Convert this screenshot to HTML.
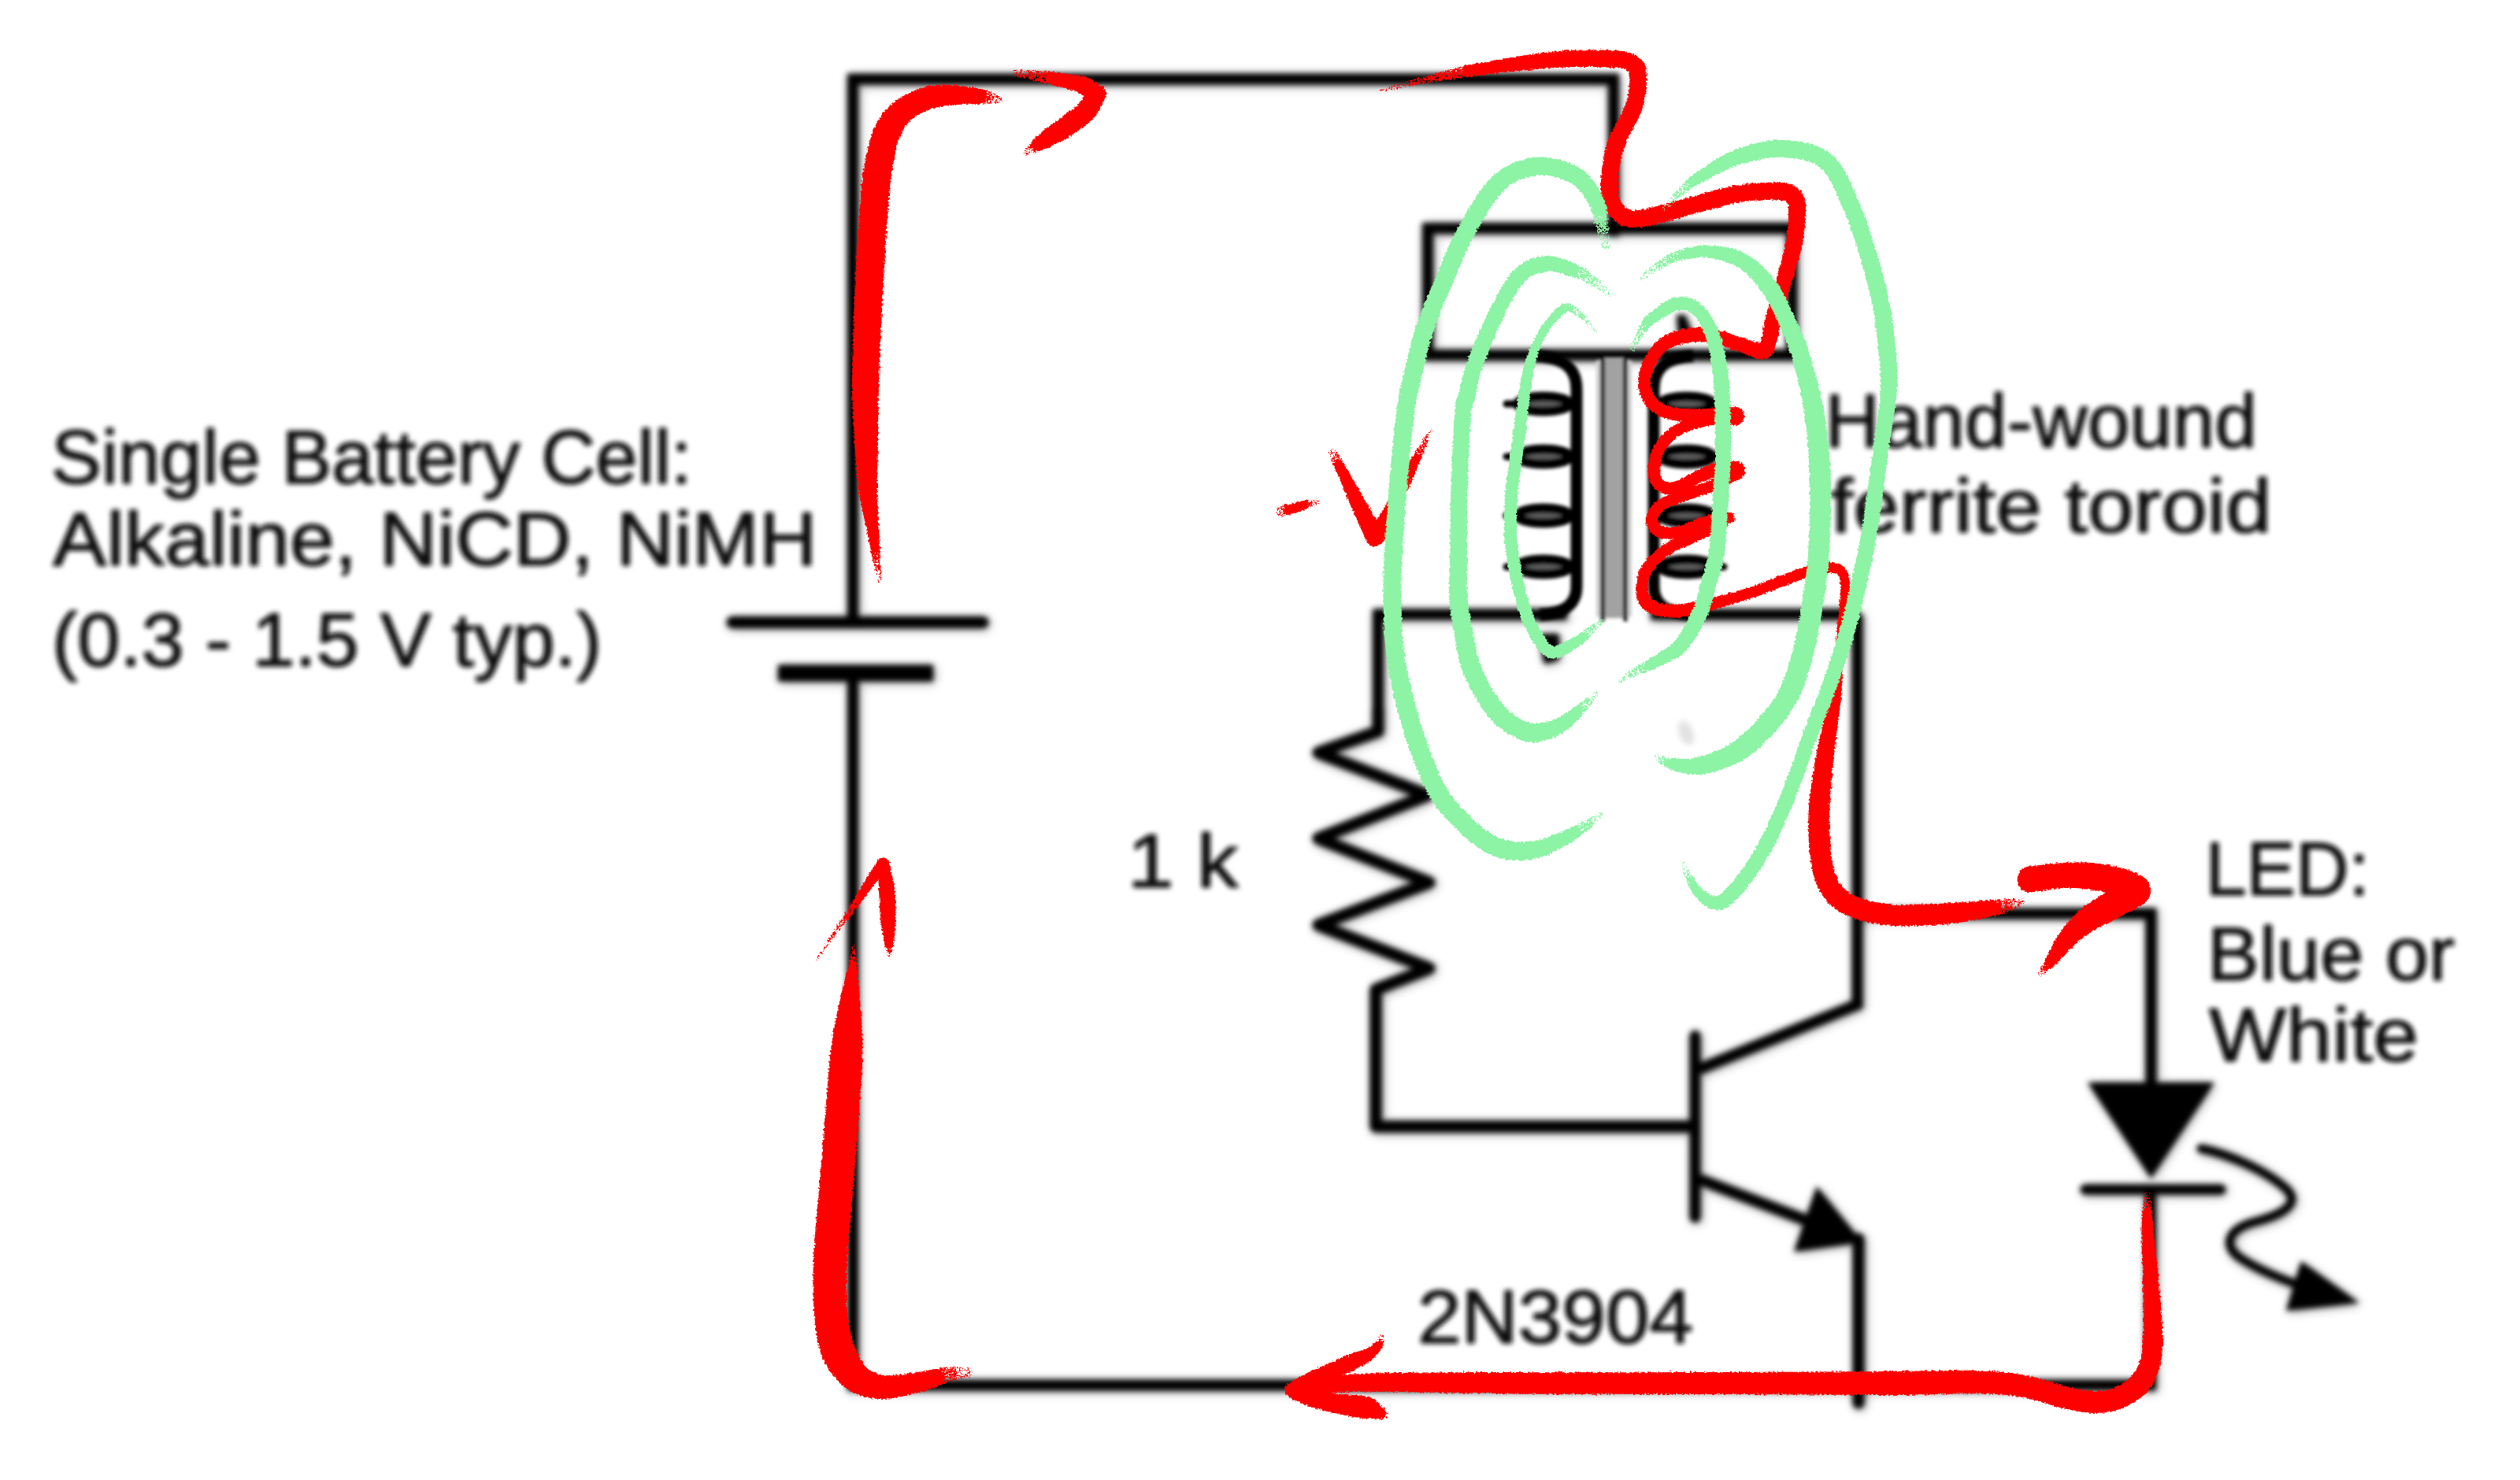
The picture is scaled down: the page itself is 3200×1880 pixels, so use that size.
<!DOCTYPE html>
<html><head><meta charset="utf-8"><title>Joule thief</title>
<style>
html,body{margin:0;padding:0;background:#fff;}
body{width:3200px;height:1880px;overflow:hidden;}
svg{display:block;}
text{font-family:"Liberation Sans",sans-serif;fill:#0c0c0c;stroke:#0c0c0c;stroke-width:1.6px;stroke-linejoin:round;}
</style></head><body>
<svg width="3200" height="1880" viewBox="0 0 3200 1880">
<defs>
<filter id="soft" x="0" y="0" width="3200" height="1880" filterUnits="userSpaceOnUse"><feGaussianBlur stdDeviation="3.6"/></filter>
<filter id="soft2" x="0" y="0" width="3200" height="1880" filterUnits="userSpaceOnUse"><feGaussianBlur stdDeviation="2.2"/></filter>
<filter id="halo" x="0" y="0" width="3200" height="1880" filterUnits="userSpaceOnUse"><feGaussianBlur stdDeviation="7"/></filter>
<filter id="softt" x="0" y="0" width="3200" height="1880" filterUnits="userSpaceOnUse"><feGaussianBlur stdDeviation="3.1"/></filter>
<filter id="rough" x="0" y="0" width="3200" height="1880" filterUnits="userSpaceOnUse" color-interpolation-filters="sRGB">
<feTurbulence type="fractalNoise" baseFrequency="0.35" numOctaves="2" seed="3" result="n"/>
<feDisplacementMap in="SourceGraphic" in2="n" scale="5" xChannelSelector="R" yChannelSelector="G"/>
</filter>
<filter id="sp1" x="0" y="0" width="3200" height="1880" filterUnits="userSpaceOnUse" color-interpolation-filters="sRGB">
<feTurbulence type="fractalNoise" baseFrequency="0.45" numOctaves="2" seed="5" result="n"/>
<feColorMatrix in="n" type="matrix" values="0 0 0 0 0  0 0 0 0 0  0 0 0 0 0  14 0 0 0 -5.04" result="m"/>
<feComposite in="SourceGraphic" in2="m" operator="in"/></filter>
<filter id="sp2" x="0" y="0" width="3200" height="1880" filterUnits="userSpaceOnUse" color-interpolation-filters="sRGB">
<feTurbulence type="fractalNoise" baseFrequency="0.45" numOctaves="2" seed="6" result="n"/>
<feColorMatrix in="n" type="matrix" values="0 0 0 0 0  0 0 0 0 0  0 0 0 0 0  14 0 0 0 -6.02" result="m"/>
<feComposite in="SourceGraphic" in2="m" operator="in"/></filter>
<filter id="sp3" x="0" y="0" width="3200" height="1880" filterUnits="userSpaceOnUse" color-interpolation-filters="sRGB">
<feTurbulence type="fractalNoise" baseFrequency="0.45" numOctaves="2" seed="7" result="n"/>
<feColorMatrix in="n" type="matrix" values="0 0 0 0 0  0 0 0 0 0  0 0 0 0 0  14 0 0 0 -7.14" result="m"/>
<feComposite in="SourceGraphic" in2="m" operator="in"/></filter>
</defs>
<rect width="3200" height="1880" fill="#fff"/>
<g filter="url(#halo)" opacity="0.4" transform="translate(2,2)"><use href="#ckt"/></g>
<g filter="url(#soft)"><g id="ckt" stroke="#000" fill="#000">
<polyline points="1083,786 1083,100.5 2049,100.5 2049,300" stroke-width="14" fill="none" stroke-linejoin="miter"/>
<line x1="930" y1="790.5" x2="1248" y2="790.5" stroke-width="15" stroke-linecap="round"/>
<line x1="988" y1="855" x2="1185" y2="855" stroke-width="21" stroke-linecap="butt"/>
<polyline points="1083,856 1083,1759.5 2731,1759.5 2731,1512" stroke-width="14" fill="none" stroke-linejoin="miter"/>
<rect x="1813" y="290" width="462.5" height="161" fill="none" stroke-width="14"/>
<polyline points="1750,928 1750,780.5 1990,780.5" stroke-width="14" fill="none" stroke-linejoin="miter"/>
<polyline points="2096,780.5 2359,780.5" stroke-width="14" fill="none" stroke-linejoin="miter"/>
<polyline points="1750,900 1750,929 1674,956 1813,1010 1674,1065 1815,1121 1674,1175 1815,1230 1747,1257 1747,1431 2152,1431" stroke-width="15" fill="none" stroke-linejoin="round"/>
<line x1="2152.5" y1="1316" x2="2152.5" y2="1546" stroke-width="14" stroke-linecap="round"/>
<polyline points="2158,1358 2358.5,1276 2358.5,780.5" stroke-width="14" fill="none" stroke-linejoin="miter"/>
<line x1="2158" y1="1498" x2="2335" y2="1566" stroke-width="14" stroke-linecap="butt"/>
<polygon points="2365,1578 2307,1507 2278,1590" stroke="none"/>
<line x1="2360" y1="1574" x2="2360" y2="1782" stroke-width="15" stroke-linecap="round"/>
<polyline points="2358.5,1160.5 2731.5,1160.5 2731.5,1380" stroke-width="14" fill="none" stroke-linejoin="miter"/>
<polygon points="2651,1375 2812,1375 2731.5,1497" stroke="none"/>
<line x1="2648" y1="1511" x2="2820" y2="1511" stroke-width="13" stroke-linecap="round"/>
<path d="M2795,1459 C2830,1466 2880,1488 2905,1512 C2925,1535 2880,1548 2860,1553 C2825,1564 2825,1585 2845,1598 C2870,1615 2905,1628 2935,1638" fill="none" stroke-width="11" stroke-linecap="round"/>
<polygon points="2996,1655 2922,1602 2903,1665" stroke="none"/>
<path d="M1958,808 L1977,808 L1977,836 L1963,840 Z" stroke-width="6" stroke-linejoin="round"/>
<path d="M2129,400 L2140,400 L2149,424 L2131,424 Z" stroke="none"/>
</g></g>
<g filter="url(#soft2)" stroke="#000" fill="#000"><rect x="2027" y="458" width="45" height="326" fill="#d0d0d0" stroke="none"/>
<rect x="2036" y="454" width="27" height="331" fill="#a2a2a2" stroke="none"/>
<line x1="2035" y1="453" x2="2035" y2="789" stroke-width="5.5"/>
<line x1="2064" y1="453" x2="2064" y2="789" stroke-width="5.5"/>
<path d="M1950,452 C1990,455 2002,470 2002,495 L2002,745 C2002,765 1990,779 1955,781" fill="none" stroke-width="15"/>
<ellipse cx="1960" cy="513" rx="33" ry="9.5" fill="#5c5c5c" stroke-width="12"/>
<line x1="1924" y1="513" x2="1913" y2="513" stroke-width="9" stroke-linecap="round"/>
<ellipse cx="1960" cy="580" rx="33" ry="9.5" fill="#5c5c5c" stroke-width="12"/>
<line x1="1924" y1="580" x2="1913" y2="580" stroke-width="9" stroke-linecap="round"/>
<ellipse cx="1960" cy="655" rx="33" ry="9.5" fill="#5c5c5c" stroke-width="12"/>
<line x1="1924" y1="655" x2="1913" y2="655" stroke-width="9" stroke-linecap="round"/>
<ellipse cx="1960" cy="720" rx="33" ry="9.5" fill="#5c5c5c" stroke-width="12"/>
<line x1="1924" y1="720" x2="1913" y2="720" stroke-width="9" stroke-linecap="round"/>
<path d="M2150,452 C2112,455 2100,470 2100,495 L2100,745 C2100,765 2112,779 2150,781" fill="none" stroke-width="15"/>
<ellipse cx="2142" cy="513" rx="33" ry="9.5" fill="#5c5c5c" stroke-width="12"/>
<line x1="2178" y1="513" x2="2189" y2="513" stroke-width="9" stroke-linecap="round"/>
<ellipse cx="2142" cy="580" rx="33" ry="9.5" fill="#5c5c5c" stroke-width="12"/>
<line x1="2178" y1="580" x2="2189" y2="580" stroke-width="9" stroke-linecap="round"/>
<ellipse cx="2142" cy="655" rx="33" ry="9.5" fill="#5c5c5c" stroke-width="12"/>
<line x1="2178" y1="655" x2="2189" y2="655" stroke-width="9" stroke-linecap="round"/>
<ellipse cx="2142" cy="720" rx="33" ry="9.5" fill="#5c5c5c" stroke-width="12"/>
<line x1="2178" y1="720" x2="2189" y2="720" stroke-width="9" stroke-linecap="round"/></g>
<g filter="url(#soft)"><ellipse cx="2141" cy="931" rx="9" ry="16" fill="#e2e2e2" transform="rotate(-20 2141 931)"/></g>
<g id="texts" filter="url(#softt)">
<text id="t0" x="64.9" y="613.5" font-size="96" textLength="813.8" lengthAdjust="spacingAndGlyphs">Single Battery Cell:</text>
<text id="t1" x="67.0" y="718" font-size="96" textLength="970.6" lengthAdjust="spacingAndGlyphs">Alkaline, NiCD, NiMH</text>
<text id="t2" x="65.9" y="846" font-size="96" textLength="698.2" lengthAdjust="spacingAndGlyphs">(0.3 - 1.5 V typ.)</text>
<text id="t3" x="2317.3" y="568" font-size="96" textLength="548.8" lengthAdjust="spacingAndGlyphs">Hand-wound</text>
<text id="t4" x="2324.0" y="676" font-size="96" textLength="560.6" lengthAdjust="spacingAndGlyphs">ferrite toroid</text>
<text id="t5" x="2800.4" y="1136.5" font-size="96" textLength="208.3" lengthAdjust="spacingAndGlyphs">LED:</text>
<text id="t6" x="2802.8" y="1244.5" font-size="96" textLength="314.3" lengthAdjust="spacingAndGlyphs">Blue or</text>
<text id="t7" x="2805.0" y="1348" font-size="96" textLength="266.1" lengthAdjust="spacingAndGlyphs">White</text>
<text id="t8" x="1799.9" y="1706.4" font-size="96" textLength="350.2" lengthAdjust="spacingAndGlyphs">2N3904</text>
<text id="t9" x="1431.7" y="1127" font-size="96" textLength="141.0" lengthAdjust="spacingAndGlyphs">1 k</text>
</g>
<g fill="#fe0000" filter="url(#rough)">
<path d="M1244.4,112.7 L1240.6,112.0 L1236.5,111.4 L1232.0,110.7 L1227.1,109.9 L1221.7,109.2 L1216.2,108.6 L1210.5,108.1 L1204.7,107.7 L1198.9,107.6 L1193.2,107.7 L1187.7,108.2 L1182.4,109.0 L1177.4,110.0 L1172.4,111.2 L1167.5,112.7 L1162.8,114.4 L1158.1,116.2 L1153.6,118.2 L1149.2,120.5 L1145.0,122.8 L1141.0,125.4 L1137.2,128.0 L1133.6,130.9 L1130.2,133.9 L1127.0,137.0 L1124.0,140.4 L1121.1,144.0 L1118.5,147.7 L1116.0,151.6 L1113.7,155.7 L1111.5,160.1 L1109.3,164.9 L1107.4,170.0 L1105.7,175.3 L1104.1,180.6 L1102.7,186.0 L1101.4,191.3 L1100.3,196.7 L1099.2,201.9 L1098.2,207.0 L1097.3,211.9 L1096.4,216.6 L1095.7,221.1 L1095.1,225.3 L1094.6,229.5 L1094.1,233.8 L1093.8,238.2 L1093.4,243.0 L1093.0,248.2 L1092.6,254.0 L1092.1,260.6 L1091.5,268.1 L1090.9,276.1 L1090.3,284.7 L1089.6,293.8 L1089.0,303.3 L1088.3,313.3 L1087.7,323.6 L1087.1,334.2 L1086.5,345.0 L1086.0,356.1 L1085.5,367.8 L1085.0,380.3 L1084.5,393.6 L1083.9,407.2 L1083.5,421.0 L1083.0,434.7 L1082.6,448.0 L1082.3,460.8 L1082.1,472.8 L1082.0,483.7 L1082.0,493.6 L1082.1,502.7 L1082.3,511.2 L1082.6,519.1 L1082.9,526.5 L1083.3,533.6 L1083.7,540.4 L1084.2,547.1 L1084.6,553.7 L1085.0,560.3 L1085.4,567.0 L1085.8,573.5 L1086.2,579.8 L1086.6,586.0 L1087.1,592.0 L1087.6,597.9 L1088.1,603.8 L1088.7,609.5 L1089.3,615.2 L1090.0,620.9 L1090.9,626.5 L1091.8,632.0 L1092.8,637.3 L1093.8,642.5 L1094.9,647.6 L1096.0,652.5 L1097.1,657.3 L1098.1,662.0 L1099.1,666.5 L1100.1,671.0 L1100.9,675.4 L1101.8,679.7 L1102.6,684.0 L1103.5,688.1 L1104.3,692.2 L1105.1,696.1 L1105.8,698.4 L1107.4,700.2 L1109.5,701.2 L1111.9,701.4 L1114.1,700.7 L1115.9,699.1 L1117.0,697.0 L1117.2,694.6 L1117.0,690.6 L1116.8,686.5 L1116.6,682.3 L1116.4,677.9 L1116.1,673.5 L1115.9,669.0 L1115.7,664.4 L1115.5,659.6 L1115.2,654.8 L1115.0,649.9 L1114.7,644.9 L1114.5,639.9 L1114.3,634.8 L1114.1,629.6 L1114.0,624.4 L1114.0,619.1 L1114.0,613.7 L1114.0,608.3 L1114.1,602.7 L1114.2,597.0 L1114.3,591.2 L1114.5,585.3 L1114.6,579.2 L1114.7,572.9 L1114.9,566.4 L1115.0,559.7 L1115.1,552.9 L1115.1,546.2 L1115.1,539.5 L1115.2,532.8 L1115.2,525.8 L1115.2,518.6 L1115.3,510.9 L1115.5,502.7 L1115.7,493.9 L1116.0,484.3 L1116.4,473.7 L1116.9,461.9 L1117.4,449.3 L1118.0,436.0 L1118.7,422.4 L1119.3,408.7 L1120.0,395.2 L1120.7,382.0 L1121.4,369.5 L1122.0,357.9 L1122.6,346.9 L1123.2,336.2 L1123.8,325.7 L1124.4,315.5 L1125.0,305.7 L1125.6,296.2 L1126.2,287.2 L1126.8,278.7 L1127.4,270.8 L1127.9,263.4 L1128.5,256.7 L1128.9,250.9 L1129.3,245.8 L1129.7,241.4 L1130.1,237.3 L1130.5,233.6 L1130.9,230.0 L1131.4,226.3 L1132.0,222.5 L1132.7,218.1 L1133.5,213.3 L1134.3,208.4 L1135.2,203.5 L1136.1,198.6 L1137.0,193.8 L1138.0,189.2 L1139.1,184.8 L1140.2,180.8 L1141.3,177.2 L1142.5,173.9 L1143.9,170.8 L1145.2,167.9 L1146.6,165.3 L1148.1,162.8 L1149.5,160.6 L1151.1,158.5 L1152.8,156.4 L1154.6,154.5 L1156.7,152.5 L1159.0,150.6 L1161.5,148.8 L1164.3,147.0 L1167.3,145.2 L1170.5,143.6 L1173.9,142.0 L1177.4,140.6 L1181.0,139.2 L1184.8,137.9 L1188.6,136.8 L1192.3,135.8 L1196.2,135.0 L1200.6,134.2 L1205.3,133.7 L1210.4,133.2 L1215.6,132.9 L1220.7,132.7 L1225.8,132.5 L1230.7,132.3 L1235.3,132.2 L1239.4,132.0 L1243.0,131.8 L1246.7,131.3 L1250.0,129.5 L1252.3,126.5 L1253.2,122.9 L1252.8,119.2 L1250.9,116.0 L1248.0,113.7Z M1230.0,122.0 a10.0,10.0 0 1,0 20.0,0 a10.0,10.0 0 1,0 -20.0,0Z M1176.0,122.0 a14.0,14.0 0 1,0 28.0,0 a14.0,14.0 0 1,0 -28.0,0Z M1134.5,138.0 a15.5,15.5 0 1,0 31.0,0 a15.5,15.5 0 1,0 -31.0,0Z M1110.0,167.0 a17.0,17.0 0 1,0 34.0,0 a17.0,17.0 0 1,0 -34.0,0Z M1097.0,215.0 a18.0,18.0 0 1,0 36.0,0 a18.0,18.0 0 1,0 -36.0,0Z M1092.0,262.0 a18.0,18.0 0 1,0 36.0,0 a18.0,18.0 0 1,0 -36.0,0Z M1086.0,357.0 a18.0,18.0 0 1,0 36.0,0 a18.0,18.0 0 1,0 -36.0,0Z M1082.0,484.0 a17.0,17.0 0 1,0 34.0,0 a17.0,17.0 0 1,0 -34.0,0Z M1085.0,560.0 a15.0,15.0 0 1,0 30.0,0 a15.0,15.0 0 1,0 -30.0,0Z M1090.0,620.0 a12.0,12.0 0 1,0 24.0,0 a12.0,12.0 0 1,0 -24.0,0Z M1100.0,670.0 a8.0,8.0 0 1,0 16.0,0 a8.0,8.0 0 1,0 -16.0,0Z"/>
<path d="M1333.4,107.3 L1336.2,108.0 L1339.1,108.7 L1341.8,109.4 L1344.6,110.1 L1347.3,110.8 L1350.1,111.6 L1352.9,112.3 L1355.6,113.0 L1358.2,113.7 L1360.8,114.4 L1363.2,115.1 L1365.4,115.8 L1367.4,116.6 L1369.2,117.4 L1370.7,118.1 L1372.0,118.9 L1373.3,119.9 L1374.8,121.1 L1376.3,122.3 L1377.8,123.7 L1379.2,125.1 L1380.6,126.4 L1381.9,127.7 L1383.3,129.0 L1384.4,129.9 L1388.8,132.1 L1393.7,132.4 L1398.3,130.8 L1401.9,127.6 L1404.1,123.2 L1404.4,118.3 L1402.8,113.7 L1399.6,110.1 L1398.8,109.6 L1397.7,108.8 L1396.3,107.8 L1394.5,106.5 L1392.5,105.0 L1390.2,103.5 L1387.8,102.0 L1385.1,100.5 L1382.3,99.1 L1379.3,97.9 L1376.3,96.9 L1373.4,96.2 L1370.5,95.6 L1367.6,95.1 L1364.7,94.7 L1361.9,94.4 L1359.0,94.1 L1356.2,93.8 L1353.5,93.5 L1350.7,93.2 L1347.9,92.8 L1345.0,92.5 L1342.1,92.1 L1339.1,91.8 L1336.1,91.5 L1333.0,91.5 L1330.1,92.8 L1328.0,95.1 L1326.8,98.0 L1326.9,101.1 L1328.2,104.0 L1330.5,106.2Z M1340.0,102.0 a9.0,9.0 0 1,0 18.0,0 a9.0,9.0 0 1,0 -18.0,0Z M1364.0,108.0 a11.0,11.0 0 1,0 22.0,0 a11.0,11.0 0 1,0 -22.0,0Z M1379.5,120.0 a12.5,12.5 0 1,0 25.0,0 a12.5,12.5 0 1,0 -25.0,0Z"/>
<path d="M1381.1,114.0 L1380.2,115.4 L1379.3,117.1 L1378.4,119.0 L1377.4,120.8 L1376.3,122.8 L1375.2,124.7 L1374.0,126.6 L1372.8,128.3 L1371.6,129.9 L1370.4,131.2 L1368.9,132.7 L1367.1,134.3 L1365.0,136.1 L1362.7,137.9 L1360.3,139.8 L1357.7,141.7 L1355.1,143.7 L1352.5,145.6 L1349.9,147.5 L1347.5,149.4 L1345.1,151.2 L1342.8,152.9 L1340.4,154.7 L1338.0,156.4 L1335.5,158.2 L1333.1,159.9 L1330.7,161.6 L1328.4,163.4 L1326.2,165.1 L1324.1,166.7 L1322.2,168.3 L1320.4,169.9 L1318.7,171.5 L1317.1,173.0 L1315.6,174.5 L1314.1,175.9 L1311.7,178.3 L1310.4,181.4 L1310.3,184.8 L1311.6,187.9 L1313.9,190.3 L1317.0,191.7 L1320.4,191.7 L1323.5,190.5 L1325.4,189.8 L1327.4,189.0 L1329.4,188.2 L1331.5,187.3 L1333.7,186.3 L1335.9,185.3 L1338.2,184.2 L1340.6,183.0 L1343.1,181.8 L1345.7,180.4 L1348.5,179.0 L1351.3,177.4 L1354.1,175.8 L1356.9,174.2 L1359.8,172.4 L1362.5,170.6 L1365.2,168.8 L1367.9,166.9 L1370.7,164.9 L1373.5,162.8 L1376.3,160.7 L1379.2,158.4 L1381.9,156.1 L1384.6,153.8 L1387.1,151.3 L1389.6,148.8 L1391.9,146.0 L1394.0,143.1 L1395.9,140.2 L1397.4,137.4 L1398.8,134.7 L1400.0,132.3 L1401.0,130.1 L1401.8,128.3 L1402.4,127.0 L1402.9,126.0 L1404.4,121.4 L1404.0,116.5 L1401.8,112.2 L1398.0,109.1 L1393.4,107.6 L1388.5,108.0 L1384.2,110.2Z M1379.5,120.0 a12.5,12.5 0 1,0 25.0,0 a12.5,12.5 0 1,0 -25.0,0Z M1367.0,140.0 a13.0,13.0 0 1,0 26.0,0 a13.0,13.0 0 1,0 -26.0,0Z M1342.0,160.0 a13.0,13.0 0 1,0 26.0,0 a13.0,13.0 0 1,0 -26.0,0Z M1319.0,176.0 a11.0,11.0 0 1,0 22.0,0 a11.0,11.0 0 1,0 -22.0,0Z"/>
<path d="M1864.9,97.3 L1870.2,96.6 L1876.0,95.9 L1882.0,95.2 L1888.4,94.5 L1894.9,93.7 L1901.5,93.0 L1908.1,92.3 L1914.7,91.6 L1921.1,90.9 L1927.6,90.3 L1934.1,89.6 L1940.7,89.0 L1947.3,88.3 L1954.0,87.7 L1960.6,87.1 L1967.2,86.6 L1973.8,86.2 L1980.2,85.8 L1986.6,85.5 L1993.0,85.3 L1999.7,85.1 L2006.5,85.1 L2013.4,85.1 L2020.1,85.1 L2026.7,85.2 L2032.9,85.3 L2038.7,85.5 L2043.9,85.7 L2048.4,86.0 L2052.2,86.2 L2055.4,86.5 L2057.9,86.8 L2060.0,87.1 L2061.5,87.4 L2062.6,87.7 L2063.5,88.0 L2064.3,88.3 L2065.2,88.7 L2066.3,89.4 L2067.5,90.1 L2068.3,90.7 L2068.7,91.0 L2068.7,91.0 L2068.5,90.8 L2068.5,90.6 L2068.5,90.8 L2068.7,91.4 L2068.9,92.7 L2069.0,94.6 L2069.1,97.2 L2069.1,100.2 L2069.0,103.6 L2068.8,107.3 L2068.5,111.3 L2068.0,115.3 L2067.4,119.5 L2066.6,123.6 L2065.6,127.7 L2064.5,131.6 L2063.2,135.4 L2061.4,139.5 L2059.2,143.9 L2056.7,148.5 L2054.1,153.3 L2051.3,158.3 L2048.6,163.4 L2046.0,168.7 L2043.6,174.1 L2041.6,179.5 L2040.0,184.8 L2038.6,190.0 L2037.3,195.3 L2036.3,200.6 L2035.4,205.8 L2034.6,210.9 L2034.0,215.8 L2033.6,220.6 L2033.2,225.2 L2033.0,229.6 L2032.9,233.7 L2032.9,237.8 L2033.0,241.8 L2033.3,245.7 L2033.7,249.5 L2034.4,253.2 L2035.2,256.9 L2036.3,260.5 L2037.7,264.0 L2039.4,267.3 L2041.3,270.4 L2043.4,273.4 L2045.7,276.1 L2048.3,278.7 L2051.2,281.1 L2054.4,283.3 L2057.7,285.2 L2061.4,286.8 L2065.2,288.0 L2069.3,288.9 L2073.8,289.3 L2078.3,289.3 L2082.8,288.9 L2087.3,288.2 L2091.8,287.4 L2096.2,286.5 L2100.6,285.5 L2104.7,284.5 L2108.7,283.6 L2112.4,282.7 L2116.1,281.9 L2119.7,281.0 L2123.0,280.0 L2126.2,279.1 L2129.3,278.1 L2132.5,277.1 L2135.8,276.1 L2139.4,275.0 L2143.4,273.9 L2147.9,272.6 L2153.1,271.2 L2159.0,269.6 L2165.2,267.8 L2171.7,266.0 L2178.4,264.2 L2185.1,262.4 L2191.7,260.7 L2198.1,259.2 L2204.2,257.9 L2209.8,256.8 L2215.2,256.0 L2220.7,255.3 L2226.2,254.8 L2231.6,254.4 L2236.8,254.0 L2241.8,253.9 L2246.5,253.8 L2250.9,253.8 L2254.9,253.8 L2258.4,254.0 L2261.2,254.2 L2263.5,254.5 L2265.2,254.8 L2266.5,255.1 L2267.3,255.4 L2267.8,255.6 L2268.2,255.9 L2268.6,256.2 L2269.2,256.7 L2269.8,257.4 L2270.2,257.9 L2270.4,258.1 L2270.4,258.2 L2270.5,258.4 L2270.6,258.9 L2270.7,259.8 L2270.8,261.2 L2270.9,263.0 L2271.0,265.3 L2271.0,268.0 L2271.0,271.0 L2270.9,274.3 L2270.8,278.0 L2270.6,282.0 L2270.3,286.2 L2270.0,290.5 L2269.5,294.9 L2269.0,299.3 L2268.4,303.7 L2267.7,308.0 L2266.9,312.3 L2265.9,316.8 L2264.8,321.4 L2263.5,326.1 L2262.2,330.9 L2260.9,335.7 L2259.5,340.6 L2258.1,345.5 L2256.7,350.5 L2255.4,355.3 L2254.1,360.1 L2252.7,365.0 L2251.3,369.9 L2249.9,374.9 L2248.5,379.8 L2247.2,384.6 L2245.8,389.4 L2244.6,394.0 L2243.4,398.4 L2242.3,402.6 L2241.3,406.7 L2240.4,410.7 L2239.7,414.5 L2239.0,418.1 L2238.4,421.5 L2237.8,424.7 L2237.2,427.5 L2236.7,430.0 L2236.1,432.0 L2235.5,433.8 L2234.9,435.7 L2234.3,437.4 L2233.9,438.6 L2233.7,439.0 L2234.0,438.5 L2234.9,437.4 L2236.4,436.4 L2237.5,436.0 L2237.7,435.9 L2237.3,436.0 L2236.4,436.0 L2234.8,435.8 L2232.7,435.3 L2230.1,434.6 L2227.2,433.7 L2224.0,432.7 L2220.8,431.6 L2217.4,430.5 L2214.0,429.4 L2210.8,428.4 L2207.8,427.5 L2204.7,426.5 L2201.6,425.4 L2198.3,424.2 L2195.0,423.1 L2191.7,421.9 L2188.2,420.8 L2184.7,419.8 L2181.2,418.9 L2177.6,418.1 L2174.2,417.6 L2170.9,417.1 L2167.6,416.7 L2164.3,416.4 L2160.9,416.2 L2157.5,416.1 L2154.1,416.1 L2150.6,416.3 L2147.1,416.6 L2143.6,417.1 L2140.2,417.7 L2136.6,418.5 L2133.0,419.3 L2129.3,420.4 L2125.6,421.5 L2121.9,422.8 L2118.3,424.3 L2114.7,426.0 L2111.3,427.9 L2108.1,430.1 L2105.1,432.4 L2102.3,435.0 L2099.7,437.8 L2097.4,440.7 L2095.2,443.6 L2093.2,446.6 L2091.4,449.7 L2089.7,452.7 L2088.2,455.7 L2086.8,458.6 L2085.4,461.6 L2084.2,464.7 L2083.1,467.9 L2082.2,471.1 L2081.3,474.4 L2080.7,477.7 L2080.2,481.0 L2079.9,484.3 L2079.9,487.5 L2080.0,490.8 L2080.5,494.1 L2081.3,497.3 L2082.3,500.4 L2083.5,503.3 L2084.8,506.2 L2086.3,508.9 L2087.9,511.5 L2089.5,513.9 L2091.2,516.2 L2093.0,518.3 L2094.9,520.3 L2096.8,522.1 L2098.9,523.8 L2101.0,525.3 L2103.3,526.6 L2105.6,527.8 L2108.0,528.9 L2110.5,529.9 L2113.1,530.8 L2115.8,531.7 L2118.8,532.5 L2122.0,533.2 L2125.4,533.9 L2128.8,534.4 L2132.3,534.9 L2135.8,535.3 L2139.3,535.7 L2142.8,536.0 L2146.3,536.3 L2149.7,536.5 L2153.1,536.6 L2156.7,536.7 L2160.2,536.6 L2163.7,536.5 L2167.1,536.3 L2170.4,536.2 L2173.6,536.0 L2176.6,535.9 L2179.4,535.9 L2182.0,536.0 L2184.6,536.2 L2187.1,536.4 L2189.6,536.7 L2192.1,537.1 L2194.4,537.5 L2196.6,537.8 L2198.6,538.2 L2200.5,538.5 L2202.1,538.8 L2203.4,539.0 L2207.7,538.4 L2211.3,536.2 L2213.9,532.8 L2215.0,528.6 L2214.4,524.3 L2212.2,520.7 L2208.8,518.1 L2204.6,517.0 L2203.4,517.1 L2201.9,517.2 L2200.0,517.2 L2197.9,517.3 L2195.6,517.4 L2193.1,517.5 L2190.4,517.6 L2187.7,517.8 L2184.9,517.9 L2182.0,518.0 L2179.0,518.2 L2175.9,518.4 L2172.7,518.6 L2169.4,518.8 L2166.1,519.0 L2162.9,519.2 L2159.6,519.4 L2156.4,519.5 L2153.4,519.6 L2150.3,519.5 L2147.2,519.4 L2143.9,519.3 L2140.6,519.1 L2137.3,518.9 L2134.1,518.6 L2130.9,518.3 L2127.9,517.9 L2125.1,517.4 L2122.5,516.9 L2120.2,516.3 L2118.0,515.7 L2116.0,515.0 L2114.2,514.3 L2112.6,513.5 L2111.1,512.8 L2109.8,511.9 L2108.5,511.0 L2107.3,510.1 L2106.2,509.0 L2105.0,507.7 L2103.8,506.2 L2102.5,504.6 L2101.3,502.8 L2100.1,500.9 L2099.1,498.9 L2098.1,496.9 L2097.3,494.9 L2096.7,493.0 L2096.2,491.0 L2096.0,489.2 L2095.8,487.2 L2095.9,485.1 L2096.1,482.8 L2096.4,480.4 L2096.9,477.9 L2097.5,475.3 L2098.3,472.8 L2099.2,470.3 L2100.2,467.8 L2101.2,465.4 L2102.5,463.0 L2103.8,460.5 L2105.3,458.0 L2106.9,455.6 L2108.5,453.2 L2110.3,451.0 L2112.1,449.0 L2114.0,447.1 L2115.9,445.4 L2117.9,443.9 L2120.0,442.6 L2122.4,441.4 L2125.1,440.3 L2127.9,439.2 L2130.9,438.2 L2134.0,437.4 L2137.2,436.6 L2140.3,435.9 L2143.4,435.4 L2146.4,434.9 L2149.2,434.5 L2151.9,434.3 L2154.6,434.2 L2157.3,434.1 L2160.1,434.2 L2162.9,434.4 L2165.7,434.6 L2168.6,435.0 L2171.5,435.4 L2174.4,435.9 L2177.2,436.4 L2180.1,437.1 L2183.0,438.0 L2186.1,438.9 L2189.2,439.9 L2192.4,441.1 L2195.6,442.2 L2198.8,443.4 L2202.1,444.5 L2205.2,445.6 L2208.2,446.6 L2211.2,447.8 L2214.4,449.0 L2217.6,450.3 L2220.8,451.6 L2224.0,452.9 L2227.2,454.0 L2230.3,455.0 L2233.6,455.7 L2236.7,456.0 L2239.6,455.9 L2242.4,455.5 L2245.6,454.3 L2248.6,452.2 L2250.7,449.6 L2252.0,447.3 L2252.8,445.4 L2253.3,443.7 L2253.8,442.1 L2254.5,440.2 L2255.3,437.6 L2256.1,434.7 L2256.8,431.6 L2257.4,428.5 L2258.0,425.2 L2258.6,421.8 L2259.3,418.3 L2260.0,414.8 L2260.8,411.1 L2261.7,407.4 L2262.7,403.5 L2263.9,399.2 L2265.1,394.7 L2266.4,390.0 L2267.7,385.2 L2269.1,380.3 L2270.5,375.4 L2271.9,370.4 L2273.3,365.5 L2274.6,360.7 L2276.0,356.0 L2277.4,351.2 L2278.9,346.3 L2280.4,341.4 L2281.9,336.5 L2283.3,331.6 L2284.8,326.6 L2286.1,321.7 L2287.3,316.8 L2288.3,312.0 L2289.2,307.2 L2290.0,302.3 L2290.7,297.5 L2291.3,292.7 L2291.8,288.1 L2292.2,283.6 L2292.5,279.3 L2292.8,275.2 L2292.9,271.4 L2293.0,268.0 L2293.0,265.1 L2293.0,262.4 L2292.9,259.8 L2292.7,257.3 L2292.3,254.7 L2291.6,252.1 L2290.7,249.5 L2289.4,247.0 L2287.8,244.6 L2286.2,242.6 L2284.5,240.9 L2282.7,239.3 L2280.6,237.7 L2278.2,236.2 L2275.6,235.0 L2272.8,234.0 L2269.8,233.3 L2266.7,232.7 L2263.3,232.3 L2259.6,232.0 L2255.6,231.8 L2251.1,231.8 L2246.3,231.8 L2241.1,231.9 L2235.7,232.1 L2230.0,232.4 L2224.2,232.9 L2218.2,233.5 L2212.2,234.2 L2206.2,235.2 L2199.9,236.3 L2193.3,237.7 L2186.5,239.4 L2179.6,241.1 L2172.6,242.9 L2165.8,244.8 L2159.3,246.6 L2153.0,248.4 L2147.3,250.0 L2142.1,251.4 L2137.4,252.7 L2133.2,253.9 L2129.3,255.1 L2125.9,256.1 L2122.7,257.1 L2119.7,258.1 L2116.9,258.9 L2114.0,259.7 L2110.9,260.5 L2107.6,261.3 L2103.7,262.1 L2099.6,263.1 L2095.6,264.1 L2091.5,265.0 L2087.6,265.8 L2083.8,266.5 L2080.3,267.0 L2077.2,267.3 L2074.7,267.3 L2072.7,267.1 L2070.9,266.7 L2069.1,266.2 L2067.5,265.5 L2066.0,264.6 L2064.5,263.6 L2063.2,262.5 L2061.9,261.2 L2060.7,259.8 L2059.6,258.3 L2058.6,256.7 L2057.8,255.0 L2057.1,253.2 L2056.5,251.2 L2055.9,248.9 L2055.5,246.4 L2055.2,243.6 L2055.0,240.7 L2054.9,237.4 L2054.9,234.0 L2055.0,230.4 L2055.2,226.6 L2055.5,222.5 L2055.9,218.2 L2056.4,213.8 L2057.1,209.2 L2057.9,204.6 L2058.8,200.0 L2059.9,195.4 L2061.1,190.8 L2062.4,186.5 L2064.0,182.4 L2065.9,178.0 L2068.1,173.5 L2070.7,168.8 L2073.3,163.9 L2076.0,159.0 L2078.7,154.0 L2081.3,148.8 L2083.6,143.6 L2085.5,138.4 L2086.9,133.3 L2088.1,128.2 L2089.1,123.2 L2089.8,118.3 L2090.4,113.5 L2090.8,108.9 L2091.0,104.5 L2091.1,100.5 L2091.1,96.8 L2091.0,93.4 L2090.7,90.2 L2090.3,87.2 L2089.5,84.3 L2088.5,81.4 L2087.0,78.7 L2085.1,76.3 L2083.1,74.4 L2081.2,72.9 L2079.4,71.7 L2077.7,70.6 L2075.8,69.5 L2073.7,68.4 L2071.4,67.4 L2069.0,66.6 L2066.4,65.9 L2063.6,65.3 L2060.7,64.9 L2057.4,64.6 L2053.8,64.3 L2049.6,64.0 L2044.8,63.8 L2039.4,63.6 L2033.4,63.5 L2027.0,63.4 L2020.2,63.4 L2013.3,63.5 L2006.2,63.6 L1999.1,63.8 L1992.2,64.1 L1985.4,64.5 L1978.8,65.0 L1972.0,65.7 L1965.3,66.4 L1958.5,67.3 L1951.8,68.2 L1945.0,69.1 L1938.4,70.1 L1931.8,71.1 L1925.3,72.1 L1918.9,73.1 L1912.4,74.1 L1905.8,75.2 L1899.1,76.3 L1892.5,77.5 L1886.0,78.7 L1879.7,79.8 L1873.6,81.0 L1867.9,82.1 L1862.6,83.1 L1860.0,84.1 L1858.0,86.0 L1856.8,88.6 L1856.7,91.4 L1857.7,94.0 L1859.6,96.0 L1862.1,97.2Z M1911.0,82.0 a9.0,9.0 0 1,0 18.0,0 a9.0,9.0 0 1,0 -18.0,0Z M1975.5,75.0 a10.5,10.5 0 1,0 21.0,0 a10.5,10.5 0 1,0 -21.0,0Z M2038.0,75.0 a11.0,11.0 0 1,0 22.0,0 a11.0,11.0 0 1,0 -22.0,0Z M2061.0,80.0 a11.0,11.0 0 1,0 22.0,0 a11.0,11.0 0 1,0 -22.0,0Z M2069.0,94.0 a11.0,11.0 0 1,0 22.0,0 a11.0,11.0 0 1,0 -22.0,0Z M2064.0,135.0 a11.0,11.0 0 1,0 22.0,0 a11.0,11.0 0 1,0 -22.0,0Z M2041.0,183.0 a11.0,11.0 0 1,0 22.0,0 a11.0,11.0 0 1,0 -22.0,0Z M2033.0,230.0 a11.0,11.0 0 1,0 22.0,0 a11.0,11.0 0 1,0 -22.0,0Z M2038.0,262.0 a11.0,11.0 0 1,0 22.0,0 a11.0,11.0 0 1,0 -22.0,0Z M2060.0,278.0 a11.0,11.0 0 1,0 22.0,0 a11.0,11.0 0 1,0 -22.0,0Z M2099.0,272.0 a11.0,11.0 0 1,0 22.0,0 a11.0,11.0 0 1,0 -22.0,0Z M2134.0,262.0 a11.0,11.0 0 1,0 22.0,0 a11.0,11.0 0 1,0 -22.0,0Z M2197.0,246.0 a11.0,11.0 0 1,0 22.0,0 a11.0,11.0 0 1,0 -22.0,0Z M2248.0,243.0 a11.0,11.0 0 1,0 22.0,0 a11.0,11.0 0 1,0 -22.0,0Z M2267.0,250.0 a11.0,11.0 0 1,0 22.0,0 a11.0,11.0 0 1,0 -22.0,0Z M2271.0,268.0 a11.0,11.0 0 1,0 22.0,0 a11.0,11.0 0 1,0 -22.0,0Z M2267.5,310.0 a10.5,10.5 0 1,0 21.0,0 a10.5,10.5 0 1,0 -21.0,0Z M2255.0,358.0 a10.0,10.0 0 1,0 20.0,0 a10.0,10.0 0 1,0 -20.0,0Z M2242.0,405.0 a10.0,10.0 0 1,0 20.0,0 a10.0,10.0 0 1,0 -20.0,0Z M2235.0,437.0 a10.0,10.0 0 1,0 20.0,0 a10.0,10.0 0 1,0 -20.0,0Z M2227.0,446.0 a10.0,10.0 0 1,0 20.0,0 a10.0,10.0 0 1,0 -20.0,0Z M2199.0,437.0 a9.0,9.0 0 1,0 18.0,0 a9.0,9.0 0 1,0 -18.0,0Z M2167.0,427.0 a9.0,9.0 0 1,0 18.0,0 a9.0,9.0 0 1,0 -18.0,0Z M2136.0,426.0 a9.0,9.0 0 1,0 18.0,0 a9.0,9.0 0 1,0 -18.0,0Z M2104.5,437.0 a8.5,8.5 0 1,0 17.0,0 a8.5,8.5 0 1,0 -17.0,0Z M2086.0,462.0 a8.0,8.0 0 1,0 16.0,0 a8.0,8.0 0 1,0 -16.0,0Z M2080.0,490.0 a8.0,8.0 0 1,0 16.0,0 a8.0,8.0 0 1,0 -16.0,0Z M2091.0,513.0 a8.0,8.0 0 1,0 16.0,0 a8.0,8.0 0 1,0 -16.0,0Z M2110.0,524.0 a8.0,8.0 0 1,0 16.0,0 a8.0,8.0 0 1,0 -16.0,0Z M2141.5,528.0 a8.5,8.5 0 1,0 17.0,0 a8.5,8.5 0 1,0 -17.0,0Z M2173.0,527.0 a9.0,9.0 0 1,0 18.0,0 a9.0,9.0 0 1,0 -18.0,0Z M2193.0,528.0 a11.0,11.0 0 1,0 22.0,0 a11.0,11.0 0 1,0 -22.0,0Z"/>
<path d="M2203.6,520.0 L2202.0,520.2 L2199.9,520.4 L2197.4,520.6 L2194.5,520.9 L2191.2,521.2 L2187.7,521.6 L2184.0,522.1 L2180.2,522.6 L2176.3,523.3 L2172.5,524.1 L2168.7,525.0 L2164.7,526.0 L2160.4,527.1 L2156.0,528.2 L2151.6,529.5 L2147.1,530.8 L2142.7,532.3 L2138.4,533.8 L2134.4,535.5 L2130.6,537.3 L2127.1,539.3 L2123.8,541.4 L2120.7,543.6 L2117.8,545.9 L2115.0,548.2 L2112.5,550.7 L2110.1,553.1 L2107.9,555.6 L2105.8,558.1 L2103.9,560.6 L2102.1,563.3 L2100.5,566.1 L2099.1,569.0 L2097.9,571.8 L2096.8,574.7 L2096.0,577.4 L2095.2,580.1 L2094.6,582.8 L2094.1,585.3 L2093.6,587.7 L2093.2,590.1 L2092.9,592.6 L2092.7,595.1 L2092.6,597.6 L2092.6,600.1 L2092.8,602.6 L2093.1,605.0 L2093.6,607.4 L2094.3,609.8 L2095.2,612.1 L2096.3,614.3 L2097.6,616.3 L2099.1,618.3 L2100.8,620.0 L2102.5,621.7 L2104.4,623.1 L2106.5,624.5 L2108.6,625.6 L2110.8,626.6 L2113.2,627.3 L2115.7,627.7 L2118.1,627.9 L2120.5,627.9 L2122.9,627.7 L2125.2,627.3 L2127.5,626.8 L2129.7,626.2 L2132.0,625.5 L2134.2,624.8 L2136.6,624.0 L2139.1,623.1 L2141.7,622.0 L2144.3,620.7 L2146.8,619.4 L2149.4,618.1 L2151.9,616.8 L2154.3,615.5 L2156.7,614.3 L2159.0,613.3 L2161.3,612.3 L2163.7,611.3 L2166.2,610.2 L2168.6,609.2 L2171.0,608.2 L2173.3,607.3 L2175.5,606.5 L2177.7,605.9 L2179.7,605.4 L2181.6,605.0 L2183.3,604.9 L2184.9,605.0 L2186.7,605.2 L2188.7,605.7 L2190.8,606.2 L2193.0,606.9 L2195.1,607.6 L2197.1,608.3 L2199.1,608.9 L2200.9,609.5 L2202.5,609.9 L2207.1,609.6 L2211.3,607.5 L2214.4,604.0 L2215.9,599.5 L2215.6,594.9 L2213.5,590.7 L2210.0,587.6 L2205.5,586.1 L2204.5,586.2 L2203.0,586.2 L2201.0,586.1 L2198.7,586.0 L2196.0,586.0 L2193.2,586.0 L2190.2,586.0 L2187.1,586.2 L2183.9,586.5 L2180.7,587.1 L2177.8,587.8 L2174.9,588.7 L2172.2,589.7 L2169.6,590.8 L2167.0,591.9 L2164.4,593.1 L2161.9,594.2 L2159.5,595.4 L2157.1,596.6 L2154.7,597.7 L2152.1,599.0 L2149.5,600.4 L2147.0,601.8 L2144.4,603.2 L2142.0,604.6 L2139.6,606.0 L2137.4,607.2 L2135.3,608.3 L2133.3,609.2 L2131.4,610.0 L2129.5,610.6 L2127.6,611.3 L2125.7,611.8 L2124.0,612.3 L2122.4,612.6 L2121.0,612.8 L2119.7,612.9 L2118.6,613.0 L2117.6,612.9 L2116.8,612.7 L2116.0,612.5 L2115.1,612.1 L2114.1,611.6 L2113.2,610.9 L2112.2,610.2 L2111.3,609.4 L2110.5,608.5 L2109.9,607.7 L2109.3,606.8 L2108.8,605.9 L2108.5,605.0 L2108.2,603.9 L2107.9,602.6 L2107.7,601.1 L2107.6,599.5 L2107.6,597.8 L2107.7,596.0 L2107.8,594.2 L2108.1,592.3 L2108.4,590.3 L2108.8,588.2 L2109.2,586.0 L2109.8,583.9 L2110.4,581.7 L2111.0,579.5 L2111.8,577.3 L2112.7,575.2 L2113.7,573.2 L2114.8,571.3 L2116.1,569.4 L2117.6,567.4 L2119.3,565.3 L2121.1,563.3 L2123.0,561.3 L2125.1,559.3 L2127.3,557.4 L2129.6,555.5 L2132.1,553.8 L2134.7,552.2 L2137.4,550.7 L2140.4,549.3 L2143.8,547.9 L2147.6,546.6 L2151.6,545.3 L2155.7,544.2 L2159.9,543.1 L2164.0,542.1 L2168.1,541.2 L2172.0,540.5 L2175.5,539.9 L2178.8,539.4 L2182.0,539.2 L2185.3,539.1 L2188.6,539.2 L2191.8,539.3 L2194.8,539.4 L2197.6,539.6 L2200.2,539.8 L2202.5,539.9 L2204.4,540.0 L2208.2,539.1 L2211.4,536.8 L2213.4,533.4 L2214.0,529.6 L2213.1,525.8 L2210.8,522.6 L2207.4,520.6Z M2194.0,530.0 a10.0,10.0 0 1,0 20.0,0 a10.0,10.0 0 1,0 -20.0,0Z M2166.0,532.0 a8.0,8.0 0 1,0 16.0,0 a8.0,8.0 0 1,0 -16.0,0Z M2126.5,544.0 a7.5,7.5 0 1,0 15.0,0 a7.5,7.5 0 1,0 -15.0,0Z M2102.5,565.0 a7.5,7.5 0 1,0 15.0,0 a7.5,7.5 0 1,0 -15.0,0Z M2093.5,589.0 a7.5,7.5 0 1,0 15.0,0 a7.5,7.5 0 1,0 -15.0,0Z M2094.5,609.0 a7.5,7.5 0 1,0 15.0,0 a7.5,7.5 0 1,0 -15.0,0Z M2107.5,620.0 a7.5,7.5 0 1,0 15.0,0 a7.5,7.5 0 1,0 -15.0,0Z M2126.5,617.0 a7.5,7.5 0 1,0 15.0,0 a7.5,7.5 0 1,0 -15.0,0Z M2150.0,605.0 a8.0,8.0 0 1,0 16.0,0 a8.0,8.0 0 1,0 -16.0,0Z M2173.0,596.0 a9.0,9.0 0 1,0 18.0,0 a9.0,9.0 0 1,0 -18.0,0Z M2192.0,598.0 a12.0,12.0 0 1,0 24.0,0 a12.0,12.0 0 1,0 -24.0,0Z"/>
<path d="M2199.0,591.4 L2197.2,592.6 L2195.0,594.2 L2192.4,596.0 L2189.6,598.1 L2186.5,600.3 L2183.4,602.5 L2180.1,604.7 L2176.9,606.8 L2173.8,608.6 L2170.9,610.2 L2168.1,611.5 L2165.2,612.7 L2162.2,613.8 L2159.1,614.8 L2155.9,615.7 L2152.7,616.7 L2149.4,617.7 L2146.1,618.7 L2142.8,619.8 L2139.4,621.0 L2136.2,622.2 L2132.8,623.4 L2129.3,624.6 L2125.7,625.9 L2122.1,627.2 L2118.6,628.5 L2115.2,629.9 L2111.9,631.4 L2108.8,633.0 L2105.9,634.7 L2103.3,636.6 L2101.0,638.6 L2098.9,640.7 L2097.1,642.8 L2095.6,645.0 L2094.3,647.1 L2093.2,649.1 L2092.3,651.0 L2091.6,652.8 L2090.9,654.5 L2090.3,656.5 L2089.9,658.7 L2089.8,660.9 L2090.0,662.9 L2090.4,664.8 L2090.9,666.6 L2091.5,668.2 L2092.2,669.6 L2093.0,670.9 L2093.6,672.0 L2094.4,673.1 L2095.2,674.3 L2096.1,675.5 L2097.2,676.8 L2098.5,678.2 L2100.1,679.5 L2101.8,680.7 L2103.8,681.7 L2106.0,682.6 L2108.2,683.3 L2110.6,683.8 L2113.0,684.2 L2115.6,684.5 L2118.3,684.7 L2121.1,684.8 L2123.9,684.8 L2126.8,684.7 L2129.8,684.6 L2132.6,684.3 L2135.5,683.9 L2138.4,683.3 L2141.3,682.5 L2144.0,681.6 L2146.7,680.7 L2149.3,679.7 L2151.7,678.6 L2154.1,677.6 L2156.5,676.7 L2158.7,675.8 L2160.9,675.0 L2163.3,674.1 L2165.8,673.2 L2168.4,672.3 L2170.9,671.3 L2173.4,670.4 L2175.8,669.5 L2178.0,668.7 L2180.2,667.9 L2182.1,667.3 L2183.8,666.8 L2185.3,666.4 L2186.7,666.1 L2188.0,665.8 L2189.4,665.6 L2190.6,665.5 L2191.9,665.3 L2193.0,665.2 L2194.2,665.2 L2195.3,665.1 L2196.2,665.0 L2198.9,664.4 L2201.1,662.8 L2202.6,660.4 L2203.0,657.8 L2202.4,655.1 L2200.8,652.9 L2198.4,651.4 L2195.8,651.0 L2195.1,651.0 L2194.3,650.9 L2193.2,650.8 L2191.9,650.6 L2190.4,650.5 L2188.6,650.5 L2186.7,650.5 L2184.7,650.6 L2182.5,650.8 L2180.2,651.2 L2177.9,651.7 L2175.5,652.3 L2173.0,653.0 L2170.5,653.8 L2167.9,654.6 L2165.3,655.5 L2162.7,656.4 L2160.1,657.3 L2157.6,658.1 L2155.1,659.0 L2152.5,660.0 L2149.9,661.1 L2147.5,662.2 L2145.1,663.3 L2142.7,664.3 L2140.5,665.3 L2138.4,666.2 L2136.3,667.0 L2134.4,667.7 L2132.5,668.1 L2130.4,668.5 L2128.2,668.9 L2125.9,669.1 L2123.5,669.3 L2121.2,669.3 L2118.9,669.3 L2116.7,669.3 L2114.8,669.1 L2113.1,668.9 L2111.8,668.7 L2110.8,668.5 L2110.1,668.2 L2109.6,667.9 L2109.1,667.6 L2108.7,667.2 L2108.3,666.8 L2107.8,666.2 L2107.4,665.6 L2106.9,664.8 L2106.4,664.0 L2105.9,663.2 L2105.5,662.6 L2105.2,662.0 L2105.0,661.5 L2104.9,661.2 L2104.8,660.9 L2104.8,660.7 L2104.8,660.4 L2104.9,660.1 L2105.1,659.5 L2105.5,658.4 L2106.0,657.1 L2106.6,655.9 L2107.3,654.6 L2108.1,653.3 L2109.0,652.0 L2110.1,650.8 L2111.2,649.5 L2112.6,648.4 L2114.1,647.3 L2116.0,646.1 L2118.4,644.9 L2121.1,643.7 L2124.1,642.5 L2127.4,641.2 L2130.8,640.0 L2134.3,638.7 L2137.8,637.5 L2141.3,636.3 L2144.6,635.0 L2147.7,633.9 L2150.7,632.9 L2153.9,631.8 L2157.1,630.8 L2160.3,629.8 L2163.6,628.7 L2166.9,627.6 L2170.3,626.4 L2173.7,625.2 L2177.1,623.8 L2180.6,622.3 L2184.3,620.7 L2188.1,618.9 L2191.8,617.1 L2195.5,615.3 L2198.9,613.6 L2202.1,612.0 L2204.9,610.6 L2207.3,609.5 L2209.0,608.6 L2212.0,606.0 L2213.7,602.5 L2213.9,598.6 L2212.6,595.0 L2210.0,592.0 L2206.5,590.3 L2202.6,590.1Z M2194.0,600.0 a10.0,10.0 0 1,0 20.0,0 a10.0,10.0 0 1,0 -20.0,0Z M2166.5,617.0 a7.5,7.5 0 1,0 15.0,0 a7.5,7.5 0 1,0 -15.0,0Z M2134.5,628.0 a7.5,7.5 0 1,0 15.0,0 a7.5,7.5 0 1,0 -15.0,0Z M2102.5,641.0 a7.5,7.5 0 1,0 15.0,0 a7.5,7.5 0 1,0 -15.0,0Z M2090.5,657.0 a7.5,7.5 0 1,0 15.0,0 a7.5,7.5 0 1,0 -15.0,0Z M2092.5,668.0 a7.5,7.5 0 1,0 15.0,0 a7.5,7.5 0 1,0 -15.0,0Z M2102.5,676.0 a7.5,7.5 0 1,0 15.0,0 a7.5,7.5 0 1,0 -15.0,0Z M2126.0,676.0 a8.0,8.0 0 1,0 16.0,0 a8.0,8.0 0 1,0 -16.0,0Z M2149.5,667.0 a8.5,8.5 0 1,0 17.0,0 a8.5,8.5 0 1,0 -17.0,0Z M2174.0,659.0 a8.0,8.0 0 1,0 16.0,0 a8.0,8.0 0 1,0 -16.0,0Z M2189.0,658.0 a7.0,7.0 0 1,0 14.0,0 a7.0,7.0 0 1,0 -14.0,0Z"/>
<path d="M2187.5,658.5 L2185.1,659.5 L2181.9,660.8 L2178.1,662.3 L2173.8,664.1 L2169.2,665.9 L2164.5,667.8 L2159.8,669.8 L2155.1,671.7 L2150.8,673.5 L2146.9,675.2 L2143.4,676.7 L2140.0,678.1 L2136.6,679.5 L2133.3,680.9 L2130.0,682.3 L2126.7,683.7 L2123.5,685.3 L2120.2,687.0 L2117.0,688.8 L2113.9,690.7 L2110.9,692.8 L2107.9,695.0 L2105.0,697.3 L2102.2,699.6 L2099.5,702.0 L2096.9,704.5 L2094.4,707.0 L2092.1,709.5 L2090.0,712.0 L2088.0,714.5 L2086.2,717.0 L2084.6,719.6 L2083.2,722.2 L2081.9,724.8 L2080.9,727.3 L2079.9,729.9 L2079.2,732.5 L2078.5,735.0 L2078.0,737.5 L2077.6,740.0 L2077.3,742.6 L2077.1,745.3 L2077.1,747.9 L2077.2,750.6 L2077.4,753.3 L2077.8,755.9 L2078.3,758.5 L2079.0,761.0 L2079.9,763.4 L2080.9,765.7 L2082.2,767.9 L2083.6,770.0 L2085.1,771.9 L2086.8,773.6 L2088.7,775.2 L2090.6,776.6 L2092.6,777.9 L2094.7,779.1 L2096.8,780.1 L2099.1,781.0 L2101.6,781.8 L2104.2,782.5 L2106.9,783.1 L2109.7,783.5 L2112.4,783.9 L2115.2,784.1 L2118.0,784.3 L2120.7,784.4 L2123.4,784.5 L2126.0,784.5 L2128.6,784.4 L2131.2,784.3 L2133.7,784.1 L2136.1,783.8 L2138.6,783.4 L2141.1,783.0 L2143.6,782.5 L2146.1,782.0 L2148.8,781.4 L2151.6,780.8 L2154.4,780.2 L2157.4,779.5 L2160.3,778.8 L2163.4,778.0 L2166.5,777.2 L2169.7,776.3 L2173.0,775.4 L2176.5,774.4 L2180.2,773.3 L2184.0,772.2 L2188.0,771.1 L2192.2,769.8 L2196.6,768.6 L2201.2,767.2 L2205.9,765.8 L2210.7,764.3 L2215.7,762.8 L2220.8,761.1 L2226.0,759.4 L2231.3,757.6 L2236.9,755.6 L2242.7,753.4 L2248.8,751.0 L2255.1,748.6 L2261.3,746.1 L2267.5,743.7 L2273.5,741.3 L2279.1,739.2 L2284.4,737.3 L2289.2,735.7 L2293.6,734.3 L2297.7,733.0 L2301.6,731.9 L2305.3,731.0 L2308.7,730.2 L2311.9,729.5 L2314.8,728.9 L2317.5,728.5 L2320.1,728.2 L2322.4,728.0 L2324.4,727.9 L2326.1,727.9 L2327.5,728.0 L2328.7,728.2 L2329.6,728.4 L2330.4,728.7 L2331.2,729.0 L2331.9,729.4 L2332.6,729.9 L2333.4,730.5 L2334.0,731.1 L2334.4,731.7 L2334.8,732.4 L2335.2,733.1 L2335.6,734.1 L2336.0,735.3 L2336.3,736.7 L2336.6,738.4 L2336.8,740.3 L2337.0,742.3 L2337.1,744.6 L2337.2,747.1 L2337.1,749.9 L2337.0,752.9 L2336.8,756.0 L2336.6,759.3 L2336.3,762.6 L2336.1,765.9 L2335.8,769.2 L2335.5,772.4 L2335.3,775.5 L2335.0,778.4 L2334.7,781.3 L2334.3,784.2 L2334.0,787.2 L2333.6,790.3 L2333.2,793.5 L2332.8,797.0 L2332.4,800.6 L2332.0,804.6 L2331.6,808.8 L2331.3,813.4 L2330.9,818.3 L2330.5,823.3 L2330.1,828.4 L2329.7,833.5 L2329.3,838.6 L2328.9,843.5 L2328.5,848.2 L2328.0,852.5 L2327.6,856.5 L2327.2,860.2 L2326.8,863.7 L2326.4,866.9 L2325.9,870.1 L2325.5,873.3 L2324.9,876.7 L2324.3,880.4 L2323.5,884.4 L2322.6,888.8 L2321.5,893.7 L2320.2,899.0 L2318.8,904.6 L2317.3,910.5 L2315.7,916.5 L2314.1,922.8 L2312.5,929.1 L2310.9,935.5 L2309.5,942.0 L2308.1,948.3 L2306.9,954.7 L2305.7,961.2 L2304.5,967.8 L2303.4,974.5 L2302.3,981.2 L2301.3,987.9 L2300.3,994.4 L2299.5,1000.8 L2298.7,1007.0 L2298.0,1012.9 L2297.5,1018.5 L2297.1,1023.8 L2296.7,1029.0 L2296.4,1033.9 L2296.3,1038.8 L2296.2,1043.6 L2296.1,1048.3 L2296.2,1053.0 L2296.3,1057.8 L2296.5,1062.7 L2296.8,1067.6 L2297.1,1072.7 L2297.5,1077.9 L2297.9,1083.0 L2298.5,1088.2 L2299.1,1093.4 L2299.9,1098.4 L2300.8,1103.4 L2301.8,1108.1 L2303.0,1112.7 L2304.3,1116.9 L2305.7,1120.9 L2307.3,1124.8 L2309.0,1128.5 L2310.8,1132.0 L2312.8,1135.4 L2315.0,1138.6 L2317.3,1141.7 L2319.7,1144.6 L2322.4,1147.5 L2325.3,1150.2 L2328.3,1152.8 L2331.5,1155.1 L2334.8,1157.2 L2338.1,1159.2 L2341.5,1160.9 L2344.9,1162.5 L2348.4,1164.0 L2351.9,1165.4 L2355.5,1166.7 L2359.3,1168.0 L2363.3,1169.2 L2367.4,1170.3 L2371.6,1171.3 L2375.8,1172.2 L2380.1,1173.1 L2384.5,1173.8 L2388.9,1174.4 L2393.3,1175.0 L2397.7,1175.4 L2402.3,1175.8 L2406.9,1176.1 L2411.5,1176.2 L2416.1,1176.3 L2420.7,1176.2 L2425.3,1176.2 L2429.8,1176.0 L2434.4,1175.9 L2438.9,1175.7 L2443.5,1175.5 L2448.1,1175.3 L2452.8,1175.0 L2457.5,1174.8 L2462.3,1174.5 L2467.1,1174.1 L2471.9,1173.7 L2476.7,1173.2 L2481.6,1172.7 L2486.4,1172.1 L2491.3,1171.4 L2496.3,1170.7 L2501.4,1169.8 L2506.6,1168.8 L2511.7,1167.8 L2516.9,1166.8 L2521.9,1165.7 L2526.7,1164.6 L2531.3,1163.5 L2535.0,1162.1 L2538.0,1159.4 L2539.6,1155.7 L2539.8,1151.8 L2538.4,1148.0 L2535.6,1145.1 L2532.0,1143.4 L2528.0,1143.3 L2523.4,1143.7 L2518.5,1144.1 L2513.5,1144.6 L2508.4,1145.0 L2503.4,1145.5 L2498.3,1145.9 L2493.4,1146.3 L2488.7,1146.6 L2484.0,1146.8 L2479.4,1147.1 L2474.7,1147.3 L2470.1,1147.6 L2465.4,1147.8 L2460.8,1148.0 L2456.2,1148.1 L2451.6,1148.3 L2447.1,1148.4 L2442.5,1148.5 L2438.0,1148.6 L2433.5,1148.8 L2429.0,1148.9 L2424.6,1149.0 L2420.3,1149.1 L2416.1,1149.2 L2412.0,1149.2 L2408.0,1149.1 L2404.1,1148.9 L2400.3,1148.6 L2396.4,1148.1 L2392.5,1147.7 L2388.7,1147.1 L2384.9,1146.5 L2381.2,1145.8 L2377.6,1145.0 L2374.1,1144.2 L2370.7,1143.3 L2367.5,1142.3 L2364.5,1141.3 L2361.5,1140.2 L2358.6,1139.0 L2355.9,1137.9 L2353.4,1136.7 L2351.0,1135.5 L2348.9,1134.2 L2346.8,1132.9 L2345.0,1131.5 L2343.3,1130.1 L2341.6,1128.5 L2340.0,1126.8 L2338.5,1124.9 L2337.0,1123.0 L2335.7,1121.0 L2334.4,1118.9 L2333.2,1116.6 L2332.1,1114.1 L2331.0,1111.4 L2330.0,1108.4 L2329.0,1105.3 L2328.1,1101.9 L2327.3,1098.2 L2326.6,1094.1 L2325.9,1089.7 L2325.4,1085.1 L2324.9,1080.4 L2324.5,1075.6 L2324.1,1070.8 L2323.8,1066.0 L2323.5,1061.3 L2323.3,1056.8 L2323.1,1052.4 L2323.0,1048.1 L2323.0,1043.7 L2323.0,1039.4 L2323.1,1034.9 L2323.2,1030.3 L2323.4,1025.4 L2323.7,1020.4 L2324.0,1015.1 L2324.3,1009.4 L2324.8,1003.5 L2325.3,997.3 L2325.8,990.8 L2326.5,984.3 L2327.1,977.7 L2327.8,971.0 L2328.5,964.4 L2329.2,958.0 L2329.9,951.7 L2330.6,945.5 L2331.3,939.2 L2332.1,932.8 L2333.0,926.4 L2333.8,920.1 L2334.6,913.8 L2335.4,907.8 L2336.2,901.9 L2336.8,896.4 L2337.4,891.2 L2337.9,886.5 L2338.3,882.2 L2338.6,878.4 L2338.8,874.8 L2339.1,871.4 L2339.2,868.1 L2339.4,864.7 L2339.6,861.2 L2339.8,857.5 L2340.0,853.5 L2340.2,849.0 L2340.4,844.2 L2340.5,839.2 L2340.7,834.1 L2340.9,829.0 L2341.0,823.9 L2341.2,818.9 L2341.4,814.1 L2341.7,809.6 L2342.0,805.4 L2342.3,801.7 L2342.7,798.1 L2343.2,794.8 L2343.7,791.7 L2344.2,788.7 L2344.7,785.7 L2345.2,782.8 L2345.6,779.8 L2346.1,776.7 L2346.5,773.6 L2346.8,770.3 L2347.2,767.0 L2347.6,763.7 L2348.0,760.3 L2348.3,757.0 L2348.6,753.7 L2348.8,750.4 L2349.0,747.3 L2349.0,744.4 L2349.0,741.7 L2348.9,739.2 L2348.7,736.9 L2348.4,734.8 L2348.1,732.7 L2347.6,730.6 L2347.0,728.6 L2346.2,726.7 L2345.2,724.8 L2344.0,723.0 L2342.6,721.5 L2341.2,720.1 L2339.7,718.8 L2338.0,717.6 L2336.2,716.5 L2334.1,715.6 L2331.9,714.9 L2329.5,714.4 L2327.1,714.1 L2324.4,714.0 L2321.6,714.0 L2318.7,714.2 L2315.6,714.6 L2312.4,715.1 L2309.1,715.7 L2305.6,716.5 L2301.9,717.4 L2297.9,718.4 L2293.8,719.6 L2289.5,720.9 L2284.8,722.3 L2279.8,724.1 L2274.3,726.1 L2268.4,728.3 L2262.4,730.7 L2256.2,733.1 L2249.9,735.6 L2243.8,738.1 L2237.8,740.4 L2232.1,742.5 L2226.7,744.4 L2221.6,746.1 L2216.5,747.7 L2211.5,749.2 L2206.6,750.6 L2201.9,751.9 L2197.2,753.2 L2192.7,754.4 L2188.3,755.6 L2184.1,756.7 L2180.0,757.8 L2176.2,758.8 L2172.5,759.7 L2169.1,760.6 L2165.8,761.4 L2162.7,762.2 L2159.7,762.9 L2156.8,763.5 L2153.9,764.1 L2151.2,764.6 L2148.4,765.2 L2145.8,765.6 L2143.2,766.0 L2140.8,766.4 L2138.6,766.7 L2136.4,767.0 L2134.3,767.2 L2132.2,767.3 L2130.2,767.4 L2128.1,767.5 L2126.0,767.5 L2123.7,767.5 L2121.4,767.4 L2119.0,767.3 L2116.6,767.1 L2114.3,766.9 L2112.1,766.6 L2110.0,766.3 L2108.1,765.9 L2106.4,765.5 L2104.9,765.0 L2103.4,764.5 L2102.1,763.9 L2100.8,763.3 L2099.7,762.7 L2098.7,762.0 L2097.8,761.4 L2097.0,760.7 L2096.3,759.9 L2095.7,759.1 L2095.1,758.3 L2094.5,757.2 L2094.0,755.9 L2093.5,754.5 L2093.1,752.9 L2092.7,751.1 L2092.4,749.3 L2092.3,747.4 L2092.2,745.6 L2092.3,743.8 L2092.4,742.0 L2092.7,740.2 L2093.1,738.3 L2093.5,736.5 L2094.1,734.6 L2094.8,732.8 L2095.6,730.9 L2096.5,729.1 L2097.5,727.2 L2098.7,725.4 L2100.0,723.5 L2101.5,721.5 L2103.3,719.5 L2105.3,717.4 L2107.4,715.2 L2109.6,713.1 L2112.0,711.0 L2114.5,708.9 L2117.0,706.9 L2119.6,705.0 L2122.1,703.3 L2124.7,701.7 L2127.3,700.2 L2130.1,698.9 L2133.0,697.5 L2136.0,696.2 L2139.2,694.9 L2142.5,693.5 L2145.9,692.1 L2149.5,690.5 L2153.1,688.8 L2156.9,687.0 L2161.1,684.9 L2165.6,682.7 L2170.2,680.5 L2174.8,678.2 L2179.2,676.0 L2183.3,674.0 L2187.0,672.2 L2190.1,670.6 L2192.5,669.5 L2194.4,668.1 L2195.6,666.1 L2196.0,663.8 L2195.5,661.5 L2194.1,659.6 L2192.1,658.4 L2189.8,658.0Z M2184.0,664.0 a6.0,6.0 0 1,0 12.0,0 a6.0,6.0 0 1,0 -12.0,0Z M2142.5,682.0 a7.5,7.5 0 1,0 15.0,0 a7.5,7.5 0 1,0 -15.0,0Z M2110.5,697.0 a7.5,7.5 0 1,0 15.0,0 a7.5,7.5 0 1,0 -15.0,0Z M2086.5,719.0 a7.5,7.5 0 1,0 15.0,0 a7.5,7.5 0 1,0 -15.0,0Z M2077.5,741.0 a7.5,7.5 0 1,0 15.0,0 a7.5,7.5 0 1,0 -15.0,0Z M2080.0,762.0 a8.0,8.0 0 1,0 16.0,0 a8.0,8.0 0 1,0 -16.0,0Z M2093.5,773.0 a8.5,8.5 0 1,0 17.0,0 a8.5,8.5 0 1,0 -17.0,0Z M2117.5,776.0 a8.5,8.5 0 1,0 17.0,0 a8.5,8.5 0 1,0 -17.0,0Z M2142.0,773.0 a8.0,8.0 0 1,0 16.0,0 a8.0,8.0 0 1,0 -16.0,0Z M2174.5,765.0 a7.5,7.5 0 1,0 15.0,0 a7.5,7.5 0 1,0 -15.0,0Z M2222.0,751.0 a7.0,7.0 0 1,0 14.0,0 a7.0,7.0 0 1,0 -14.0,0Z M2280.0,729.0 a7.0,7.0 0 1,0 14.0,0 a7.0,7.0 0 1,0 -14.0,0Z M2315.0,721.0 a7.0,7.0 0 1,0 14.0,0 a7.0,7.0 0 1,0 -14.0,0Z M2331.5,726.0 a6.5,6.5 0 1,0 13.0,0 a6.5,6.5 0 1,0 -13.0,0Z M2337.0,742.0 a6.0,6.0 0 1,0 12.0,0 a6.0,6.0 0 1,0 -12.0,0Z M2335.5,773.0 a5.5,5.5 0 1,0 11.0,0 a5.5,5.5 0 1,0 -11.0,0Z M2332.0,805.0 a5.0,5.0 0 1,0 10.0,0 a5.0,5.0 0 1,0 -10.0,0Z M2328.0,853.0 a6.0,6.0 0 1,0 12.0,0 a6.0,6.0 0 1,0 -12.0,0Z M2322.5,890.0 a7.5,7.5 0 1,0 15.0,0 a7.5,7.5 0 1,0 -15.0,0Z M2308.0,950.0 a11.0,11.0 0 1,0 22.0,0 a11.0,11.0 0 1,0 -22.0,0Z M2298.0,1014.0 a13.0,13.0 0 1,0 26.0,0 a13.0,13.0 0 1,0 -26.0,0Z M2296.5,1062.0 a13.5,13.5 0 1,0 27.0,0 a13.5,13.5 0 1,0 -27.0,0Z M2302.5,1109.0 a13.5,13.5 0 1,0 27.0,0 a13.5,13.5 0 1,0 -27.0,0Z M2318.5,1138.0 a13.5,13.5 0 1,0 27.0,0 a13.5,13.5 0 1,0 -27.0,0Z M2346.5,1154.0 a13.5,13.5 0 1,0 27.0,0 a13.5,13.5 0 1,0 -27.0,0Z M2385.5,1162.0 a13.5,13.5 0 1,0 27.0,0 a13.5,13.5 0 1,0 -27.0,0Z M2429.5,1162.0 a13.5,13.5 0 1,0 27.0,0 a13.5,13.5 0 1,0 -27.0,0Z M2477.5,1159.0 a12.5,12.5 0 1,0 25.0,0 a12.5,12.5 0 1,0 -25.0,0Z"/>
<path d="M2580.1,1133.4 L2582.7,1133.0 L2586.1,1132.5 L2590.0,1131.9 L2594.3,1131.2 L2598.9,1130.5 L2603.7,1129.8 L2608.4,1129.2 L2613.0,1128.6 L2617.2,1128.2 L2620.9,1128.0 L2624.4,1127.9 L2627.8,1127.8 L2631.1,1127.9 L2634.3,1128.0 L2637.5,1128.1 L2640.6,1128.4 L2643.6,1128.7 L2646.7,1129.0 L2649.9,1129.4 L2653.1,1129.9 L2656.3,1130.4 L2659.7,1131.0 L2663.1,1131.6 L2666.6,1132.3 L2670.0,1133.0 L2673.3,1133.8 L2676.5,1134.6 L2679.4,1135.4 L2682.1,1136.3 L2684.4,1137.1 L2686.2,1137.9 L2687.9,1138.9 L2689.6,1139.9 L2691.3,1141.1 L2693.0,1142.4 L2694.7,1143.7 L2696.3,1144.9 L2698.0,1146.2 L2699.7,1147.4 L2701.1,1148.4 L2708.5,1150.8 L2716.3,1150.3 L2723.3,1146.8 L2728.4,1140.9 L2730.8,1133.5 L2730.3,1125.7 L2726.8,1118.7 L2720.9,1113.6 L2719.9,1113.2 L2718.8,1112.7 L2717.0,1111.8 L2714.9,1110.7 L2712.3,1109.5 L2709.5,1108.1 L2706.4,1106.8 L2703.0,1105.4 L2699.4,1104.1 L2695.6,1102.9 L2692.0,1101.9 L2688.3,1101.1 L2684.6,1100.3 L2680.7,1099.5 L2676.8,1098.8 L2672.8,1098.1 L2668.7,1097.5 L2664.7,1097.0 L2660.8,1096.5 L2656.9,1096.1 L2653.2,1095.8 L2649.5,1095.6 L2645.8,1095.5 L2642.1,1095.4 L2638.4,1095.4 L2634.7,1095.4 L2630.9,1095.5 L2627.1,1095.6 L2623.2,1095.8 L2619.1,1096.0 L2614.6,1096.3 L2609.8,1096.8 L2604.8,1097.3 L2599.7,1097.8 L2594.7,1098.4 L2589.9,1099.0 L2585.5,1099.5 L2581.6,1100.0 L2578.4,1100.4 L2575.9,1100.6 L2569.8,1102.7 L2564.9,1106.9 L2562.1,1112.7 L2561.6,1119.1 L2563.7,1125.2 L2567.9,1130.1 L2573.7,1132.9Z M2561.5,1117.0 a16.5,16.5 0 1,0 33.0,0 a16.5,16.5 0 1,0 -33.0,0Z M2604.0,1112.0 a16.0,16.0 0 1,0 32.0,0 a16.0,16.0 0 1,0 -32.0,0Z M2638.0,1113.0 a17.0,17.0 0 1,0 34.0,0 a17.0,17.0 0 1,0 -34.0,0Z M2672.0,1120.0 a18.0,18.0 0 1,0 36.0,0 a18.0,18.0 0 1,0 -36.0,0Z M2691.0,1131.0 a20.0,20.0 0 1,0 40.0,0 a20.0,20.0 0 1,0 -40.0,0Z"/>
<path d="M2701.5,1116.5 L2700.0,1117.5 L2698.1,1118.6 L2695.9,1120.0 L2693.4,1121.6 L2690.6,1123.2 L2687.8,1125.0 L2684.8,1126.9 L2681.8,1128.7 L2678.8,1130.6 L2676.0,1132.4 L2673.3,1134.2 L2670.3,1136.0 L2667.2,1137.9 L2664.0,1139.9 L2660.8,1142.0 L2657.5,1144.1 L2654.2,1146.2 L2651.0,1148.4 L2647.9,1150.6 L2645.0,1152.8 L2642.3,1154.9 L2639.9,1157.1 L2637.6,1159.1 L2635.4,1161.2 L2633.4,1163.3 L2631.5,1165.3 L2629.6,1167.3 L2627.9,1169.4 L2626.2,1171.4 L2624.5,1173.4 L2622.7,1175.6 L2621.0,1177.7 L2619.3,1179.9 L2617.7,1182.0 L2616.2,1184.2 L2614.7,1186.4 L2613.2,1188.6 L2611.8,1190.8 L2610.4,1193.1 L2609.0,1195.4 L2607.6,1197.9 L2606.1,1200.5 L2604.8,1203.2 L2603.5,1205.9 L2602.2,1208.5 L2601.0,1211.1 L2599.9,1213.6 L2598.8,1215.9 L2597.7,1218.2 L2596.6,1220.6 L2596.6,1223.3 L2597.5,1225.8 L2599.4,1227.8 L2601.8,1228.9 L2604.5,1229.0 L2607.0,1228.0 L2609.0,1226.1 L2610.8,1224.3 L2612.7,1222.4 L2614.6,1220.3 L2616.6,1218.2 L2618.5,1216.2 L2620.5,1214.1 L2622.4,1212.2 L2624.2,1210.3 L2626.0,1208.6 L2627.8,1206.8 L2629.6,1205.1 L2631.3,1203.4 L2633.0,1201.8 L2634.8,1200.2 L2636.5,1198.6 L2638.2,1197.0 L2639.9,1195.5 L2641.7,1194.1 L2643.5,1192.6 L2645.4,1191.1 L2647.3,1189.6 L2649.2,1188.2 L2651.0,1186.9 L2652.8,1185.6 L2654.7,1184.3 L2656.6,1183.1 L2658.6,1181.8 L2660.8,1180.5 L2663.0,1179.2 L2665.4,1177.9 L2668.2,1176.5 L2671.1,1174.9 L2674.2,1173.4 L2677.5,1171.8 L2680.8,1170.2 L2684.2,1168.5 L2687.5,1166.9 L2690.8,1165.2 L2694.0,1163.6 L2697.0,1162.0 L2700.1,1160.4 L2703.2,1158.7 L2706.3,1157.1 L2709.2,1155.5 L2712.1,1154.0 L2714.7,1152.6 L2717.0,1151.4 L2718.9,1150.3 L2720.5,1149.5 L2726.1,1144.6 L2729.3,1137.9 L2729.8,1130.5 L2727.5,1123.5 L2722.6,1117.9 L2715.9,1114.7 L2708.5,1114.2Z M2692.0,1133.0 a19.0,19.0 0 1,0 38.0,0 a19.0,19.0 0 1,0 -38.0,0Z M2667.0,1148.0 a18.0,18.0 0 1,0 36.0,0 a18.0,18.0 0 1,0 -36.0,0Z M2638.0,1166.0 a16.0,16.0 0 1,0 32.0,0 a16.0,16.0 0 1,0 -32.0,0Z M2620.5,1183.0 a13.5,13.5 0 1,0 27.0,0 a13.5,13.5 0 1,0 -27.0,0Z M2606.8,1202.0 a10.8,10.8 0 1,0 21.5,0 a10.8,10.8 0 1,0 -21.5,0Z"/>
<path d="M2720.5,1541.2 L2720.2,1546.2 L2719.9,1551.5 L2719.6,1556.8 L2719.5,1562.3 L2719.5,1567.9 L2719.5,1573.9 L2719.7,1580.2 L2719.8,1586.7 L2720.0,1593.4 L2720.2,1600.1 L2720.5,1606.8 L2720.7,1613.6 L2720.9,1620.1 L2721.0,1626.6 L2721.2,1633.0 L2721.3,1639.7 L2721.5,1646.4 L2721.7,1653.1 L2721.9,1659.7 L2722.0,1666.2 L2722.1,1672.5 L2722.1,1678.4 L2722.1,1683.9 L2722.0,1689.0 L2721.8,1693.8 L2721.7,1698.2 L2721.5,1702.2 L2721.3,1705.8 L2721.0,1709.2 L2720.6,1712.4 L2720.2,1715.4 L2719.7,1718.3 L2719.1,1721.1 L2718.3,1724.0 L2717.5,1726.9 L2716.6,1729.7 L2715.6,1732.4 L2714.6,1734.9 L2713.5,1737.3 L2712.3,1739.5 L2711.1,1741.6 L2709.9,1743.6 L2708.5,1745.4 L2707.1,1747.2 L2705.6,1748.9 L2703.9,1750.6 L2702.1,1752.3 L2700.1,1753.9 L2698.0,1755.5 L2695.7,1757.1 L2693.5,1758.5 L2691.1,1759.9 L2688.8,1761.1 L2686.5,1762.1 L2684.1,1763.1 L2681.8,1763.9 L2679.3,1764.6 L2676.8,1765.3 L2674.2,1765.8 L2671.5,1766.2 L2668.8,1766.6 L2665.9,1766.8 L2663.0,1767.0 L2660.1,1767.0 L2657.1,1766.9 L2654.1,1766.7 L2651.0,1766.4 L2647.8,1766.0 L2644.4,1765.4 L2640.8,1764.7 L2637.1,1764.0 L2633.3,1763.2 L2629.2,1762.3 L2625.2,1761.4 L2621.2,1760.4 L2617.0,1759.3 L2612.6,1758.0 L2608.0,1756.6 L2603.2,1755.1 L2598.3,1753.7 L2593.3,1752.2 L2588.2,1750.8 L2583.0,1749.4 L2577.8,1748.3 L2572.9,1747.3 L2568.1,1746.4 L2563.4,1745.6 L2558.7,1744.8 L2553.9,1744.1 L2549.0,1743.4 L2544.0,1742.9 L2538.8,1742.4 L2533.4,1741.9 L2527.7,1741.5 L2521.7,1741.2 L2515.5,1741.0 L2509.0,1740.9 L2502.5,1740.8 L2495.8,1740.8 L2489.1,1740.8 L2482.4,1740.9 L2475.8,1740.9 L2469.2,1741.0 L2462.8,1741.0 L2457.1,1741.0 L2452.2,1741.1 L2447.9,1741.2 L2443.9,1741.3 L2439.6,1741.4 L2434.7,1741.5 L2428.7,1741.7 L2421.2,1741.8 L2411.7,1741.9 L2399.9,1742.0 L2385.6,1742.1 L2369.1,1742.2 L2350.7,1742.3 L2330.8,1742.4 L2309.8,1742.5 L2288.0,1742.7 L2265.8,1742.8 L2243.5,1742.8 L2221.4,1742.9 L2200.0,1743.0 L2178.2,1743.1 L2155.2,1743.1 L2131.3,1743.1 L2107.1,1743.2 L2083.0,1743.2 L2059.5,1743.2 L2036.9,1743.2 L2015.9,1743.2 L1996.8,1743.2 L1980.0,1743.3 L1966.0,1743.2 L1954.6,1743.2 L1945.0,1743.2 L1937.0,1743.1 L1930.0,1743.1 L1923.4,1743.0 L1916.9,1743.0 L1909.8,1743.0 L1901.7,1743.0 L1892.1,1743.0 L1881.0,1743.0 L1868.8,1743.1 L1856.0,1743.2 L1842.7,1743.3 L1829.3,1743.4 L1816.0,1743.5 L1803.1,1743.6 L1790.9,1743.7 L1779.8,1743.9 L1770.0,1744.0 L1761.4,1744.1 L1753.9,1744.3 L1747.2,1744.4 L1741.1,1744.6 L1735.6,1744.8 L1730.4,1744.9 L1725.4,1745.2 L1720.6,1745.4 L1715.6,1745.7 L1710.4,1746.0 L1705.0,1746.4 L1699.4,1746.9 L1693.9,1747.5 L1688.5,1748.1 L1683.3,1748.7 L1678.4,1749.3 L1674.0,1749.8 L1670.0,1750.3 L1666.7,1750.7 L1664.1,1751.0 L1660.3,1752.2 L1657.3,1754.6 L1655.4,1758.1 L1655.0,1761.9 L1656.2,1765.7 L1658.6,1768.7 L1662.1,1770.6 L1665.9,1771.0 L1668.7,1770.8 L1672.1,1770.5 L1676.1,1770.2 L1680.5,1769.8 L1685.3,1769.5 L1690.4,1769.1 L1695.7,1768.7 L1701.0,1768.4 L1706.3,1768.2 L1711.6,1768.0 L1716.6,1767.9 L1721.4,1767.8 L1726.1,1767.7 L1730.9,1767.7 L1735.9,1767.7 L1741.4,1767.7 L1747.3,1767.8 L1754.0,1767.8 L1761.5,1767.9 L1770.0,1768.0 L1779.8,1768.1 L1790.9,1768.3 L1803.0,1768.5 L1815.8,1768.7 L1829.1,1769.0 L1842.6,1769.2 L1855.8,1769.4 L1868.7,1769.6 L1880.8,1769.8 L1891.9,1770.0 L1901.5,1770.1 L1909.6,1770.2 L1916.6,1770.3 L1923.2,1770.4 L1929.8,1770.5 L1936.8,1770.5 L1944.9,1770.6 L1954.4,1770.7 L1966.0,1770.7 L1980.0,1770.7 L1996.7,1770.8 L2015.9,1770.8 L2036.9,1770.8 L2059.5,1770.8 L2083.0,1770.9 L2107.1,1770.9 L2131.3,1770.9 L2155.2,1770.9 L2178.2,1770.9 L2200.0,1771.0 L2221.4,1771.1 L2243.5,1771.2 L2265.8,1771.3 L2288.0,1771.4 L2309.8,1771.6 L2330.8,1771.7 L2350.7,1771.8 L2369.1,1771.9 L2385.7,1772.0 L2400.1,1772.0 L2412.0,1772.0 L2421.5,1771.9 L2429.2,1771.8 L2435.3,1771.7 L2440.4,1771.6 L2444.7,1771.5 L2448.8,1771.3 L2452.9,1771.2 L2457.5,1771.1 L2463.2,1771.0 L2469.6,1770.9 L2476.2,1770.8 L2482.9,1770.6 L2489.5,1770.5 L2496.1,1770.3 L2502.5,1770.2 L2508.9,1770.2 L2514.9,1770.2 L2520.8,1770.3 L2526.3,1770.5 L2531.5,1770.7 L2536.5,1771.1 L2541.3,1771.4 L2545.8,1771.8 L2550.3,1772.3 L2554.6,1772.8 L2559.0,1773.4 L2563.3,1774.1 L2567.7,1774.9 L2572.2,1775.7 L2576.6,1776.7 L2581.0,1777.8 L2585.6,1779.0 L2590.3,1780.4 L2595.0,1781.9 L2599.8,1783.3 L2604.6,1784.8 L2609.4,1786.2 L2614.2,1787.5 L2618.8,1788.6 L2623.2,1789.6 L2627.3,1790.5 L2631.4,1791.4 L2635.5,1792.2 L2639.5,1793.0 L2643.6,1793.6 L2647.6,1794.2 L2651.7,1794.6 L2655.9,1794.9 L2659.9,1795.0 L2663.9,1794.9 L2667.8,1794.7 L2671.7,1794.4 L2675.5,1793.9 L2679.3,1793.3 L2683.0,1792.6 L2686.7,1791.6 L2690.4,1790.5 L2694.0,1789.3 L2697.5,1787.9 L2701.0,1786.3 L2704.4,1784.5 L2707.8,1782.6 L2711.2,1780.6 L2714.4,1778.3 L2717.6,1776.0 L2720.6,1773.4 L2723.5,1770.7 L2726.3,1767.9 L2728.9,1764.8 L2731.2,1761.7 L2733.3,1758.4 L2735.2,1755.0 L2736.9,1751.6 L2738.4,1748.1 L2739.7,1744.5 L2740.9,1741.0 L2741.9,1737.3 L2742.8,1733.7 L2743.7,1730.0 L2744.4,1726.2 L2745.0,1722.5 L2745.4,1718.7 L2745.8,1714.9 L2746.0,1711.0 L2746.2,1707.0 L2746.2,1702.9 L2746.2,1698.5 L2746.1,1693.9 L2746.0,1689.0 L2745.8,1683.5 L2745.5,1677.6 L2745.1,1671.5 L2744.6,1665.1 L2744.0,1658.5 L2743.4,1651.8 L2742.8,1645.1 L2742.2,1638.4 L2741.6,1631.9 L2741.0,1625.4 L2740.4,1618.9 L2739.7,1612.3 L2739.0,1605.6 L2738.3,1598.8 L2737.6,1592.1 L2736.9,1585.6 L2736.2,1579.2 L2735.6,1573.0 L2735.0,1567.2 L2734.5,1561.7 L2734.0,1556.5 L2733.6,1551.3 L2733.2,1546.2 L2732.9,1541.2 L2732.4,1538.9 L2731.1,1536.9 L2729.1,1535.5 L2726.7,1535.0 L2724.3,1535.5 L2722.3,1536.8 L2721.0,1538.8Z M2719.5,1562.0 a7.5,7.5 0 1,0 15.0,0 a7.5,7.5 0 1,0 -15.0,0Z M2721.0,1626.0 a10.0,10.0 0 1,0 20.0,0 a10.0,10.0 0 1,0 -20.0,0Z M2722.0,1689.0 a12.0,12.0 0 1,0 24.0,0 a12.0,12.0 0 1,0 -24.0,0Z M2718.0,1727.0 a13.0,13.0 0 1,0 26.0,0 a13.0,13.0 0 1,0 -26.0,0Z M2704.0,1756.0 a14.0,14.0 0 1,0 28.0,0 a14.0,14.0 0 1,0 -28.0,0Z M2678.0,1775.0 a14.0,14.0 0 1,0 28.0,0 a14.0,14.0 0 1,0 -28.0,0Z M2646.0,1781.0 a14.0,14.0 0 1,0 28.0,0 a14.0,14.0 0 1,0 -28.0,0Z M2608.0,1775.0 a14.0,14.0 0 1,0 28.0,0 a14.0,14.0 0 1,0 -28.0,0Z M2561.0,1762.0 a14.0,14.0 0 1,0 28.0,0 a14.0,14.0 0 1,0 -28.0,0Z M2512.5,1756.0 a14.5,14.5 0 1,0 29.0,0 a14.5,14.5 0 1,0 -29.0,0Z M2448.0,1756.0 a15.0,15.0 0 1,0 30.0,0 a15.0,15.0 0 1,0 -30.0,0Z M2385.0,1757.0 a15.0,15.0 0 1,0 30.0,0 a15.0,15.0 0 1,0 -30.0,0Z M2186.0,1757.0 a14.0,14.0 0 1,0 28.0,0 a14.0,14.0 0 1,0 -28.0,0Z M1966.2,1757.0 a13.8,13.8 0 1,0 27.5,0 a13.8,13.8 0 1,0 -27.5,0Z M1878.5,1756.5 a13.5,13.5 0 1,0 27.0,0 a13.5,13.5 0 1,0 -27.0,0Z M1758.0,1756.0 a12.0,12.0 0 1,0 24.0,0 a12.0,12.0 0 1,0 -24.0,0Z M1700.0,1757.0 a11.0,11.0 0 1,0 22.0,0 a11.0,11.0 0 1,0 -22.0,0Z M1655.0,1761.0 a10.0,10.0 0 1,0 20.0,0 a10.0,10.0 0 1,0 -20.0,0Z"/>
<path d="M1645.4,1772.9 L1646.8,1772.1 L1648.6,1771.1 L1650.7,1770.0 L1653.0,1768.7 L1655.5,1767.4 L1658.1,1766.0 L1660.9,1764.6 L1663.6,1763.2 L1666.4,1761.8 L1669.1,1760.6 L1671.8,1759.4 L1674.8,1758.1 L1678.0,1756.8 L1681.3,1755.5 L1684.7,1754.1 L1688.0,1752.8 L1691.4,1751.5 L1694.7,1750.2 L1697.9,1748.9 L1700.9,1747.7 L1703.7,1746.6 L1706.4,1745.5 L1709.1,1744.4 L1711.7,1743.4 L1714.3,1742.4 L1716.8,1741.4 L1719.2,1740.3 L1721.6,1739.3 L1723.9,1738.2 L1726.1,1737.1 L1728.1,1736.0 L1730.1,1735.0 L1732.0,1733.9 L1733.9,1732.7 L1735.7,1731.6 L1737.5,1730.4 L1739.2,1729.2 L1741.0,1727.9 L1742.6,1726.6 L1744.3,1725.2 L1745.8,1723.8 L1747.2,1722.3 L1748.5,1720.8 L1749.7,1719.4 L1750.8,1717.9 L1751.9,1716.4 L1752.8,1715.0 L1753.6,1713.6 L1754.4,1712.2 L1755.0,1711.0 L1755.9,1709.2 L1755.9,1707.2 L1755.3,1705.4 L1754.0,1704.0 L1752.2,1703.1 L1750.2,1703.1 L1748.4,1703.7 L1747.0,1705.0 L1746.0,1705.9 L1745.1,1706.7 L1744.1,1707.6 L1743.0,1708.4 L1741.9,1709.2 L1740.7,1710.0 L1739.5,1710.8 L1738.3,1711.5 L1737.0,1712.2 L1735.7,1712.8 L1734.4,1713.4 L1733.0,1713.9 L1731.4,1714.4 L1729.8,1715.0 L1728.0,1715.5 L1726.2,1716.0 L1724.3,1716.7 L1722.2,1717.3 L1720.1,1718.1 L1717.9,1718.9 L1715.7,1719.7 L1713.5,1720.6 L1711.3,1721.5 L1708.9,1722.5 L1706.5,1723.6 L1704.0,1724.6 L1701.4,1725.7 L1698.7,1726.9 L1696.0,1728.1 L1693.1,1729.3 L1690.2,1730.5 L1687.2,1731.8 L1683.9,1733.2 L1680.6,1734.6 L1677.2,1736.0 L1673.8,1737.5 L1670.4,1739.0 L1667.2,1740.5 L1664.0,1742.0 L1660.9,1743.4 L1658.0,1744.9 L1655.0,1746.5 L1652.0,1748.1 L1649.2,1749.7 L1646.5,1751.3 L1644.0,1752.8 L1641.7,1754.2 L1639.7,1755.4 L1638.0,1756.4 L1636.6,1757.1 L1634.0,1759.4 L1632.3,1762.5 L1632.1,1766.0 L1633.1,1769.4 L1635.4,1772.0 L1638.5,1773.7 L1642.0,1773.9Z M1632.0,1765.0 a9.0,9.0 0 1,0 18.0,0 a9.0,9.0 0 1,0 -18.0,0Z M1655.5,1752.0 a9.5,9.5 0 1,0 19.0,0 a9.5,9.5 0 1,0 -19.0,0Z M1687.0,1738.5 a10.0,10.0 0 1,0 20.0,0 a10.0,10.0 0 1,0 -20.0,0Z M1712.0,1728.0 a10.0,10.0 0 1,0 20.0,0 a10.0,10.0 0 1,0 -20.0,0Z M1732.5,1719.0 a7.5,7.5 0 1,0 15.0,0 a7.5,7.5 0 1,0 -15.0,0Z M1746.0,1708.0 a5.0,5.0 0 1,0 10.0,0 a5.0,5.0 0 1,0 -10.0,0Z"/>
<path d="M1637.9,1775.5 L1638.9,1776.0 L1640.1,1776.6 L1641.6,1777.4 L1643.4,1778.2 L1645.3,1779.2 L1647.5,1780.3 L1649.8,1781.3 L1652.4,1782.4 L1655.1,1783.5 L1657.9,1784.6 L1660.9,1785.6 L1664.1,1786.7 L1667.6,1787.8 L1671.2,1788.9 L1675.0,1790.0 L1678.9,1791.2 L1682.8,1792.3 L1686.8,1793.3 L1690.8,1794.3 L1694.7,1795.3 L1698.7,1796.2 L1702.9,1797.0 L1707.0,1797.8 L1711.1,1798.6 L1715.1,1799.3 L1719.0,1799.9 L1722.6,1800.5 L1725.8,1801.0 L1728.7,1801.4 L1731.0,1801.7 L1733.1,1801.9 L1735.0,1802.0 L1736.8,1802.0 L1738.5,1802.0 L1740.2,1802.0 L1741.9,1802.0 L1743.6,1802.0 L1745.4,1802.1 L1747.2,1802.2 L1748.8,1802.3 L1751.9,1803.0 L1755.0,1802.4 L1757.6,1800.7 L1759.3,1798.2 L1760.0,1795.1 L1759.4,1792.0 L1757.7,1789.4 L1755.2,1787.7 L1754.3,1786.7 L1753.4,1785.6 L1752.4,1784.3 L1751.1,1782.8 L1749.6,1781.3 L1747.7,1779.7 L1745.5,1778.2 L1743.0,1776.7 L1740.2,1775.4 L1737.0,1774.3 L1733.5,1773.5 L1729.8,1772.9 L1726.0,1772.5 L1722.1,1772.2 L1718.1,1772.0 L1714.1,1771.8 L1710.2,1771.6 L1706.4,1771.4 L1702.8,1771.1 L1699.3,1770.7 L1695.8,1770.2 L1692.2,1769.5 L1688.4,1768.8 L1684.6,1768.0 L1680.9,1767.2 L1677.2,1766.4 L1673.6,1765.6 L1670.2,1764.8 L1667.0,1764.1 L1664.1,1763.4 L1661.4,1762.9 L1658.9,1762.3 L1656.6,1761.7 L1654.3,1761.2 L1652.2,1760.7 L1650.2,1760.2 L1648.4,1759.7 L1646.8,1759.3 L1645.3,1758.9 L1644.1,1758.5 L1640.6,1758.0 L1637.2,1758.8 L1634.4,1760.9 L1632.5,1763.9 L1632.0,1767.4 L1632.8,1770.8 L1634.9,1773.6Z M1632.0,1767.0 a9.0,9.0 0 1,0 18.0,0 a9.0,9.0 0 1,0 -18.0,0Z M1650.0,1774.0 a11.0,11.0 0 1,0 22.0,0 a11.0,11.0 0 1,0 -22.0,0Z M1684.5,1783.0 a12.5,12.5 0 1,0 25.0,0 a12.5,12.5 0 1,0 -25.0,0Z M1720.0,1788.0 a14.0,14.0 0 1,0 28.0,0 a14.0,14.0 0 1,0 -28.0,0Z M1744.0,1795.0 a8.0,8.0 0 1,0 16.0,0 a8.0,8.0 0 1,0 -16.0,0Z"/>
<path d="M1184.0,1739.7 L1180.9,1740.4 L1177.7,1741.1 L1174.4,1741.7 L1171.1,1742.3 L1167.4,1742.8 L1163.2,1743.3 L1158.6,1744.0 L1153.7,1744.8 L1148.7,1745.5 L1143.7,1746.1 L1138.8,1746.7 L1134.0,1747.1 L1129.6,1747.3 L1125.8,1747.3 L1122.5,1747.0 L1119.5,1746.5 L1116.6,1745.9 L1114.0,1745.2 L1111.6,1744.3 L1109.4,1743.3 L1107.3,1742.2 L1105.3,1741.0 L1103.5,1739.8 L1101.6,1738.4 L1100.0,1737.0 L1098.8,1735.8 L1097.7,1734.4 L1096.5,1732.8 L1095.3,1731.0 L1094.1,1728.9 L1092.9,1726.8 L1091.7,1724.5 L1090.5,1722.1 L1089.3,1719.6 L1088.0,1717.2 L1086.9,1715.1 L1086.0,1713.2 L1085.3,1711.6 L1084.7,1710.1 L1084.1,1708.6 L1083.5,1707.1 L1083.0,1705.2 L1082.4,1703.1 L1081.7,1700.5 L1081.0,1697.5 L1080.3,1694.0 L1079.5,1690.3 L1078.8,1686.3 L1078.1,1682.1 L1077.4,1677.6 L1076.7,1673.0 L1076.2,1668.2 L1075.7,1663.3 L1075.3,1658.2 L1075.0,1653.0 L1074.8,1647.7 L1074.7,1642.3 L1074.7,1636.8 L1074.7,1631.1 L1074.8,1625.3 L1075.0,1619.2 L1075.3,1612.7 L1075.6,1606.0 L1076.0,1598.8 L1076.5,1591.3 L1077.0,1583.1 L1077.7,1574.3 L1078.4,1564.9 L1079.2,1555.1 L1080.1,1545.1 L1081.0,1535.0 L1082.0,1525.0 L1082.8,1515.1 L1083.7,1505.7 L1084.4,1496.8 L1085.1,1488.5 L1085.8,1480.7 L1086.4,1473.2 L1087.0,1466.0 L1087.6,1458.9 L1088.2,1451.8 L1088.8,1444.6 L1089.3,1437.3 L1089.9,1429.6 L1090.4,1421.6 L1091.0,1413.2 L1091.6,1404.3 L1092.3,1395.1 L1092.9,1385.7 L1093.5,1376.3 L1094.1,1366.9 L1094.6,1357.7 L1095.0,1348.8 L1095.3,1340.3 L1095.5,1332.4 L1095.5,1324.8 L1095.3,1317.6 L1095.1,1310.7 L1094.7,1304.0 L1094.3,1297.6 L1093.8,1291.5 L1093.3,1285.5 L1092.8,1279.8 L1092.4,1274.3 L1092.0,1268.9 L1091.6,1263.7 L1091.2,1258.7 L1090.8,1253.9 L1090.3,1249.2 L1089.9,1244.8 L1089.5,1240.5 L1089.1,1236.5 L1088.7,1232.6 L1088.3,1228.9 L1088.0,1225.4 L1087.7,1223.4 L1086.8,1221.7 L1085.2,1220.5 L1083.4,1220.0 L1081.4,1220.3 L1079.7,1221.2 L1078.5,1222.8 L1078.0,1224.6 L1077.2,1228.0 L1076.2,1231.6 L1075.2,1235.3 L1074.1,1239.2 L1073.0,1243.3 L1071.8,1247.6 L1070.6,1252.2 L1069.4,1256.9 L1068.2,1261.9 L1067.0,1267.1 L1065.9,1272.5 L1064.7,1278.0 L1063.5,1283.7 L1062.3,1289.6 L1061.1,1295.6 L1059.9,1301.9 L1058.7,1308.4 L1057.6,1315.2 L1056.6,1322.3 L1055.5,1329.6 L1054.6,1337.5 L1053.7,1345.9 L1052.8,1354.7 L1052.0,1363.9 L1051.2,1373.2 L1050.4,1382.6 L1049.7,1391.9 L1049.0,1401.1 L1048.3,1409.9 L1047.6,1418.4 L1046.9,1426.3 L1046.3,1433.9 L1045.7,1441.2 L1045.1,1448.3 L1044.6,1455.4 L1044.0,1462.5 L1043.5,1469.7 L1042.9,1477.2 L1042.2,1485.0 L1041.6,1493.2 L1040.8,1502.0 L1040.0,1511.3 L1039.1,1521.1 L1038.2,1531.1 L1037.2,1541.3 L1036.3,1551.4 L1035.5,1561.4 L1034.7,1571.0 L1034.1,1580.2 L1033.5,1588.7 L1033.1,1596.6 L1032.8,1604.1 L1032.6,1611.2 L1032.5,1618.0 L1032.4,1624.6 L1032.4,1630.9 L1032.5,1637.1 L1032.6,1643.1 L1032.8,1649.1 L1033.0,1655.0 L1033.3,1660.9 L1033.7,1666.7 L1034.2,1672.3 L1034.7,1677.8 L1035.2,1683.1 L1035.9,1688.3 L1036.6,1693.2 L1037.3,1697.9 L1038.1,1702.3 L1039.0,1706.5 L1039.9,1710.5 L1040.8,1714.2 L1041.8,1717.7 L1042.9,1721.1 L1044.1,1724.4 L1045.5,1727.5 L1047.0,1730.5 L1048.6,1733.3 L1050.2,1736.1 L1052.0,1738.8 L1053.8,1741.4 L1055.8,1744.2 L1058.0,1747.1 L1060.5,1750.1 L1063.1,1753.1 L1066.0,1756.1 L1069.1,1759.0 L1072.5,1761.9 L1076.2,1764.6 L1080.0,1767.0 L1083.7,1768.9 L1087.3,1770.6 L1091.1,1772.1 L1095.0,1773.4 L1099.1,1774.6 L1103.3,1775.5 L1107.7,1776.2 L1112.1,1776.7 L1116.7,1777.0 L1121.5,1777.0 L1126.7,1776.7 L1132.0,1776.1 L1137.4,1775.3 L1142.9,1774.4 L1148.3,1773.2 L1153.6,1772.0 L1158.8,1770.8 L1163.8,1769.6 L1168.3,1768.4 L1172.6,1767.2 L1176.7,1766.0 L1180.6,1764.8 L1184.2,1763.4 L1187.6,1762.1 L1190.7,1760.8 L1194.5,1758.7 L1197.2,1755.3 L1198.4,1751.2 L1197.9,1746.9 L1195.8,1743.1 L1192.4,1740.4 L1188.3,1739.3Z M1157.5,1755.0 a12.5,12.5 0 1,0 25.0,0 a12.5,12.5 0 1,0 -25.0,0Z M1107.0,1762.0 a15.0,15.0 0 1,0 30.0,0 a15.0,15.0 0 1,0 -30.0,0Z M1072.0,1752.0 a18.0,18.0 0 1,0 36.0,0 a18.0,18.0 0 1,0 -36.0,0Z M1049.0,1728.0 a21.0,21.0 0 1,0 42.0,0 a21.0,21.0 0 1,0 -42.0,0Z M1038.5,1702.0 a21.5,21.5 0 1,0 43.0,0 a21.5,21.5 0 1,0 -43.0,0Z M1033.0,1654.0 a21.0,21.0 0 1,0 42.0,0 a21.0,21.0 0 1,0 -42.0,0Z M1033.5,1590.0 a21.5,21.5 0 1,0 43.0,0 a21.5,21.5 0 1,0 -43.0,0Z M1041.5,1495.0 a21.5,21.5 0 1,0 43.0,0 a21.5,21.5 0 1,0 -43.0,0Z M1047.5,1420.0 a21.5,21.5 0 1,0 43.0,0 a21.5,21.5 0 1,0 -43.0,0Z M1055.5,1331.0 a20.0,20.0 0 1,0 40.0,0 a20.0,20.0 0 1,0 -40.0,0Z M1067.0,1268.0 a12.5,12.5 0 1,0 25.0,0 a12.5,12.5 0 1,0 -25.0,0Z M1078.0,1225.0 a5.0,5.0 0 1,0 10.0,0 a5.0,5.0 0 1,0 -10.0,0Z"/>
<path d="M1093.5,1146.3 L1095.8,1143.2 L1098.0,1140.2 L1100.2,1137.3 L1102.3,1134.4 L1104.4,1131.6 L1106.4,1128.9 L1108.4,1126.2 L1110.4,1123.6 L1112.3,1121.1 L1114.4,1118.5 L1116.4,1115.9 L1118.4,1113.3 L1120.3,1110.9 L1122.1,1108.5 L1123.8,1106.4 L1125.3,1104.5 L1126.5,1102.9 L1127.6,1101.6 L1128.8,1098.7 L1128.9,1095.6 L1127.7,1092.7 L1125.6,1090.4 L1122.7,1089.2 L1119.6,1089.1 L1116.7,1090.3 L1114.4,1092.4 L1113.6,1093.8 L1112.5,1095.5 L1111.2,1097.6 L1109.8,1099.9 L1108.2,1102.4 L1106.5,1105.1 L1104.8,1107.8 L1103.1,1110.7 L1101.3,1113.5 L1099.6,1116.4 L1097.9,1119.2 L1096.2,1122.1 L1094.5,1125.1 L1092.7,1128.1 L1090.9,1131.2 L1089.1,1134.4 L1087.2,1137.6 L1085.3,1140.8 L1084.6,1142.6 L1084.6,1144.5 L1085.3,1146.3 L1086.7,1147.6 L1088.4,1148.4 L1090.3,1148.4 L1092.1,1147.6Z M1098.5,1120.0 a6.5,6.5 0 1,0 13.0,0 a6.5,6.5 0 1,0 -13.0,0Z M1113.0,1097.0 a8.0,8.0 0 1,0 16.0,0 a8.0,8.0 0 1,0 -16.0,0Z"/>
<path d="M1115.1,1096.9 L1115.1,1098.9 L1115.2,1101.5 L1115.2,1104.5 L1115.3,1107.9 L1115.4,1111.6 L1115.5,1115.4 L1115.6,1119.3 L1115.7,1123.3 L1115.9,1127.1 L1116.0,1130.8 L1116.2,1134.5 L1116.4,1138.4 L1116.6,1142.4 L1116.8,1146.5 L1117.0,1150.7 L1117.3,1154.9 L1117.5,1159.0 L1117.8,1162.9 L1118.2,1166.8 L1118.5,1170.4 L1118.9,1173.9 L1119.4,1177.2 L1119.9,1180.5 L1120.4,1183.8 L1120.9,1186.9 L1121.5,1189.9 L1122.0,1192.7 L1122.6,1195.4 L1123.1,1197.8 L1123.5,1200.1 L1124.0,1202.2 L1125.2,1204.0 L1127.0,1205.1 L1129.1,1205.5 L1131.2,1205.0 L1133.0,1203.8 L1134.1,1202.0 L1134.5,1199.9 L1134.8,1197.5 L1135.2,1195.0 L1135.6,1192.3 L1135.9,1189.4 L1136.3,1186.4 L1136.6,1183.2 L1136.9,1179.9 L1137.2,1176.6 L1137.4,1173.1 L1137.5,1169.6 L1137.5,1166.0 L1137.6,1162.1 L1137.5,1158.1 L1137.5,1154.0 L1137.4,1149.8 L1137.2,1145.5 L1137.0,1141.3 L1136.7,1137.2 L1136.4,1133.1 L1136.0,1129.2 L1135.4,1125.3 L1134.8,1121.3 L1134.0,1117.2 L1133.2,1113.3 L1132.3,1109.4 L1131.5,1105.8 L1130.7,1102.5 L1130.0,1099.6 L1129.4,1097.1 L1128.9,1095.1 L1128.1,1092.5 L1126.3,1090.5 L1123.9,1089.3 L1121.1,1089.1 L1118.5,1089.9 L1116.5,1091.7 L1115.3,1094.1Z M1115.0,1096.0 a7.0,7.0 0 1,0 14.0,0 a7.0,7.0 0 1,0 -14.0,0Z M1116.0,1130.0 a10.0,10.0 0 1,0 20.0,0 a10.0,10.0 0 1,0 -20.0,0Z M1118.5,1170.0 a9.5,9.5 0 1,0 19.0,0 a9.5,9.5 0 1,0 -19.0,0Z M1123.5,1200.0 a5.5,5.5 0 1,0 11.0,0 a5.5,5.5 0 1,0 -11.0,0Z"/>
<path d="M1637.8,653.6 L1640.1,652.9 L1642.6,652.1 L1645.0,651.4 L1647.4,650.6 L1649.7,649.8 L1652.0,648.9 L1654.6,647.9 L1657.2,646.9 L1659.1,645.9 L1660.4,644.3 L1661.0,642.3 L1660.8,640.3 L1659.9,638.4 L1658.3,637.1 L1656.3,636.5 L1654.2,636.6 L1651.4,637.2 L1648.8,637.7 L1646.3,638.2 L1644.0,638.8 L1641.6,639.4 L1639.1,640.0 L1636.6,640.6 L1634.2,641.3 L1632.0,642.4 L1630.4,644.3 L1629.6,646.7 L1629.8,649.2 L1631.0,651.4 L1632.9,653.0 L1635.3,653.8Z M1642.0,644.0 a6.0,6.0 0 1,0 12.0,0 a6.0,6.0 0 1,0 -12.0,0Z"/>
<path d="M1694.2,592.8 L1696.4,598.0 L1698.7,603.4 L1701.0,608.8 L1703.3,614.1 L1705.4,619.2 L1707.4,623.8 L1709.3,628.2 L1711.2,632.7 L1713.1,637.1 L1715.0,641.5 L1716.9,645.9 L1718.7,650.1 L1720.5,654.1 L1722.1,658.0 L1723.7,661.6 L1725.2,664.9 L1726.5,668.0 L1727.8,671.0 L1729.1,673.7 L1730.2,676.3 L1731.3,678.7 L1732.3,680.9 L1733.2,682.9 L1734.0,684.6 L1734.7,686.1 L1735.3,687.4 L1738.1,691.1 L1742.2,693.4 L1746.9,694.0 L1751.4,692.7 L1755.1,689.9 L1757.4,685.8 L1758.0,681.1 L1756.7,676.6 L1756.1,675.4 L1755.3,674.0 L1754.4,672.3 L1753.3,670.4 L1752.2,668.3 L1750.9,666.0 L1749.5,663.5 L1748.1,660.8 L1746.5,658.0 L1744.8,655.1 L1743.1,651.9 L1741.1,648.5 L1739.1,644.8 L1736.9,641.0 L1734.6,637.0 L1732.3,632.9 L1729.9,628.7 L1727.5,624.5 L1725.0,620.3 L1722.6,616.2 L1720.0,611.8 L1717.2,607.1 L1714.2,602.1 L1711.1,597.0 L1708.1,592.0 L1705.2,587.2 L1703.7,585.3 L1701.6,584.1 L1699.2,583.8 L1696.9,584.5 L1695.0,586.0 L1693.8,588.1 L1693.5,590.5Z M1706.5,620.0 a8.5,8.5 0 1,0 17.0,0 a8.5,8.5 0 1,0 -17.0,0Z M1724.0,660.0 a11.0,11.0 0 1,0 22.0,0 a11.0,11.0 0 1,0 -22.0,0Z M1734.0,682.0 a12.0,12.0 0 1,0 24.0,0 a12.0,12.0 0 1,0 -24.0,0Z"/>
<path d="M1756.6,687.4 L1757.5,685.6 L1758.6,683.3 L1760.0,680.6 L1761.5,677.5 L1763.2,674.2 L1765.0,670.5 L1767.0,666.6 L1768.9,662.6 L1770.9,658.4 L1773.0,654.2 L1775.1,649.7 L1777.3,644.9 L1779.7,639.8 L1782.1,634.5 L1784.6,629.1 L1787.1,623.6 L1789.6,618.2 L1791.9,613.0 L1794.2,607.9 L1796.3,603.1 L1798.3,598.5 L1800.2,593.8 L1802.1,589.2 L1804.0,584.6 L1804.6,582.5 L1804.3,580.3 L1803.2,578.4 L1801.4,577.0 L1799.3,576.5 L1797.1,576.7 L1795.2,577.8 L1793.9,579.6 L1791.4,583.8 L1788.8,588.1 L1786.3,592.5 L1783.7,596.9 L1781.2,601.4 L1778.5,606.3 L1775.7,611.4 L1772.9,616.6 L1770.1,621.9 L1767.3,627.1 L1764.6,632.2 L1761.9,637.1 L1759.4,641.7 L1757.0,645.8 L1754.7,649.7 L1752.4,653.5 L1750.1,657.2 L1747.8,660.7 L1745.7,664.1 L1743.6,667.2 L1741.7,670.0 L1740.1,672.6 L1738.6,674.8 L1737.4,676.6 L1736.1,680.6 L1736.4,684.9 L1738.3,688.7 L1741.6,691.6 L1745.6,692.9 L1749.9,692.6 L1753.7,690.7Z M1736.0,682.0 a11.0,11.0 0 1,0 22.0,0 a11.0,11.0 0 1,0 -22.0,0Z M1756.0,650.0 a9.0,9.0 0 1,0 18.0,0 a9.0,9.0 0 1,0 -18.0,0Z M1783.0,600.0 a7.0,7.0 0 1,0 14.0,0 a7.0,7.0 0 1,0 -14.0,0Z"/>
<g filter="url(#sp1)"><path d="M1251.5,114.4 L1248.2,113.5 L1244.5,112.7 L1240.7,112.0 L1239.3,132.0 L1242.9,131.8 L1246.1,131.7 L1249.3,131.6Z M1104.3,692.2 L1105.1,696.1 L1105.8,699.9 L1106.6,703.6 L1107.3,707.2 L1108.0,710.7 L1118.0,709.3 L1117.8,705.9 L1117.6,702.2 L1117.4,698.5 L1117.2,694.6 L1117.0,690.6Z "/><path d="M1318.9,103.9 L1321.8,104.6 L1324.7,105.3 L1327.6,105.9 L1330.5,106.6 L1333.4,107.3 L1336.3,108.0 L1339.1,91.8 L1336.1,91.5 L1333.1,91.2 L1330.1,90.9 L1327.1,90.6 L1324.1,90.3 L1321.1,90.1Z "/><path d="M1315.6,174.5 L1314.1,175.9 L1312.8,177.3 L1311.5,178.7 L1310.3,179.9 L1309.2,181.1 L1316.8,192.9 L1318.4,192.3 L1320.0,191.7 L1321.7,191.1 L1323.6,190.5 L1325.4,189.8Z "/><path d="M1827.6,103.0 L1831.2,102.4 L1834.4,101.8 L1837.3,101.3 L1839.8,100.9 L1842.2,100.5 L1844.5,100.1 L1846.9,99.7 L1849.6,99.3 L1852.5,98.9 L1856.0,98.4 L1860.2,97.9 L1864.9,97.3 L1870.2,96.6 L1867.9,82.1 L1862.6,83.1 L1857.8,84.1 L1853.7,85.0 L1850.1,85.8 L1847.0,86.5 L1844.3,87.2 L1841.8,87.9 L1839.5,88.6 L1837.2,89.3 L1834.7,90.0 L1832.0,90.8 L1828.8,91.6 L1825.3,92.6Z "/><path d="M2526.7,1164.6 L2531.3,1163.5 L2535.6,1162.4 L2539.6,1161.4 L2543.3,1160.3 L2540.1,1142.4 L2536.4,1142.6 L2532.4,1142.9 L2528.0,1143.3 L2523.3,1143.7Z "/><path d="M2598.8,1215.9 L2597.8,1218.1 L2596.8,1220.1 L2595.9,1221.9 L2594.9,1223.8 L2603.8,1230.9 L2605.5,1229.5 L2607.2,1227.9 L2609.0,1226.2 L2610.8,1224.4Z "/><path d="M2720.9,1536.5 L2720.5,1541.2 L2720.2,1546.2 L2733.2,1546.2 L2732.9,1541.3 L2732.6,1536.5Z "/><path d="M1754.4,1712.2 L1755.1,1710.8 L1755.8,1709.3 L1756.4,1707.8 L1756.8,1706.4 L1748.9,1702.8 L1748.2,1703.8 L1747.6,1704.5 L1746.9,1705.2 L1746.0,1706.0Z "/><path d="M1747.3,1802.3 L1748.9,1802.4 L1750.3,1802.4 L1751.5,1802.4 L1756.9,1789.4 L1756.0,1788.5 L1755.1,1787.6 L1754.1,1786.6Z "/><path d="M1196.5,1737.2 L1193.5,1737.7 L1190.3,1738.4 L1187.1,1739.1 L1184.0,1739.8 L1180.8,1740.5 L1187.7,1762.0 L1190.8,1760.7 L1193.7,1759.5 L1196.4,1758.3 L1199.0,1757.2 L1201.7,1756.1Z M1088.3,1228.8 L1088.0,1225.3 L1087.7,1222.0 L1087.4,1218.8 L1087.1,1215.8 L1080.0,1215.5 L1079.4,1218.4 L1078.7,1221.5 L1078.0,1224.7 L1077.2,1228.0Z "/><path d="M1075.5,1169.2 L1078.3,1165.8 L1081.0,1162.4 L1083.6,1159.0 L1086.2,1155.8 L1088.7,1152.6 L1091.1,1149.4 L1093.5,1146.3 L1095.7,1143.3 L1087.2,1137.6 L1085.3,1140.8 L1083.3,1144.1 L1081.3,1147.4 L1079.2,1150.8 L1077.0,1154.3 L1074.7,1157.9 L1072.3,1161.5 L1070.0,1165.2Z "/><path d="M1123.1,1197.8 L1123.5,1200.1 L1123.9,1202.2 L1124.4,1204.1 L1133.8,1204.0 L1134.2,1202.0 L1134.5,1199.9 L1134.8,1197.6Z "/><path d="M1635.5,654.3 L1637.8,653.6 L1640.1,652.9 L1636.6,640.6 L1634.2,641.3 L1632.0,641.9Z M1654.6,647.9 L1657.2,646.9 L1659.9,645.8 L1662.6,644.7 L1660.0,635.6 L1657.1,636.1 L1654.2,636.6 L1651.4,637.2Z "/><path d="M1692.1,588.0 L1694.2,592.8 L1696.4,598.0 L1708.1,592.0 L1705.2,587.2 L1702.5,582.7Z "/><path d="M1802.1,589.2 L1804.0,584.6 L1805.8,580.2 L1807.5,575.9 L1809.1,571.9 L1801.0,567.8 L1798.8,571.5 L1796.4,575.5 L1793.9,579.6 L1791.4,583.8Z "/></g>
<g filter="url(#sp2)"><path d="M1260.0,117.3 L1257.6,116.4 L1254.7,115.4 L1251.6,114.4 L1248.3,113.5 L1246.0,131.7 L1249.1,131.6 L1252.0,131.6 L1254.7,131.6 L1257.2,131.7Z M1107.3,707.2 L1108.0,710.7 L1108.8,714.0 L1109.5,717.4 L1110.3,720.7 L1111.1,724.0 L1118.7,722.9 L1118.5,719.6 L1118.3,716.2 L1118.1,712.8 L1118.0,709.3 L1117.8,705.8Z "/><path d="M1305.9,101.0 L1309.3,101.8 L1312.7,102.5 L1315.9,103.2 L1319.0,103.9 L1321.9,104.6 L1324.1,90.3 L1321.0,90.1 L1317.9,89.9 L1314.5,89.6 L1311.0,89.4 L1307.4,89.3Z "/><path d="M1310.3,179.9 L1309.2,181.1 L1308.1,182.3 L1307.1,183.4 L1306.2,184.5 L1305.4,185.6 L1311.4,194.5 L1312.6,194.2 L1314.0,193.8 L1315.4,193.4 L1316.8,192.9 L1318.4,192.3Z "/><path d="M1790.8,109.4 L1794.8,108.6 L1798.9,107.9 L1803.1,107.1 L1807.3,106.4 L1811.5,105.7 L1815.7,105.0 L1819.8,104.3 L1823.8,103.6 L1827.6,103.0 L1831.2,102.4 L1828.8,91.6 L1825.3,92.6 L1821.6,93.6 L1817.7,94.6 L1813.7,95.7 L1809.6,96.8 L1805.4,98.0 L1801.3,99.1 L1797.2,100.3 L1793.1,101.4 L1789.2,102.6Z "/><path d="M2539.7,1161.4 L2543.4,1160.3 L2547.0,1159.1 L2550.4,1157.9 L2553.6,1156.7 L2556.5,1155.5 L2553.5,1141.7 L2550.4,1141.8 L2547.1,1142.0 L2543.6,1142.2 L2540.1,1142.4 L2536.3,1142.6Z "/><path d="M2595.9,1221.9 L2594.9,1223.8 L2594.0,1225.6 L2593.0,1227.3 L2592.2,1228.9 L2591.3,1230.4 L2597.5,1235.9 L2598.9,1234.8 L2600.5,1233.6 L2602.1,1232.4 L2603.8,1231.0 L2605.4,1229.5Z "/><path d="M2721.7,1528.0 L2721.3,1532.0 L2720.9,1536.4 L2720.5,1541.2 L2732.9,1541.3 L2732.6,1536.6 L2732.3,1532.2 L2732.1,1528.2Z "/><path d="M1756.4,1707.7 L1756.8,1706.3 L1757.1,1704.9 L1757.3,1703.5 L1757.5,1702.3 L1750.6,1700.2 L1750.0,1701.1 L1749.5,1702.0 L1748.9,1702.9 L1748.2,1703.9Z "/><path d="M1750.3,1802.4 L1751.5,1802.4 L1752.6,1802.3 L1753.5,1802.2 L1754.4,1802.1 L1758.9,1791.8 L1758.3,1791.1 L1757.7,1790.3 L1756.9,1789.4 L1756.0,1788.5Z "/><path d="M1213.2,1736.1 L1210.0,1736.1 L1206.7,1736.2 L1203.4,1736.4 L1200.1,1736.7 L1196.7,1737.2 L1193.6,1737.7 L1198.9,1757.2 L1201.5,1756.2 L1203.9,1755.3 L1206.5,1754.5 L1209.3,1753.7 L1212.1,1753.0 L1215.0,1752.3Z M1087.4,1218.8 L1087.1,1215.8 L1086.8,1213.0 L1086.5,1210.4 L1086.2,1208.0 L1081.3,1207.9 L1080.9,1210.2 L1080.5,1212.8 L1080.0,1215.5 L1079.4,1218.4Z "/><path d="M1056.6,1193.8 L1059.4,1190.0 L1062.0,1186.4 L1064.7,1183.0 L1067.3,1179.6 L1070.0,1176.1 L1072.8,1172.6 L1075.5,1169.2 L1078.3,1165.8 L1072.4,1161.5 L1070.0,1165.2 L1067.6,1168.9 L1065.1,1172.6 L1062.7,1176.3 L1060.3,1179.9 L1058.0,1183.6 L1055.5,1187.3 L1052.9,1191.3Z "/><path d="M1123.9,1202.2 L1124.4,1204.1 L1124.8,1205.8 L1125.2,1207.4 L1125.6,1208.8 L1125.9,1210.1 L1132.2,1210.2 L1132.6,1208.9 L1133.0,1207.4 L1133.4,1205.8 L1133.8,1204.0 L1134.2,1202.0Z "/><path d="M1631.6,655.4 L1633.4,654.9 L1635.5,654.3 L1637.8,653.6 L1634.2,641.3 L1632.0,641.9 L1629.9,642.5 L1628.0,643.0Z M1659.9,645.8 L1662.6,644.7 L1665.2,643.6 L1667.6,642.6 L1665.3,634.7 L1662.7,635.1 L1660.0,635.6 L1657.1,636.1Z "/><path d="M1690.3,583.7 L1692.1,588.0 L1694.2,592.8 L1705.2,587.2 L1702.5,582.7 L1700.1,578.7Z "/><path d="M1807.5,575.9 L1809.1,571.9 L1810.5,568.1 L1811.9,564.7 L1813.1,561.6 L1814.2,558.9 L1808.4,555.9 L1806.9,558.4 L1805.1,561.2 L1803.2,564.4 L1801.0,567.8 L1798.8,571.5Z "/></g>
<g filter="url(#sp3)"><path d="M1267.1,120.1 L1265.7,119.6 L1264.2,119.0 L1262.3,118.2 L1260.1,117.3 L1257.6,116.4 L1254.6,116.4 L1251.8,117.6 L1249.7,119.7 L1248.5,122.5 L1248.5,125.5 L1249.7,128.3 L1251.8,130.4 L1254.6,131.6 L1257.2,131.7 L1259.4,131.7 L1261.5,131.8 L1263.4,131.9 L1264.9,131.9 L1267.3,131.9 L1269.4,130.9 L1271.1,129.2 L1271.9,127.1 L1271.9,124.7 L1270.9,122.6 L1269.2,120.9Z M1110.3,720.8 L1111.1,724.0 L1111.8,727.0 L1112.5,729.9 L1113.1,732.5 L1113.7,734.8 L1114.1,736.8 L1114.5,738.4 L1114.9,739.3 L1115.5,740.0 L1116.4,740.4 L1117.4,740.5 L1118.3,740.1 L1119.0,739.5 L1119.4,738.6 L1119.5,737.6 L1119.4,736.0 L1119.3,734.0 L1119.1,731.6 L1119.0,728.9 L1118.8,726.0 L1118.7,722.9 L1118.5,719.6 L1118.0,718.1 L1116.9,716.9 L1115.4,716.2 L1113.8,716.1 L1112.3,716.6 L1111.1,717.7 L1110.4,719.1Z "/><path d="M1289.4,97.5 L1291.2,97.8 L1293.5,98.3 L1296.2,98.9 L1299.2,99.6 L1302.5,100.3 L1305.9,101.0 L1309.3,101.8 L1311.7,101.6 L1313.9,100.5 L1315.5,98.7 L1316.3,96.4 L1316.1,94.0 L1315.1,91.8 L1313.2,90.2 L1310.9,89.4 L1307.4,89.3 L1303.9,89.1 L1300.6,89.0 L1297.5,88.8 L1294.7,88.7 L1292.4,88.6 L1290.6,88.5 L1288.8,88.7 L1287.3,89.4 L1286.1,90.8 L1285.5,92.4 L1285.7,94.2 L1286.4,95.7 L1287.8,96.9Z "/><path d="M1306.2,184.5 L1305.4,185.6 L1304.7,186.5 L1304.0,187.4 L1303.4,188.3 L1302.9,189.0 L1302.4,189.6 L1302.1,190.1 L1301.1,191.1 L1300.6,192.3 L1300.6,193.7 L1301.1,194.9 L1302.1,195.9 L1303.3,196.4 L1304.7,196.4 L1305.9,195.9 L1306.6,195.7 L1307.3,195.6 L1308.2,195.3 L1309.1,195.1 L1310.2,194.8 L1311.4,194.5 L1312.6,194.2 L1314.3,192.6 L1315.1,190.5 L1315.1,188.2 L1314.3,186.1 L1312.7,184.5 L1310.6,183.7 L1308.3,183.7Z "/><path d="M1752.4,117.4 L1754.7,117.0 L1757.6,116.3 L1761.1,115.6 L1764.9,114.8 L1769.1,113.9 L1773.5,112.9 L1778.0,112.0 L1782.4,111.1 L1786.8,110.2 L1790.8,109.4 L1794.8,108.6 L1796.1,108.0 L1797.1,107.0 L1797.6,105.6 L1797.6,104.2 L1797.0,102.9 L1795.9,101.9 L1794.5,101.4 L1793.1,101.4 L1789.2,102.6 L1785.1,103.8 L1780.9,105.1 L1776.5,106.5 L1772.2,107.9 L1767.9,109.3 L1763.8,110.6 L1760.0,111.8 L1756.7,112.9 L1753.8,113.8 L1751.6,114.6 L1751.1,114.8 L1750.7,115.2 L1750.5,115.8 L1750.6,116.4 L1750.8,116.9 L1751.2,117.3 L1751.8,117.5Z "/><path d="M2553.6,1156.6 L2556.6,1155.4 L2559.3,1154.3 L2561.7,1153.2 L2563.8,1152.3 L2565.6,1151.5 L2567.1,1150.9 L2568.9,1150.1 L2570.2,1148.7 L2570.9,1146.9 L2570.9,1144.9 L2570.1,1143.1 L2568.7,1141.8 L2566.9,1141.1 L2564.9,1141.1 L2563.2,1141.2 L2561.2,1141.3 L2558.9,1141.4 L2556.3,1141.5 L2553.4,1141.7 L2550.3,1141.8 L2547.6,1143.0 L2545.6,1145.2 L2544.5,1147.9 L2544.6,1150.9 L2545.8,1153.6 L2547.9,1155.7 L2550.7,1156.7Z "/><path d="M2592.2,1228.9 L2591.3,1230.4 L2590.5,1231.8 L2589.8,1233.1 L2589.2,1234.2 L2588.7,1235.0 L2588.2,1236.1 L2588.0,1237.2 L2588.3,1238.3 L2589.0,1239.3 L2590.1,1239.8 L2591.2,1240.0 L2592.3,1239.7 L2593.3,1239.0 L2594.0,1238.4 L2595.0,1237.7 L2596.2,1236.8 L2597.5,1235.9 L2598.9,1234.8 L2599.8,1233.3 L2600.0,1231.6 L2599.6,1229.9 L2598.5,1228.5 L2597.0,1227.6 L2595.2,1227.4 L2593.6,1227.8Z "/><path d="M2722.5,1519.0 L2722.3,1521.4 L2722.0,1524.4 L2721.7,1528.0 L2721.3,1532.0 L2721.7,1534.1 L2722.8,1535.9 L2724.6,1537.1 L2726.7,1537.6 L2728.8,1537.2 L2730.6,1536.1 L2731.9,1534.3 L2732.3,1532.2 L2732.1,1528.2 L2731.9,1524.6 L2731.7,1521.5 L2731.5,1519.0 L2731.2,1517.3 L2730.2,1515.8 L2728.8,1514.9 L2727.0,1514.5 L2725.3,1514.8 L2723.8,1515.8 L2722.9,1517.2Z "/><path d="M1757.4,1703.5 L1757.5,1702.3 L1757.6,1701.2 L1757.7,1700.3 L1757.8,1699.5 L1757.8,1699.0 L1758.0,1697.8 L1757.7,1696.7 L1757.0,1695.8 L1756.0,1695.2 L1754.8,1695.0 L1753.7,1695.3 L1752.8,1696.0 L1752.2,1697.0 L1751.8,1697.6 L1751.4,1698.4 L1751.0,1699.3 L1750.5,1700.2 L1750.0,1701.2 L1749.9,1702.7 L1750.3,1704.1 L1751.2,1705.3 L1752.5,1706.0 L1754.0,1706.1 L1755.5,1705.7 L1756.6,1704.8Z "/><path d="M1753.5,1802.2 L1754.4,1802.1 L1755.1,1802.0 L1755.8,1801.9 L1756.4,1801.8 L1756.9,1801.7 L1757.4,1801.7 L1758.9,1802.0 L1760.5,1801.7 L1761.8,1800.9 L1762.7,1799.6 L1763.0,1798.1 L1762.7,1796.5 L1761.9,1795.2 L1760.6,1794.3 L1760.3,1794.0 L1760.1,1793.5 L1759.8,1793.0 L1759.4,1792.4 L1758.9,1791.8 L1758.4,1791.1 L1756.1,1790.6 L1753.7,1791.0 L1751.7,1792.3 L1750.4,1794.2 L1749.9,1796.5 L1750.3,1798.8 L1751.6,1800.8Z "/><path d="M1227.4,1736.5 L1225.9,1736.5 L1224.0,1736.4 L1221.7,1736.3 L1219.1,1736.2 L1216.3,1736.2 L1213.2,1736.1 L1210.1,1736.1 L1206.9,1737.1 L1204.4,1739.3 L1202.9,1742.2 L1202.6,1745.5 L1203.6,1748.7 L1205.8,1751.2 L1208.7,1752.7 L1212.0,1753.0 L1214.9,1752.3 L1217.7,1751.7 L1220.4,1751.2 L1222.9,1750.6 L1225.1,1750.2 L1227.1,1749.8 L1228.6,1749.5 L1231.1,1748.7 L1233.0,1747.1 L1234.2,1744.9 L1234.5,1742.4 L1233.7,1739.9 L1232.1,1738.0 L1229.9,1736.8Z M1086.5,1210.4 L1086.2,1208.0 L1086.0,1205.9 L1085.8,1204.0 L1085.6,1202.4 L1085.5,1201.1 L1085.4,1200.5 L1085.1,1200.0 L1084.6,1199.6 L1084.1,1199.5 L1083.5,1199.6 L1083.0,1199.9 L1082.6,1200.4 L1082.5,1200.9 L1082.3,1202.3 L1082.0,1203.9 L1081.7,1205.8 L1081.3,1207.9 L1080.9,1210.2 L1081.1,1211.3 L1081.7,1212.2 L1082.6,1212.8 L1083.6,1213.1 L1084.7,1212.9 L1085.6,1212.3 L1086.3,1211.5Z "/><path d="M1037.2,1220.8 L1038.7,1218.8 L1040.6,1216.2 L1042.8,1213.0 L1045.3,1209.5 L1048.0,1205.7 L1050.8,1201.8 L1053.7,1197.8 L1056.6,1193.8 L1059.4,1190.0 L1059.8,1189.2 L1059.8,1188.2 L1059.4,1187.4 L1058.8,1186.7 L1057.9,1186.4 L1057.0,1186.3 L1056.2,1186.7 L1055.5,1187.3 L1052.9,1191.3 L1050.2,1195.4 L1047.5,1199.6 L1044.9,1203.6 L1042.4,1207.5 L1040.0,1211.1 L1037.9,1214.3 L1036.1,1217.0 L1034.8,1219.2 L1034.5,1219.7 L1034.5,1220.3 L1034.7,1220.8 L1035.2,1221.2 L1035.7,1221.5 L1036.3,1221.5 L1036.8,1221.3Z "/><path d="M1125.6,1208.8 L1125.9,1210.1 L1126.3,1211.3 L1126.5,1212.3 L1126.8,1213.2 L1127.0,1214.0 L1127.1,1214.8 L1127.6,1215.4 L1128.2,1215.8 L1129.0,1216.0 L1129.8,1215.9 L1130.4,1215.4 L1130.8,1214.8 L1131.0,1214.0 L1131.2,1213.3 L1131.5,1212.4 L1131.8,1211.4 L1132.2,1210.2 L1132.6,1208.9 L1132.3,1207.6 L1131.6,1206.4 L1130.4,1205.7 L1129.1,1205.4 L1127.8,1205.6 L1126.6,1206.4 L1125.8,1207.5Z "/><path d="M1628.8,656.3 L1630.0,655.9 L1631.6,655.4 L1633.4,654.9 L1635.7,653.7 L1637.3,651.8 L1638.1,649.4 L1637.9,646.9 L1636.7,644.7 L1634.8,643.0 L1632.4,642.3 L1629.9,642.5 L1628.0,643.0 L1626.5,643.4 L1625.2,643.7 L1623.0,644.9 L1621.3,646.8 L1620.5,649.3 L1620.7,651.8 L1621.9,654.0 L1623.8,655.7 L1626.3,656.5Z M1665.2,643.6 L1667.6,642.6 L1669.8,641.7 L1671.6,640.9 L1673.0,640.4 L1674.2,639.7 L1675.1,638.7 L1675.5,637.4 L1675.4,636.0 L1674.7,634.8 L1673.7,633.9 L1672.4,633.5 L1671.0,633.6 L1669.5,633.9 L1667.6,634.3 L1665.3,634.7 L1662.7,635.1 L1661.2,635.9 L1660.1,637.2 L1659.6,638.9 L1659.7,640.6 L1660.5,642.1 L1661.9,643.2 L1663.5,643.7Z "/><path d="M1687.5,577.3 L1688.7,580.1 L1690.3,583.7 L1692.1,588.0 L1693.5,589.8 L1695.5,590.9 L1697.8,591.2 L1700.0,590.5 L1701.7,589.1 L1702.8,587.1 L1703.1,584.9 L1702.5,582.7 L1700.1,578.7 L1698.0,575.3 L1696.5,572.7 L1695.2,571.2 L1693.5,570.2 L1691.6,570.0 L1689.7,570.5 L1688.2,571.8 L1687.2,573.5 L1687.0,575.4Z "/><path d="M1813.1,561.6 L1814.2,558.9 L1815.1,556.5 L1815.9,554.5 L1816.6,552.7 L1817.3,551.1 L1817.8,549.7 L1818.2,548.5 L1818.6,547.5 L1819.0,546.6 L1819.3,545.7 L1819.5,545.2 L1819.4,544.6 L1819.2,544.1 L1818.7,543.7 L1818.2,543.5 L1817.6,543.6 L1817.1,543.8 L1816.7,544.3 L1816.2,545.0 L1815.6,545.8 L1814.9,546.7 L1814.1,547.7 L1813.2,548.9 L1812.2,550.3 L1811.1,551.9 L1809.9,553.8 L1808.5,555.9 L1806.9,558.4 L1806.5,559.7 L1806.7,561.1 L1807.3,562.3 L1808.4,563.1 L1809.7,563.5 L1811.1,563.3 L1812.3,562.7Z "/></g>
</g>
<g fill="#8df3a5" filter="url(#rough)">
<path d="M2039.6,262.2 L2038.7,258.9 L2037.5,255.1 L2035.9,251.5 L2034.3,248.1 L2032.5,244.5 L2030.5,240.7 L2028.2,236.9 L2025.7,232.9 L2022.9,228.9 L2019.7,225.1 L2016.2,221.3 L2012.2,217.8 L2007.9,214.7 L2003.3,212.0 L1998.6,209.6 L1993.5,207.3 L1988.1,205.2 L1982.6,203.4 L1976.8,201.9 L1971.0,200.7 L1965.1,199.9 L1959.2,199.4 L1953.4,199.5 L1947.8,200.0 L1942.3,200.8 L1936.8,201.9 L1931.2,203.4 L1925.5,205.3 L1920.0,207.6 L1914.4,210.3 L1909.0,213.5 L1903.7,217.1 L1898.4,221.3 L1893.4,226.1 L1888.5,231.4 L1883.8,237.1 L1879.3,243.1 L1875.0,249.4 L1870.7,255.9 L1866.6,262.5 L1862.6,269.2 L1858.7,275.8 L1855.0,282.4 L1851.2,289.2 L1847.6,296.2 L1844.1,303.4 L1840.7,310.7 L1837.5,318.1 L1834.3,325.4 L1831.2,332.7 L1828.2,339.8 L1825.3,346.8 L1822.4,353.5 L1819.6,360.0 L1816.8,366.5 L1814.1,372.9 L1811.4,379.2 L1808.8,385.5 L1806.3,391.8 L1803.9,398.2 L1801.5,404.5 L1799.2,411.0 L1797.1,417.5 L1795.0,424.2 L1793.0,431.1 L1791.1,438.2 L1789.4,445.2 L1787.7,452.1 L1786.1,458.9 L1784.6,465.4 L1783.3,471.5 L1782.0,477.2 L1780.8,482.4 L1779.8,486.7 L1778.9,490.1 L1778.2,493.0 L1777.5,495.7 L1776.9,498.3 L1776.2,501.2 L1775.6,504.4 L1775.0,508.2 L1774.3,512.8 L1773.6,518.5 L1772.8,525.4 L1771.9,533.0 L1770.9,541.4 L1770.0,550.4 L1769.1,559.8 L1768.1,569.5 L1767.2,579.5 L1766.3,589.4 L1765.4,599.3 L1764.5,609.0 L1763.7,618.9 L1762.9,629.3 L1762.1,640.0 L1761.3,650.9 L1760.5,661.7 L1759.8,672.3 L1759.1,682.6 L1758.5,692.3 L1758.0,701.3 L1757.5,709.4 L1757.2,716.4 L1756.9,722.5 L1756.6,727.8 L1756.5,732.6 L1756.4,737.1 L1756.3,741.4 L1756.3,745.7 L1756.3,750.1 L1756.4,754.9 L1756.5,760.2 L1756.6,766.0 L1756.7,772.0 L1756.8,778.2 L1757.0,784.5 L1757.2,791.1 L1757.5,797.7 L1757.9,804.3 L1758.3,811.0 L1758.9,817.7 L1759.6,824.3 L1760.4,830.9 L1761.3,837.5 L1762.2,844.0 L1763.3,850.6 L1764.5,857.2 L1765.7,863.8 L1767.0,870.3 L1768.4,876.9 L1769.8,883.4 L1771.3,889.9 L1772.9,896.3 L1774.6,902.8 L1776.4,909.4 L1778.2,915.9 L1780.2,922.3 L1782.2,928.8 L1784.2,935.2 L1786.3,941.6 L1788.5,947.9 L1790.7,954.1 L1793.0,960.2 L1795.3,966.5 L1797.6,972.7 L1800.1,979.0 L1802.6,985.2 L1805.2,991.3 L1807.9,997.3 L1810.7,1003.1 L1813.6,1008.7 L1816.7,1014.1 L1819.9,1019.3 L1823.2,1024.1 L1826.7,1028.7 L1830.1,1033.0 L1833.6,1037.0 L1837.2,1040.9 L1840.6,1044.5 L1844.0,1048.0 L1847.3,1051.3 L1850.5,1054.5 L1853.8,1057.7 L1857.0,1060.8 L1860.3,1063.8 L1863.6,1066.7 L1866.9,1069.5 L1870.2,1072.2 L1873.6,1074.7 L1877.1,1077.1 L1880.6,1079.4 L1884.2,1081.5 L1887.8,1083.4 L1891.4,1085.1 L1895.1,1086.7 L1898.8,1088.1 L1902.4,1089.3 L1906.1,1090.3 L1909.8,1091.2 L1913.4,1091.9 L1917.1,1092.5 L1920.7,1092.9 L1924.5,1093.2 L1928.2,1093.3 L1931.9,1093.2 L1935.6,1092.9 L1939.2,1092.5 L1942.8,1092.0 L1946.3,1091.3 L1949.8,1090.5 L1953.3,1089.6 L1956.7,1088.7 L1960.2,1087.5 L1963.7,1086.3 L1967.2,1084.9 L1970.6,1083.4 L1973.9,1081.8 L1977.2,1080.2 L1980.5,1078.5 L1983.7,1076.7 L1986.9,1074.9 L1990.1,1073.0 L1993.4,1071.0 L1996.8,1068.9 L2000.2,1066.6 L2003.6,1064.2 L2005.9,1062.2 L2007.3,1059.4 L2007.4,1056.4 L2006.4,1053.5 L2004.4,1051.2 L2001.7,1049.9 L1998.6,1049.7 L1995.7,1050.7 L1992.1,1052.4 L1988.6,1054.1 L1985.2,1055.6 L1981.9,1057.0 L1978.7,1058.3 L1975.5,1059.6 L1972.3,1060.9 L1969.2,1062.0 L1966.1,1063.2 L1963.0,1064.2 L1960.0,1065.2 L1957.1,1066.0 L1954.2,1066.7 L1951.3,1067.3 L1948.3,1067.9 L1945.4,1068.4 L1942.5,1068.8 L1939.6,1069.1 L1936.8,1069.4 L1934.0,1069.5 L1931.3,1069.6 L1928.6,1069.5 L1925.9,1069.3 L1923.3,1069.1 L1920.5,1068.7 L1917.7,1068.2 L1915.0,1067.6 L1912.2,1067.0 L1909.4,1066.2 L1906.7,1065.3 L1904.0,1064.3 L1901.2,1063.2 L1898.5,1061.9 L1895.8,1060.5 L1893.1,1058.9 L1890.4,1057.2 L1887.7,1055.3 L1884.9,1053.2 L1882.1,1051.0 L1879.3,1048.6 L1876.4,1046.0 L1873.5,1043.3 L1870.5,1040.5 L1867.5,1037.5 L1864.3,1034.3 L1861.1,1031.1 L1857.9,1027.9 L1854.7,1024.5 L1851.6,1021.1 L1848.5,1017.6 L1845.6,1013.9 L1842.7,1010.1 L1840.0,1006.1 L1837.3,1001.9 L1834.7,997.3 L1832.2,992.4 L1829.7,987.2 L1827.2,981.7 L1824.8,976.0 L1822.4,970.1 L1820.0,964.1 L1817.7,958.0 L1815.5,951.9 L1813.3,945.9 L1811.2,939.9 L1809.1,933.9 L1807.1,927.8 L1805.1,921.6 L1803.2,915.4 L1801.4,909.2 L1799.6,902.9 L1797.9,896.6 L1796.2,890.4 L1794.7,884.1 L1793.1,877.9 L1791.6,871.6 L1790.2,865.4 L1788.8,859.1 L1787.5,852.8 L1786.3,846.5 L1785.2,840.3 L1784.2,834.0 L1783.2,827.8 L1782.4,821.7 L1781.7,815.5 L1781.2,809.2 L1780.8,802.9 L1780.4,796.6 L1780.1,790.2 L1780.0,783.9 L1779.8,777.7 L1779.7,771.5 L1779.6,765.6 L1779.5,759.8 L1779.4,754.5 L1779.3,749.8 L1779.3,745.6 L1779.3,741.5 L1779.4,737.5 L1779.5,733.3 L1779.6,728.7 L1779.8,723.5 L1780.1,717.5 L1780.5,710.6 L1780.9,702.6 L1781.5,693.7 L1782.1,684.1 L1782.7,673.9 L1783.5,663.3 L1784.2,652.5 L1785.0,641.7 L1785.8,631.0 L1786.7,620.7 L1787.5,611.0 L1788.3,601.3 L1789.2,591.5 L1790.1,581.6 L1791.0,571.7 L1791.9,562.1 L1792.9,552.7 L1793.8,543.9 L1794.7,535.6 L1795.6,528.1 L1796.4,521.5 L1797.1,516.0 L1797.8,511.7 L1798.3,508.3 L1798.8,505.7 L1799.3,503.4 L1799.8,501.2 L1800.4,498.8 L1801.2,495.8 L1802.1,492.2 L1803.2,487.6 L1804.4,482.3 L1805.7,476.6 L1807.1,470.4 L1808.5,464.0 L1810.1,457.4 L1811.7,450.7 L1813.4,443.9 L1815.2,437.3 L1817.0,430.8 L1818.9,424.5 L1821.0,418.4 L1823.1,412.4 L1825.4,406.3 L1827.7,400.3 L1830.2,394.2 L1832.7,388.1 L1835.3,381.9 L1838.0,375.6 L1840.7,369.1 L1843.6,362.5 L1846.5,355.7 L1849.4,348.7 L1852.4,341.6 L1855.4,334.5 L1858.5,327.3 L1861.7,320.2 L1864.9,313.3 L1868.2,306.5 L1871.6,299.9 L1875.0,293.6 L1878.7,287.3 L1882.4,280.9 L1886.2,274.5 L1890.1,268.2 L1894.0,262.2 L1898.0,256.5 L1902.0,251.2 L1905.9,246.5 L1909.8,242.2 L1913.6,238.7 L1917.4,235.6 L1921.3,232.9 L1925.3,230.6 L1929.4,228.6 L1933.6,226.9 L1937.8,225.5 L1942.0,224.4 L1946.3,223.5 L1950.5,222.9 L1954.6,222.5 L1958.6,222.4 L1962.8,222.6 L1967.2,223.2 L1971.8,224.1 L1976.3,225.2 L1980.8,226.5 L1985.1,228.1 L1989.2,229.8 L1992.9,231.6 L1996.1,233.3 L1998.8,235.1 L2001.3,237.1 L2003.8,239.5 L2006.1,242.2 L2008.4,245.1 L2010.6,248.2 L2012.6,251.3 L2014.5,254.5 L2016.4,257.6 L2018.1,260.5 L2019.4,262.9 L2020.4,265.2 L2021.4,267.8 L2023.1,271.0 L2026.0,273.4 L2029.6,274.4 L2033.3,274.1 L2036.5,272.3 L2038.9,269.5 L2039.9,265.9Z M2017.0,256.0 a10.0,10.0 0 1,0 20.0,0 a10.0,10.0 0 1,0 -20.0,0Z M1991.0,224.0 a11.0,11.0 0 1,0 22.0,0 a11.0,11.0 0 1,0 -22.0,0Z M1942.5,211.0 a11.5,11.5 0 1,0 23.0,0 a11.5,11.5 0 1,0 -23.0,0Z M1894.5,230.0 a11.5,11.5 0 1,0 23.0,0 a11.5,11.5 0 1,0 -23.0,0Z M1853.5,288.0 a11.5,11.5 0 1,0 23.0,0 a11.5,11.5 0 1,0 -23.0,0Z M1821.5,358.0 a11.5,11.5 0 1,0 23.0,0 a11.5,11.5 0 1,0 -23.0,0Z M1796.5,421.0 a11.5,11.5 0 1,0 23.0,0 a11.5,11.5 0 1,0 -23.0,0Z M1780.5,485.0 a11.5,11.5 0 1,0 23.0,0 a11.5,11.5 0 1,0 -23.0,0Z M1773.5,520.0 a11.5,11.5 0 1,0 23.0,0 a11.5,11.5 0 1,0 -23.0,0Z M1764.5,610.0 a11.5,11.5 0 1,0 23.0,0 a11.5,11.5 0 1,0 -23.0,0Z M1757.5,710.0 a11.5,11.5 0 1,0 23.0,0 a11.5,11.5 0 1,0 -23.0,0Z M1756.5,760.0 a11.5,11.5 0 1,0 23.0,0 a11.5,11.5 0 1,0 -23.0,0Z M1759.5,823.0 a11.5,11.5 0 1,0 23.0,0 a11.5,11.5 0 1,0 -23.0,0Z M1771.0,887.0 a12.0,12.0 0 1,0 24.0,0 a12.0,12.0 0 1,0 -24.0,0Z M1790.0,950.0 a12.0,12.0 0 1,0 24.0,0 a12.0,12.0 0 1,0 -24.0,0Z M1815.0,1008.0 a12.0,12.0 0 1,0 24.0,0 a12.0,12.0 0 1,0 -24.0,0Z M1847.0,1046.0 a12.0,12.0 0 1,0 24.0,0 a12.0,12.0 0 1,0 -24.0,0Z M1878.0,1071.0 a12.0,12.0 0 1,0 24.0,0 a12.0,12.0 0 1,0 -24.0,0Z M1910.0,1081.0 a12.0,12.0 0 1,0 24.0,0 a12.0,12.0 0 1,0 -24.0,0Z M1943.0,1078.0 a11.0,11.0 0 1,0 22.0,0 a11.0,11.0 0 1,0 -22.0,0Z M1977.0,1065.0 a9.0,9.0 0 1,0 18.0,0 a9.0,9.0 0 1,0 -18.0,0Z"/>
<path d="M1998.7,334.7 L1995.0,333.1 L1991.1,331.4 L1986.9,329.7 L1982.4,328.1 L1977.8,326.8 L1973.1,325.7 L1968.2,325.1 L1963.4,325.0 L1959.1,325.4 L1954.9,326.0 L1950.7,326.8 L1946.5,328.1 L1942.2,329.7 L1938.0,331.6 L1933.8,334.1 L1929.7,336.9 L1925.7,340.3 L1921.7,344.1 L1917.9,348.5 L1914.2,353.4 L1910.6,358.6 L1907.1,364.2 L1903.8,370.1 L1900.4,376.1 L1897.2,382.3 L1894.1,388.5 L1891.0,394.6 L1888.0,400.6 L1885.0,406.9 L1881.9,413.5 L1878.9,420.3 L1875.9,427.2 L1873.0,434.2 L1870.3,441.1 L1867.7,447.7 L1865.2,454.1 L1863.0,460.1 L1861.1,465.6 L1859.3,470.9 L1857.9,475.9 L1856.7,480.6 L1855.6,485.0 L1854.8,489.1 L1854.1,492.9 L1853.5,496.3 L1852.9,499.4 L1852.4,502.1 L1851.9,504.3 L1851.6,505.1 L1853.0,502.9 L1860.3,499.5 L1864.9,500.5 L1861.1,499.2 L1851.0,503.5 L1849.0,507.9 L1848.4,510.7 L1848.0,514.2 L1847.5,519.2 L1847.0,525.8 L1846.5,533.9 L1846.0,543.3 L1845.4,553.7 L1844.9,564.7 L1844.3,576.1 L1843.8,587.5 L1843.3,598.8 L1842.9,609.6 L1842.5,619.7 L1842.2,629.3 L1842.0,639.1 L1841.8,648.9 L1841.6,658.5 L1841.5,668.1 L1841.4,677.3 L1841.3,686.2 L1841.2,694.7 L1841.1,702.6 L1841.0,709.9 L1840.9,716.5 L1840.7,722.4 L1840.6,727.8 L1840.4,732.7 L1840.3,737.4 L1840.1,742.0 L1840.1,746.5 L1840.1,751.1 L1840.3,755.8 L1840.5,760.8 L1840.9,765.9 L1841.3,771.0 L1841.8,776.0 L1842.4,781.0 L1843.1,785.9 L1843.8,790.9 L1844.6,795.8 L1845.4,800.7 L1846.3,805.5 L1847.2,810.3 L1848.1,815.1 L1849.0,819.8 L1850.0,824.6 L1851.0,829.5 L1852.1,834.4 L1853.3,839.4 L1854.7,844.4 L1856.2,849.4 L1857.9,854.5 L1859.9,859.6 L1862.1,864.7 L1864.6,869.8 L1867.2,874.9 L1870.0,880.1 L1872.8,885.1 L1875.8,890.0 L1878.7,894.8 L1881.7,899.2 L1884.6,903.4 L1887.5,907.3 L1890.3,910.9 L1893.2,914.1 L1896.0,917.2 L1898.9,919.9 L1901.8,922.4 L1904.6,924.7 L1907.5,926.8 L1910.3,928.8 L1913.0,930.6 L1915.8,932.3 L1918.5,933.9 L1921.3,935.5 L1924.2,937.0 L1927.2,938.5 L1930.3,939.8 L1933.5,940.9 L1937.0,941.9 L1940.5,942.5 L1944.2,942.9 L1948.0,943.0 L1951.9,942.7 L1955.8,942.1 L1959.7,941.3 L1963.5,940.2 L1967.2,939.0 L1970.9,937.6 L1974.5,936.1 L1978.0,934.4 L1981.3,932.7 L1984.5,930.9 L1987.6,929.0 L1990.6,926.9 L1993.4,924.6 L1996.1,922.3 L1998.6,919.9 L2001.0,917.5 L2003.3,915.2 L2005.4,912.8 L2007.6,910.5 L2009.3,908.2 L2010.0,905.5 L2009.6,902.6 L2008.2,900.2 L2005.9,898.4 L2003.1,897.7 L2000.3,898.1 L1997.8,899.5 L1995.3,901.4 L1992.8,903.2 L1990.3,904.9 L1987.8,906.6 L1985.3,908.1 L1982.8,909.6 L1980.4,910.9 L1978.0,912.0 L1975.5,913.1 L1972.8,914.0 L1969.9,915.0 L1966.9,916.0 L1963.9,916.8 L1960.9,917.5 L1957.9,918.1 L1955.1,918.6 L1952.4,918.9 L1950.0,919.0 L1948.0,919.0 L1946.1,918.8 L1944.3,918.6 L1942.5,918.2 L1940.7,917.7 L1938.8,917.1 L1936.9,916.3 L1934.9,915.4 L1932.8,914.3 L1930.6,913.1 L1928.2,911.7 L1925.9,910.3 L1923.6,908.8 L1921.4,907.3 L1919.3,905.7 L1917.2,904.1 L1915.1,902.2 L1913.0,900.2 L1910.9,898.0 L1908.8,895.5 L1906.5,892.7 L1904.1,889.5 L1901.6,885.8 L1898.9,881.8 L1896.2,877.5 L1893.5,873.0 L1890.9,868.4 L1888.4,863.8 L1886.1,859.2 L1884.0,854.7 L1882.1,850.4 L1880.5,846.3 L1879.1,842.1 L1877.8,837.8 L1876.6,833.4 L1875.5,829.0 L1874.5,824.5 L1873.6,819.9 L1872.7,815.2 L1871.7,810.4 L1870.8,805.7 L1869.8,801.0 L1868.9,796.3 L1868.0,791.7 L1867.2,787.1 L1866.4,782.4 L1865.7,777.8 L1865.0,773.2 L1864.4,768.5 L1863.9,763.9 L1863.5,759.2 L1863.1,754.7 L1862.9,750.4 L1862.8,746.3 L1862.7,742.1 L1862.7,737.8 L1862.8,733.2 L1862.9,728.3 L1862.9,722.8 L1863.0,716.8 L1863.0,710.1 L1863.0,702.7 L1863.0,694.8 L1862.9,686.3 L1862.9,677.4 L1862.9,668.2 L1862.9,658.7 L1863.0,649.1 L1863.1,639.5 L1863.3,629.8 L1863.5,620.3 L1863.8,610.4 L1864.2,599.7 L1864.7,588.5 L1865.2,577.0 L1865.8,565.7 L1866.3,554.8 L1866.9,544.5 L1867.5,535.2 L1868.0,527.2 L1868.5,520.8 L1868.9,516.3 L1869.2,513.7 L1869.3,513.1 L1867.9,515.9 L1858.4,520.0 L1855.2,519.1 L1860.7,520.5 L1868.8,516.7 L1871.2,512.8 L1872.1,509.7 L1872.9,506.6 L1873.5,503.4 L1874.1,500.2 L1874.8,496.8 L1875.5,493.2 L1876.2,489.5 L1877.1,485.6 L1878.2,481.4 L1879.4,477.1 L1880.9,472.4 L1882.7,467.1 L1884.8,461.3 L1887.1,455.1 L1889.5,448.5 L1892.1,441.8 L1894.8,435.0 L1897.5,428.3 L1900.4,421.7 L1903.2,415.3 L1906.0,409.4 L1908.9,403.5 L1911.9,397.4 L1914.9,391.4 L1918.0,385.6 L1921.1,379.9 L1924.2,374.5 L1927.4,369.5 L1930.4,365.0 L1933.4,361.1 L1936.3,357.9 L1939.0,355.2 L1941.8,353.0 L1944.6,351.1 L1947.3,349.6 L1950.0,348.3 L1952.8,347.3 L1955.6,346.5 L1958.6,345.9 L1961.6,345.4 L1964.6,345.0 L1967.3,344.8 L1970.4,345.0 L1973.8,345.4 L1977.4,346.1 L1981.3,347.1 L1985.1,348.1 L1988.9,349.3 L1992.6,350.5 L1995.9,351.0 L1999.1,350.3 L2001.7,348.4 L2003.5,345.6 L2004.1,342.4 L2003.3,339.2 L2001.4,336.5Z M1954.0,335.0 a10.0,10.0 0 1,0 20.0,0 a10.0,10.0 0 1,0 -20.0,0Z M1919.0,351.0 a10.0,10.0 0 1,0 20.0,0 a10.0,10.0 0 1,0 -20.0,0Z M1887.0,405.0 a10.0,10.0 0 1,0 20.0,0 a10.0,10.0 0 1,0 -20.0,0Z M1860.5,469.0 a10.5,10.5 0 1,0 21.0,0 a10.5,10.5 0 1,0 -21.0,0Z M1851.5,507.0 a10.5,10.5 0 1,0 21.0,0 a10.5,10.5 0 1,0 -21.0,0Z M1847.5,520.0 a10.5,10.5 0 1,0 21.0,0 a10.5,10.5 0 1,0 -21.0,0Z M1842.5,620.0 a10.5,10.5 0 1,0 21.0,0 a10.5,10.5 0 1,0 -21.0,0Z M1841.0,710.0 a11.0,11.0 0 1,0 22.0,0 a11.0,11.0 0 1,0 -22.0,0Z M1840.5,760.0 a11.5,11.5 0 1,0 23.0,0 a11.5,11.5 0 1,0 -23.0,0Z M1847.0,808.0 a12.0,12.0 0 1,0 24.0,0 a12.0,12.0 0 1,0 -24.0,0Z M1859.0,855.0 a12.0,12.0 0 1,0 24.0,0 a12.0,12.0 0 1,0 -24.0,0Z M1885.0,900.0 a12.0,12.0 0 1,0 24.0,0 a12.0,12.0 0 1,0 -24.0,0Z M1910.0,922.0 a12.0,12.0 0 1,0 24.0,0 a12.0,12.0 0 1,0 -24.0,0Z M1936.0,931.0 a12.0,12.0 0 1,0 24.0,0 a12.0,12.0 0 1,0 -24.0,0Z M1970.0,922.0 a10.0,10.0 0 1,0 20.0,0 a10.0,10.0 0 1,0 -20.0,0Z"/>
<path d="M1983.2,387.3 L1980.9,388.6 L1978.4,390.4 L1975.9,392.5 L1973.4,394.9 L1970.9,397.6 L1968.5,400.3 L1966.1,403.2 L1963.8,406.1 L1961.6,409.0 L1959.5,411.8 L1957.5,414.7 L1955.6,417.6 L1953.7,420.6 L1951.9,423.7 L1950.2,426.9 L1948.5,430.1 L1946.9,433.5 L1945.3,436.9 L1943.8,440.3 L1942.4,443.9 L1941.0,447.4 L1939.8,450.8 L1938.6,454.1 L1937.4,457.5 L1936.4,461.1 L1935.3,464.9 L1934.3,469.0 L1933.2,473.4 L1932.2,478.3 L1931.1,483.8 L1930.0,490.0 L1928.8,496.9 L1927.7,504.3 L1926.5,512.2 L1925.4,520.2 L1924.2,528.4 L1923.1,536.5 L1922.1,544.4 L1921.0,551.9 L1920.1,558.9 L1919.1,565.6 L1918.2,572.1 L1917.3,578.4 L1916.4,584.7 L1915.5,590.7 L1914.7,596.7 L1913.9,602.5 L1913.2,608.2 L1912.6,613.8 L1912.0,619.2 L1911.6,624.5 L1911.2,629.5 L1910.8,634.4 L1910.6,639.2 L1910.4,643.7 L1910.2,648.2 L1910.1,652.5 L1910.0,656.8 L1910.0,660.9 L1910.0,665.0 L1910.0,668.8 L1910.0,672.2 L1910.0,675.5 L1910.0,678.7 L1910.1,681.9 L1910.3,685.2 L1910.6,688.7 L1910.9,692.4 L1911.4,696.6 L1912.1,701.2 L1912.9,706.3 L1913.8,712.1 L1914.9,718.2 L1916.1,724.6 L1917.3,731.2 L1918.7,737.9 L1920.0,744.4 L1921.5,750.7 L1922.9,756.6 L1924.3,762.1 L1925.7,767.1 L1927.0,771.8 L1928.4,776.3 L1929.9,780.6 L1931.4,784.8 L1932.9,788.8 L1934.6,792.7 L1936.3,796.5 L1938.1,800.2 L1939.9,803.8 L1941.9,807.3 L1943.8,810.9 L1945.9,814.6 L1948.1,818.2 L1950.5,821.8 L1953.0,825.2 L1955.8,828.4 L1958.9,831.3 L1962.4,833.8 L1966.6,835.6 L1971.1,836.4 L1975.5,836.3 L1979.6,835.4 L1983.5,834.0 L1987.1,832.4 L1990.6,830.5 L1993.9,828.6 L1996.9,826.6 L1999.8,824.8 L2002.5,823.0 L2005.4,821.1 L2008.2,818.9 L2010.9,816.6 L2013.4,814.3 L2015.0,812.5 L2015.7,810.2 L2015.5,807.9 L2014.4,805.8 L2012.6,804.2 L2010.4,803.5 L2008.0,803.7 L2005.9,804.8 L2003.2,806.6 L2000.6,808.2 L1998.0,809.6 L1995.5,811.0 L1992.6,812.4 L1989.6,814.0 L1986.5,815.6 L1983.5,817.2 L1980.6,818.5 L1978.0,819.6 L1975.6,820.3 L1973.7,820.6 L1972.3,820.6 L1971.4,820.4 L1970.5,819.9 L1969.1,818.9 L1967.4,817.3 L1965.6,815.1 L1963.7,812.6 L1961.7,809.6 L1959.8,806.4 L1957.8,803.1 L1955.9,799.6 L1954.1,796.2 L1952.3,793.0 L1950.7,789.7 L1949.2,786.3 L1947.8,782.8 L1946.4,779.2 L1945.0,775.4 L1943.7,771.4 L1942.4,767.2 L1941.0,762.7 L1939.7,757.9 L1938.4,752.8 L1937.0,747.1 L1935.7,741.0 L1934.3,734.6 L1933.0,728.1 L1931.8,721.7 L1930.6,715.4 L1929.6,709.4 L1928.7,703.8 L1927.9,698.8 L1927.3,694.5 L1926.8,690.7 L1926.5,687.3 L1926.3,684.2 L1926.1,681.2 L1926.0,678.3 L1926.0,675.4 L1926.0,672.2 L1926.0,668.8 L1926.0,665.0 L1926.0,661.0 L1926.0,657.0 L1926.1,652.9 L1926.2,648.7 L1926.4,644.4 L1926.6,640.0 L1926.8,635.4 L1927.1,630.7 L1927.5,625.8 L1928.0,620.8 L1928.5,615.5 L1929.1,610.2 L1929.9,604.6 L1930.6,598.9 L1931.5,593.0 L1932.4,586.9 L1933.3,580.7 L1934.2,574.3 L1935.1,567.8 L1935.9,561.1 L1936.8,554.0 L1937.7,546.4 L1938.6,538.4 L1939.5,530.3 L1940.4,522.1 L1941.3,514.1 L1942.2,506.3 L1943.1,499.0 L1944.0,492.2 L1944.9,486.2 L1945.8,480.9 L1946.6,476.1 L1947.3,471.8 L1948.1,467.9 L1948.9,464.4 L1949.7,461.0 L1950.5,457.8 L1951.5,454.7 L1952.5,451.4 L1953.6,448.1 L1954.8,444.7 L1956.1,441.5 L1957.4,438.3 L1958.8,435.1 L1960.3,432.1 L1961.8,429.2 L1963.4,426.3 L1965.0,423.5 L1966.7,420.8 L1968.5,418.2 L1970.4,415.5 L1972.4,412.8 L1974.6,410.2 L1976.8,407.5 L1979.1,405.1 L1981.3,402.8 L1983.4,400.8 L1985.4,399.1 L1987.1,397.8 L1988.8,396.7 L1990.4,395.3 L1991.3,393.4 L1991.4,391.2 L1990.7,389.2 L1989.3,387.6 L1987.4,386.7 L1985.2,386.6Z M1980.5,392.0 a5.5,5.5 0 1,0 11.0,0 a5.5,5.5 0 1,0 -11.0,0Z M1958.5,415.0 a5.5,5.5 0 1,0 11.0,0 a5.5,5.5 0 1,0 -11.0,0Z M1942.0,446.0 a6.0,6.0 0 1,0 12.0,0 a6.0,6.0 0 1,0 -12.0,0Z M1931.0,485.0 a7.0,7.0 0 1,0 14.0,0 a7.0,7.0 0 1,0 -14.0,0Z M1920.0,560.0 a8.0,8.0 0 1,0 16.0,0 a8.0,8.0 0 1,0 -16.0,0Z M1912.0,620.0 a8.0,8.0 0 1,0 16.0,0 a8.0,8.0 0 1,0 -16.0,0Z M1910.0,665.0 a8.0,8.0 0 1,0 16.0,0 a8.0,8.0 0 1,0 -16.0,0Z M1912.0,700.0 a8.0,8.0 0 1,0 16.0,0 a8.0,8.0 0 1,0 -16.0,0Z M1924.0,760.0 a8.0,8.0 0 1,0 16.0,0 a8.0,8.0 0 1,0 -16.0,0Z M1939.0,800.0 a8.0,8.0 0 1,0 16.0,0 a8.0,8.0 0 1,0 -16.0,0Z M1961.0,828.0 a8.0,8.0 0 1,0 16.0,0 a8.0,8.0 0 1,0 -16.0,0Z M1992.0,817.0 a7.0,7.0 0 1,0 14.0,0 a7.0,7.0 0 1,0 -14.0,0Z"/>
<path d="M2097.8,413.1 L2099.4,411.8 L2101.3,410.5 L2103.7,408.9 L2106.6,407.0 L2109.7,405.0 L2113.0,402.9 L2116.4,400.8 L2119.8,398.9 L2123.1,397.2 L2126.2,395.8 L2128.8,394.8 L2131.0,394.3 L2133.0,394.0 L2134.9,393.8 L2136.8,393.8 L2138.5,394.0 L2140.2,394.3 L2141.9,394.8 L2143.6,395.4 L2145.3,396.3 L2147.0,397.4 L2148.7,398.6 L2150.3,400.1 L2152.0,401.9 L2153.7,404.0 L2155.4,406.4 L2157.1,409.0 L2158.8,411.8 L2160.4,414.8 L2161.9,418.0 L2163.3,421.2 L2164.7,424.4 L2165.9,427.7 L2167.0,431.1 L2168.0,434.8 L2169.0,438.6 L2169.9,442.6 L2170.8,446.6 L2171.5,450.8 L2172.3,455.0 L2173.0,459.3 L2173.6,463.5 L2174.2,467.6 L2174.7,471.6 L2175.1,475.4 L2175.5,479.3 L2175.8,483.3 L2176.1,487.5 L2176.3,491.9 L2176.6,496.7 L2176.8,501.8 L2177.0,507.4 L2177.2,513.6 L2177.4,520.5 L2177.6,527.8 L2177.8,535.5 L2177.9,543.3 L2178.0,551.2 L2178.1,559.0 L2178.1,566.4 L2178.1,573.4 L2178.0,579.8 L2177.9,585.6 L2177.7,590.7 L2177.5,595.5 L2177.2,600.1 L2176.9,604.5 L2176.6,608.9 L2176.2,613.5 L2175.8,618.3 L2175.4,623.6 L2175.0,629.3 L2174.6,635.7 L2174.2,642.6 L2173.8,649.9 L2173.4,657.4 L2173.0,665.0 L2172.5,672.5 L2172.0,679.8 L2171.4,686.7 L2170.8,693.0 L2170.1,698.7 L2169.3,703.6 L2168.5,708.0 L2167.7,712.0 L2166.8,715.6 L2165.8,719.1 L2164.8,722.6 L2163.8,726.0 L2162.6,729.6 L2161.5,733.3 L2160.4,737.3 L2159.3,741.5 L2158.2,745.6 L2157.2,749.6 L2156.2,753.5 L2155.2,757.4 L2154.1,761.2 L2153.0,764.9 L2151.7,768.6 L2150.4,772.3 L2148.9,776.0 L2147.1,779.8 L2145.2,783.9 L2143.1,788.0 L2140.9,792.2 L2138.7,796.2 L2136.4,800.2 L2134.0,804.0 L2131.7,807.5 L2129.3,810.7 L2127.0,813.6 L2124.7,816.0 L2122.3,818.3 L2119.7,820.5 L2117.0,822.5 L2114.1,824.5 L2111.1,826.5 L2108.0,828.4 L2104.8,830.4 L2101.5,832.4 L2098.3,834.5 L2095.3,836.5 L2092.1,838.5 L2090.0,840.2 L2088.7,842.6 L2088.4,845.3 L2089.1,847.9 L2090.9,850.0 L2093.2,851.3 L2095.9,851.6 L2098.5,850.8 L2102.2,849.2 L2105.7,847.5 L2109.0,846.0 L2112.3,844.5 L2115.7,842.9 L2119.3,841.3 L2122.9,839.5 L2126.5,837.5 L2130.2,835.2 L2133.9,832.7 L2137.5,829.7 L2141.0,826.4 L2144.2,822.8 L2147.3,818.9 L2150.3,814.8 L2153.1,810.5 L2155.8,806.1 L2158.3,801.7 L2160.8,797.2 L2163.0,792.7 L2165.2,788.3 L2167.1,784.0 L2169.0,779.7 L2170.7,775.4 L2172.1,771.1 L2173.4,766.8 L2174.6,762.6 L2175.6,758.5 L2176.6,754.4 L2177.6,750.4 L2178.6,746.5 L2179.6,742.7 L2180.7,739.0 L2181.8,735.4 L2182.9,731.9 L2184.0,728.3 L2185.1,724.6 L2186.1,720.7 L2187.2,716.4 L2188.2,711.9 L2189.1,706.9 L2189.9,701.3 L2190.7,695.2 L2191.3,688.5 L2191.9,681.3 L2192.4,673.9 L2192.9,666.2 L2193.4,658.6 L2193.8,651.0 L2194.2,643.8 L2194.6,636.9 L2195.0,630.7 L2195.4,625.0 L2195.8,619.9 L2196.1,615.0 L2196.5,610.4 L2196.8,605.9 L2197.2,601.3 L2197.4,596.6 L2197.7,591.6 L2197.9,586.1 L2198.0,580.2 L2198.1,573.6 L2198.1,566.4 L2198.1,558.9 L2198.1,551.0 L2198.0,543.0 L2197.8,535.1 L2197.7,527.3 L2197.5,519.9 L2197.3,512.9 L2197.0,506.6 L2196.7,500.9 L2196.4,495.6 L2196.1,490.7 L2195.7,486.1 L2195.3,481.7 L2194.9,477.4 L2194.3,473.2 L2193.8,469.0 L2193.1,464.8 L2192.4,460.5 L2191.6,456.1 L2190.8,451.7 L2189.9,447.3 L2189.0,442.8 L2188.0,438.4 L2186.9,434.1 L2185.7,429.8 L2184.3,425.6 L2182.9,421.5 L2181.3,417.6 L2179.6,413.8 L2177.9,410.2 L2175.9,406.5 L2173.9,403.0 L2171.8,399.6 L2169.5,396.4 L2167.2,393.3 L2164.7,390.4 L2162.1,387.7 L2159.3,385.4 L2156.6,383.3 L2153.7,381.6 L2150.7,380.0 L2147.6,378.7 L2144.4,377.7 L2141.1,377.0 L2137.6,376.7 L2134.2,376.7 L2130.6,377.0 L2127.0,377.7 L2123.1,379.0 L2119.3,380.7 L2115.4,382.8 L2111.7,385.1 L2108.0,387.5 L2104.4,390.1 L2101.0,392.7 L2097.9,395.1 L2095.1,397.4 L2092.7,399.5 L2090.6,401.4 L2088.9,403.2 L2087.3,405.3 L2086.7,407.8 L2087.1,410.3 L2088.4,412.6 L2090.5,414.1 L2093.0,414.8 L2095.5,414.4Z M2090.0,405.0 a7.0,7.0 0 1,0 14.0,0 a7.0,7.0 0 1,0 -14.0,0Z M2120.5,386.0 a8.5,8.5 0 1,0 17.0,0 a8.5,8.5 0 1,0 -17.0,0Z M2145.5,392.0 a8.5,8.5 0 1,0 17.0,0 a8.5,8.5 0 1,0 -17.0,0Z M2164.0,421.0 a9.0,9.0 0 1,0 18.0,0 a9.0,9.0 0 1,0 -18.0,0Z M2173.5,462.0 a9.5,9.5 0 1,0 19.0,0 a9.5,9.5 0 1,0 -19.0,0Z M2177.0,507.0 a10.0,10.0 0 1,0 20.0,0 a10.0,10.0 0 1,0 -20.0,0Z M2178.0,580.0 a10.0,10.0 0 1,0 20.0,0 a10.0,10.0 0 1,0 -20.0,0Z M2175.0,630.0 a10.0,10.0 0 1,0 20.0,0 a10.0,10.0 0 1,0 -20.0,0Z M2170.0,700.0 a10.0,10.0 0 1,0 20.0,0 a10.0,10.0 0 1,0 -20.0,0Z M2160.0,740.0 a10.0,10.0 0 1,0 20.0,0 a10.0,10.0 0 1,0 -20.0,0Z M2148.0,780.0 a10.0,10.0 0 1,0 20.0,0 a10.0,10.0 0 1,0 -20.0,0Z M2124.5,820.0 a9.5,9.5 0 1,0 19.0,0 a9.5,9.5 0 1,0 -19.0,0Z M2094.5,841.0 a7.5,7.5 0 1,0 15.0,0 a7.5,7.5 0 1,0 -15.0,0Z"/>
<path d="M2141.5,329.8 L2145.6,329.0 L2149.6,328.3 L2153.7,327.7 L2157.8,327.3 L2161.8,327.2 L2165.7,327.2 L2169.5,327.5 L2173.4,328.0 L2177.6,328.8 L2181.8,329.7 L2186.0,330.8 L2190.2,332.1 L2194.3,333.5 L2198.3,335.1 L2202.1,336.8 L2205.7,338.7 L2208.9,340.6 L2212.0,342.7 L2215.0,345.1 L2218.0,347.7 L2220.8,350.5 L2223.7,353.6 L2226.5,356.7 L2229.2,360.1 L2231.9,363.5 L2234.6,367.0 L2237.1,370.5 L2239.5,373.9 L2241.7,377.4 L2243.9,381.0 L2246.0,384.7 L2248.0,388.5 L2250.0,392.5 L2252.0,396.6 L2254.0,400.8 L2256.0,405.2 L2258.0,409.6 L2260.0,414.0 L2262.0,418.4 L2263.9,422.7 L2265.7,427.1 L2267.5,431.6 L2269.3,436.2 L2271.0,440.9 L2272.7,445.8 L2274.4,450.9 L2276.0,456.4 L2277.6,462.1 L2279.3,468.2 L2280.9,474.4 L2282.5,480.8 L2284.1,487.3 L2285.6,494.1 L2287.0,500.9 L2288.3,507.9 L2289.5,514.9 L2290.7,522.0 L2291.7,529.3 L2292.7,536.7 L2293.5,544.2 L2294.3,551.9 L2295.1,559.6 L2295.7,567.5 L2296.3,575.6 L2296.8,583.8 L2297.2,592.1 L2297.5,600.5 L2297.8,609.3 L2297.9,618.6 L2298.0,628.2 L2298.0,638.0 L2297.9,647.8 L2297.7,657.6 L2297.5,667.2 L2297.2,676.4 L2296.9,685.2 L2296.5,693.3 L2296.1,700.8 L2295.6,707.7 L2295.1,714.1 L2294.4,720.3 L2293.8,726.2 L2293.1,732.0 L2292.3,737.8 L2291.5,743.7 L2290.6,749.7 L2289.6,756.0 L2288.7,762.5 L2287.7,769.0 L2286.7,775.5 L2285.6,782.0 L2284.5,788.5 L2283.3,794.9 L2282.0,801.3 L2280.7,807.6 L2279.4,813.7 L2277.9,819.8 L2276.4,825.8 L2274.8,831.8 L2273.2,837.8 L2271.6,843.6 L2269.9,849.3 L2268.1,854.8 L2266.2,860.2 L2264.2,865.4 L2262.1,870.3 L2259.9,875.0 L2257.5,879.5 L2255.0,883.9 L2252.2,888.2 L2249.4,892.4 L2246.4,896.5 L2243.2,900.5 L2240.0,904.5 L2236.8,908.3 L2233.4,912.1 L2230.1,915.8 L2226.7,919.4 L2223.4,922.9 L2220.0,926.3 L2216.6,929.5 L2213.1,932.6 L2209.6,935.5 L2206.1,938.3 L2202.6,941.0 L2199.1,943.4 L2195.5,945.7 L2191.8,947.9 L2187.9,950.0 L2183.8,952.0 L2179.6,953.9 L2175.3,955.6 L2171.0,957.3 L2166.8,958.7 L2162.8,960.0 L2158.9,961.2 L2155.3,962.1 L2152.1,962.9 L2148.9,963.4 L2145.6,963.7 L2142.3,963.9 L2139.0,964.0 L2135.7,963.9 L2132.5,963.8 L2129.3,963.6 L2126.3,963.4 L2123.5,963.2 L2120.7,963.1 L2118.2,964.1 L2116.2,966.0 L2115.2,968.5 L2115.1,971.3 L2116.1,973.8 L2118.0,975.8 L2120.5,976.8 L2123.2,977.8 L2126.2,978.9 L2129.4,979.9 L2132.9,981.0 L2136.6,982.0 L2140.6,982.9 L2144.9,983.6 L2149.3,984.0 L2154.0,984.1 L2158.7,983.9 L2163.4,983.3 L2168.2,982.5 L2173.1,981.5 L2178.2,980.2 L2183.3,978.7 L2188.5,977.0 L2193.6,975.1 L2198.7,973.1 L2203.7,970.8 L2208.5,968.3 L2213.2,965.6 L2217.7,962.7 L2222.1,959.6 L2226.4,956.3 L2230.5,952.9 L2234.6,949.4 L2238.5,945.7 L2242.4,941.9 L2246.2,938.1 L2249.9,934.2 L2253.6,930.2 L2257.2,926.0 L2260.9,921.8 L2264.5,917.3 L2268.0,912.7 L2271.5,908.0 L2274.8,903.0 L2278.1,897.9 L2281.2,892.6 L2284.1,887.0 L2286.8,881.3 L2289.3,875.5 L2291.6,869.5 L2293.7,863.4 L2295.6,857.3 L2297.5,851.1 L2299.2,844.9 L2300.9,838.7 L2302.5,832.5 L2304.1,826.2 L2305.7,819.8 L2307.1,813.3 L2308.5,806.7 L2309.8,800.0 L2311.0,793.2 L2312.2,786.5 L2313.3,779.8 L2314.4,773.1 L2315.4,766.5 L2316.4,760.0 L2317.3,753.7 L2318.2,747.5 L2319.0,741.5 L2319.8,735.5 L2320.6,729.4 L2321.3,723.1 L2321.9,716.6 L2322.5,709.7 L2323.0,702.5 L2323.5,694.7 L2323.9,686.3 L2324.2,677.4 L2324.6,667.9 L2324.8,658.2 L2325.0,648.2 L2325.1,638.1 L2325.1,628.1 L2325.0,618.2 L2324.8,608.6 L2324.5,599.5 L2324.0,590.7 L2323.4,582.0 L2322.7,573.5 L2322.0,565.2 L2321.1,557.0 L2320.1,548.9 L2319.0,541.0 L2317.9,533.2 L2316.6,525.5 L2315.3,518.0 L2313.9,510.5 L2312.4,503.1 L2310.8,495.8 L2309.1,488.6 L2307.3,481.7 L2305.5,474.8 L2303.6,468.2 L2301.7,461.8 L2299.9,455.6 L2298.0,449.6 L2296.1,443.9 L2294.2,438.3 L2292.2,433.1 L2290.2,428.0 L2288.2,423.1 L2286.2,418.4 L2284.2,413.8 L2282.1,409.3 L2280.1,404.9 L2278.0,400.4 L2275.9,396.0 L2273.9,391.6 L2271.9,387.2 L2269.8,382.8 L2267.6,378.5 L2265.4,374.1 L2263.0,369.9 L2260.5,365.7 L2257.8,361.5 L2254.9,357.5 L2252.0,353.7 L2248.9,349.9 L2245.8,346.2 L2242.5,342.5 L2239.1,338.9 L2235.4,335.4 L2231.6,332.0 L2227.7,328.9 L2223.5,326.0 L2219.1,323.4 L2214.5,321.1 L2209.7,319.1 L2204.9,317.4 L2199.9,315.9 L2194.9,314.6 L2189.9,313.6 L2184.9,312.8 L2180.0,312.2 L2175.2,311.8 L2170.5,311.5 L2165.7,311.5 L2160.9,311.8 L2156.1,312.4 L2151.4,313.2 L2146.9,314.1 L2142.5,315.2 L2138.4,316.3 L2135.9,317.4 L2134.1,319.4 L2133.1,321.9 L2133.2,324.6 L2134.3,327.1 L2136.3,328.9 L2138.8,329.9Z M2162.0,319.5 a8.0,8.0 0 1,0 16.0,0 a8.0,8.0 0 1,0 -16.0,0Z M2204.0,332.0 a10.0,10.0 0 1,0 20.0,0 a10.0,10.0 0 1,0 -20.0,0Z M2235.0,364.0 a11.0,11.0 0 1,0 22.0,0 a11.0,11.0 0 1,0 -22.0,0Z M2257.0,405.0 a11.0,11.0 0 1,0 22.0,0 a11.0,11.0 0 1,0 -22.0,0Z M2275.5,453.0 a11.5,11.5 0 1,0 23.0,0 a11.5,11.5 0 1,0 -23.0,0Z M2290.5,520.0 a12.5,12.5 0 1,0 25.0,0 a12.5,12.5 0 1,0 -25.0,0Z M2297.5,600.0 a13.5,13.5 0 1,0 27.0,0 a13.5,13.5 0 1,0 -27.0,0Z M2296.5,694.0 a13.5,13.5 0 1,0 27.0,0 a13.5,13.5 0 1,0 -27.0,0Z M2289.5,758.0 a13.5,13.5 0 1,0 27.0,0 a13.5,13.5 0 1,0 -27.0,0Z M2277.5,823.0 a13.5,13.5 0 1,0 27.0,0 a13.5,13.5 0 1,0 -27.0,0Z M2258.5,881.0 a13.5,13.5 0 1,0 27.0,0 a13.5,13.5 0 1,0 -27.0,0Z M2226.5,925.0 a13.5,13.5 0 1,0 27.0,0 a13.5,13.5 0 1,0 -27.0,0Z M2189.0,957.0 a13.0,13.0 0 1,0 26.0,0 a13.0,13.0 0 1,0 -26.0,0Z M2146.0,973.0 a11.0,11.0 0 1,0 22.0,0 a11.0,11.0 0 1,0 -22.0,0Z M2115.0,970.0 a7.0,7.0 0 1,0 14.0,0 a7.0,7.0 0 1,0 -14.0,0Z"/>
<path d="M2154.5,235.6 L2157.4,234.0 L2160.4,232.3 L2163.9,230.4 L2167.9,228.3 L2172.1,226.0 L2176.7,223.6 L2181.4,221.1 L2186.3,218.7 L2191.3,216.3 L2196.3,214.0 L2201.3,211.9 L2206.3,210.1 L2211.2,208.5 L2216.4,207.0 L2221.7,205.5 L2227.1,204.2 L2232.6,203.0 L2238.2,201.9 L2243.6,201.0 L2249.0,200.4 L2254.3,200.0 L2259.5,199.8 L2264.5,200.0 L2269.8,200.4 L2275.2,200.9 L2280.5,201.6 L2285.8,202.4 L2290.9,203.5 L2295.7,204.9 L2300.3,206.6 L2304.5,208.5 L2308.4,210.8 L2311.8,213.4 L2315.0,216.5 L2318.2,220.3 L2321.2,224.8 L2324.2,229.9 L2327.2,235.4 L2330.0,241.3 L2332.8,247.5 L2335.5,253.8 L2338.2,260.2 L2340.9,266.4 L2343.5,272.3 L2345.9,278.4 L2348.2,284.5 L2350.4,290.7 L2352.6,297.1 L2354.6,303.5 L2356.6,309.9 L2358.6,316.3 L2360.6,322.8 L2362.5,329.1 L2364.3,335.4 L2366.1,341.7 L2367.9,347.9 L2369.6,354.1 L2371.2,360.3 L2372.8,366.4 L2374.3,372.6 L2375.7,378.7 L2377.0,384.9 L2378.2,391.0 L2379.3,397.3 L2380.3,403.7 L2381.3,410.2 L2382.2,416.8 L2383.0,423.3 L2383.7,429.8 L2384.4,436.1 L2385.0,442.3 L2385.5,448.2 L2386.0,453.9 L2386.5,459.2 L2386.9,464.0 L2387.3,468.4 L2387.6,472.6 L2387.8,476.7 L2387.9,480.7 L2388.0,484.8 L2387.9,489.2 L2387.8,494.0 L2387.5,499.2 L2387.1,504.8 L2386.6,510.5 L2385.9,516.4 L2385.1,522.6 L2384.3,529.0 L2383.3,535.7 L2382.3,542.7 L2381.3,550.0 L2380.2,557.7 L2379.1,565.6 L2378.0,574.2 L2376.8,583.4 L2375.5,593.1 L2374.2,603.2 L2372.8,613.4 L2371.4,623.6 L2370.1,633.5 L2368.7,643.1 L2367.4,652.2 L2366.1,660.5 L2364.9,668.0 L2363.8,675.0 L2362.7,681.4 L2361.6,687.6 L2360.5,693.5 L2359.4,699.2 L2358.2,705.0 L2357.0,711.0 L2355.7,717.2 L2354.2,723.9 L2352.7,730.9 L2351.1,738.0 L2349.4,745.3 L2347.7,752.7 L2345.9,760.2 L2344.1,767.7 L2342.2,775.2 L2340.3,782.7 L2338.4,790.0 L2336.4,797.3 L2334.3,804.4 L2332.3,811.6 L2330.1,818.7 L2328.0,825.8 L2325.7,832.9 L2323.5,840.0 L2321.2,847.0 L2318.8,854.0 L2316.4,860.9 L2314.1,867.8 L2311.6,874.6 L2309.1,881.2 L2306.6,887.9 L2304.0,894.5 L2301.3,901.0 L2298.7,907.7 L2296.0,914.3 L2293.3,921.0 L2290.7,927.8 L2288.1,934.7 L2285.5,941.7 L2283.1,948.7 L2280.7,955.7 L2278.3,962.7 L2275.9,969.7 L2273.5,976.7 L2271.0,983.7 L2268.5,990.7 L2265.9,997.6 L2263.2,1004.4 L2260.3,1011.5 L2257.3,1018.7 L2254.2,1026.0 L2251.0,1033.3 L2247.8,1040.5 L2244.5,1047.7 L2241.3,1054.6 L2238.0,1061.2 L2234.8,1067.6 L2231.7,1073.4 L2228.5,1079.0 L2225.4,1084.3 L2222.2,1089.5 L2218.9,1094.4 L2215.7,1099.1 L2212.6,1103.5 L2209.5,1107.7 L2206.4,1111.7 L2203.5,1115.5 L2200.7,1119.0 L2198.0,1122.3 L2195.4,1125.3 L2192.9,1128.1 L2190.7,1130.6 L2188.5,1132.7 L2186.6,1134.5 L2184.8,1135.9 L2183.2,1137.0 L2181.9,1137.8 L2180.9,1138.2 L2180.1,1138.5 L2179.2,1138.6 L2178.0,1138.5 L2176.4,1138.2 L2174.6,1137.5 L2172.7,1136.7 L2170.6,1135.6 L2168.6,1134.3 L2166.5,1133.0 L2164.6,1131.7 L2163.0,1130.5 L2161.4,1129.1 L2159.7,1127.4 L2158.0,1125.5 L2156.4,1123.4 L2154.7,1121.2 L2153.3,1119.6 L2151.4,1118.7 L2149.2,1118.6 L2147.2,1119.3 L2145.6,1120.8 L2144.7,1122.7 L2144.6,1124.8 L2145.3,1126.8 L2146.6,1129.5 L2148.1,1132.2 L2149.6,1134.9 L2151.4,1137.5 L2153.3,1140.0 L2155.4,1142.3 L2157.4,1144.2 L2159.5,1146.2 L2161.9,1148.2 L2164.4,1150.1 L2167.1,1152.0 L2170.1,1153.6 L2173.4,1154.9 L2177.0,1155.9 L2181.0,1156.2 L2185.1,1155.8 L2188.8,1154.6 L2192.3,1153.1 L2195.5,1151.1 L2198.5,1148.9 L2201.3,1146.4 L2204.1,1143.7 L2206.9,1140.8 L2209.7,1137.7 L2212.5,1134.5 L2215.3,1131.0 L2218.3,1127.4 L2221.5,1123.4 L2224.7,1119.2 L2228.0,1114.7 L2231.4,1109.9 L2234.8,1104.9 L2238.2,1099.7 L2241.6,1094.2 L2245.0,1088.5 L2248.3,1082.6 L2251.7,1076.3 L2255.0,1069.7 L2258.4,1062.8 L2261.8,1055.7 L2265.1,1048.3 L2268.4,1040.9 L2271.6,1033.5 L2274.8,1026.1 L2277.9,1018.7 L2280.8,1011.6 L2283.6,1004.4 L2286.3,997.2 L2288.9,990.1 L2291.4,983.0 L2293.9,975.9 L2296.3,968.8 L2298.6,961.9 L2301.0,954.9 L2303.4,948.1 L2305.9,941.3 L2308.4,934.6 L2311.0,927.9 L2313.6,921.3 L2316.3,914.7 L2318.9,908.1 L2321.6,901.4 L2324.2,894.7 L2326.8,888.0 L2329.4,881.1 L2331.9,874.2 L2334.4,867.2 L2336.9,860.2 L2339.4,853.2 L2341.8,846.1 L2344.3,839.0 L2346.7,831.8 L2349.0,824.6 L2351.3,817.3 L2353.5,810.0 L2355.6,802.7 L2357.7,795.3 L2359.7,787.8 L2361.7,780.2 L2363.6,772.5 L2365.4,764.9 L2367.2,757.3 L2369.0,749.8 L2370.6,742.4 L2372.2,735.2 L2373.8,728.1 L2375.2,721.4 L2376.6,715.1 L2377.8,709.0 L2379.0,703.1 L2380.1,697.2 L2381.3,691.1 L2382.4,684.9 L2383.5,678.3 L2384.7,671.2 L2385.9,663.5 L2387.2,655.1 L2388.5,645.9 L2389.8,636.3 L2391.2,626.2 L2392.6,616.0 L2393.9,605.8 L2395.2,595.7 L2396.5,586.0 L2397.7,576.8 L2398.9,568.4 L2400.0,560.5 L2401.2,553.0 L2402.3,545.7 L2403.4,538.7 L2404.5,532.0 L2405.5,525.4 L2406.4,519.1 L2407.2,512.8 L2407.9,506.7 L2408.5,500.8 L2408.9,495.1 L2409.2,489.9 L2409.3,485.1 L2409.4,480.5 L2409.3,476.0 L2409.2,471.5 L2409.0,467.0 L2408.7,462.4 L2408.4,457.4 L2408.0,452.1 L2407.5,446.3 L2407.0,440.2 L2406.3,433.9 L2405.7,427.4 L2404.9,420.7 L2404.0,413.9 L2403.1,407.1 L2402.1,400.3 L2401.0,393.6 L2399.8,387.0 L2398.5,380.5 L2397.2,374.0 L2395.7,367.6 L2394.1,361.1 L2392.5,354.7 L2390.8,348.4 L2389.1,342.0 L2387.3,335.6 L2385.4,329.2 L2383.5,322.9 L2381.6,316.4 L2379.7,310.0 L2377.7,303.4 L2375.6,296.8 L2373.4,290.2 L2371.2,283.5 L2368.9,276.9 L2366.4,270.4 L2363.8,263.9 L2361.1,257.6 L2358.4,251.5 L2355.7,245.2 L2352.9,238.7 L2350.0,232.1 L2346.8,225.6 L2343.5,219.2 L2339.8,213.0 L2335.8,207.1 L2331.2,201.6 L2326.2,196.6 L2320.6,192.5 L2314.8,189.0 L2308.7,186.2 L2302.5,183.9 L2296.3,182.1 L2290.0,180.7 L2283.7,179.6 L2277.5,178.9 L2271.5,178.4 L2265.5,178.0 L2259.3,177.9 L2253.0,178.2 L2246.6,178.9 L2240.3,179.8 L2234.1,181.0 L2228.0,182.4 L2221.9,184.0 L2216.0,185.7 L2210.3,187.6 L2204.8,189.5 L2199.1,191.8 L2193.6,194.4 L2188.1,197.2 L2182.8,200.1 L2177.7,203.2 L2172.8,206.3 L2168.2,209.3 L2163.8,212.3 L2159.8,215.0 L2156.1,217.6 L2152.7,220.0 L2149.6,222.3 L2146.8,224.5 L2145.0,226.4 L2144.1,228.9 L2144.1,231.5 L2145.1,233.9 L2147.0,235.7 L2149.5,236.7 L2152.1,236.7Z M2152.5,224.0 a7.5,7.5 0 1,0 15.0,0 a7.5,7.5 0 1,0 -15.0,0Z M2198.0,199.0 a10.0,10.0 0 1,0 20.0,0 a10.0,10.0 0 1,0 -20.0,0Z M2254.0,189.0 a11.0,11.0 0 1,0 22.0,0 a11.0,11.0 0 1,0 -22.0,0Z M2308.0,205.0 a11.0,11.0 0 1,0 22.0,0 a11.0,11.0 0 1,0 -22.0,0Z M2340.0,262.0 a11.0,11.0 0 1,0 22.0,0 a11.0,11.0 0 1,0 -22.0,0Z M2362.0,326.0 a11.0,11.0 0 1,0 22.0,0 a11.0,11.0 0 1,0 -22.0,0Z M2378.0,389.0 a11.0,11.0 0 1,0 22.0,0 a11.0,11.0 0 1,0 -22.0,0Z M2386.0,453.0 a11.0,11.0 0 1,0 22.0,0 a11.0,11.0 0 1,0 -22.0,0Z M2387.5,500.0 a10.5,10.5 0 1,0 21.0,0 a10.5,10.5 0 1,0 -21.0,0Z M2379.0,567.0 a10.0,10.0 0 1,0 20.0,0 a10.0,10.0 0 1,0 -20.0,0Z M2366.0,662.0 a10.0,10.0 0 1,0 20.0,0 a10.0,10.0 0 1,0 -20.0,0Z M2354.0,726.0 a10.0,10.0 0 1,0 20.0,0 a10.0,10.0 0 1,0 -20.0,0Z M2336.0,800.0 a10.0,10.0 0 1,0 20.0,0 a10.0,10.0 0 1,0 -20.0,0Z M2313.5,871.0 a9.5,9.5 0 1,0 19.0,0 a9.5,9.5 0 1,0 -19.0,0Z M2287.5,938.0 a9.5,9.5 0 1,0 19.0,0 a9.5,9.5 0 1,0 -19.0,0Z M2262.5,1008.0 a9.5,9.5 0 1,0 19.0,0 a9.5,9.5 0 1,0 -19.0,0Z M2230.5,1078.0 a9.5,9.5 0 1,0 19.0,0 a9.5,9.5 0 1,0 -19.0,0Z M2198.5,1125.0 a9.5,9.5 0 1,0 19.0,0 a9.5,9.5 0 1,0 -19.0,0Z M2174.0,1147.0 a9.0,9.0 0 1,0 18.0,0 a9.0,9.0 0 1,0 -18.0,0Z M2153.0,1137.0 a7.0,7.0 0 1,0 14.0,0 a7.0,7.0 0 1,0 -14.0,0Z"/>
<g filter="url(#sp1)"><path d="M2041.6,280.9 L2041.4,278.1 L2041.2,275.3 L2041.0,272.4 L2040.7,269.2 L2040.3,265.9 L2039.7,262.5 L2038.8,259.2 L2020.3,264.8 L2021.3,267.5 L2022.1,269.9 L2022.8,272.4 L2023.4,275.0 L2024.0,277.8 L2024.6,280.6 L2025.3,283.5Z M2000.3,1066.5 L2003.7,1064.2 L2007.0,1061.8 L2010.3,1059.4 L2013.4,1057.1 L2016.3,1054.9 L2009.2,1043.8 L2006.1,1045.5 L2002.7,1047.2 L1999.2,1048.9 L1995.7,1050.7 L1992.1,1052.4Z "/><path d="M2018.4,345.9 L2017.0,344.7 L2015.5,343.5 L2013.8,342.3 L2011.9,341.1 L2009.8,339.9 L2007.4,338.7 L2004.8,337.5 L2001.9,336.2 L1998.7,334.7 L1995.1,333.1 L1988.9,349.3 L1992.6,350.5 L1996.1,351.6 L1999.2,352.5 L2001.7,353.2 L2003.7,353.8 L2005.4,354.4 L2006.8,354.9 L2008.1,355.5 L2009.5,356.1 L2011.0,356.9Z M2005.4,912.8 L2007.5,910.5 L2009.6,908.2 L2011.9,905.8 L2014.1,903.2 L2005.5,894.0 L2002.9,896.0 L2000.4,897.8 L1997.8,899.5 L1995.3,901.4Z "/><path d="M2004.6,392.3 L2002.8,390.9 L2001.0,389.5 L1999.3,388.3 L1997.5,387.1 L1995.5,386.2 L1993.3,385.5 L1990.9,385.3 L1988.4,385.5 L1986.0,386.1 L1983.5,387.1 L1981.2,388.4 L1986.8,397.9 L1988.5,396.9 L1989.7,396.3 L1990.5,396.0 L1991.1,395.9 L1991.6,395.8 L1992.2,395.9 L1993.1,396.2 L1994.3,396.7 L1995.7,397.5 L1997.5,398.5 L1999.4,399.7Z M2011.0,816.6 L2013.5,814.3 L2015.9,811.9 L2018.3,809.5 L2020.4,807.2 L2013.5,799.3 L2011.0,801.2 L2008.4,803.0 L2005.8,804.8 L2003.1,806.6Z "/><path d="M2090.6,420.8 L2091.7,419.3 L2092.8,417.9 L2093.7,416.8 L2094.7,415.7 L2095.6,414.8 L2096.7,413.9 L2097.9,412.9 L2099.6,411.7 L2090.4,401.6 L2088.7,403.3 L2087.2,405.2 L2085.9,407.0 L2084.8,408.8 L2083.9,410.5 L2083.2,412.2 L2082.4,413.8 L2081.6,415.5Z M2095.3,836.4 L2092.1,838.5 L2088.9,840.4 L2085.5,842.4 L2082.2,844.3 L2079.0,846.2 L2083.9,856.5 L2087.4,855.2 L2091.0,853.8 L2094.7,852.3 L2098.5,850.8 L2102.1,849.2Z "/><path d="M2120.5,335.6 L2122.9,334.6 L2125.3,333.8 L2127.9,333.0 L2130.8,332.2 L2134.2,331.4 L2137.8,330.6 L2141.6,329.8 L2145.6,329.0 L2142.4,315.2 L2138.3,316.3 L2134.3,317.5 L2130.6,318.6 L2127.2,319.8 L2123.9,320.9 L2120.8,322.2 L2118.0,323.6 L2115.4,324.9Z M2126.3,963.4 L2123.6,963.2 L2121.2,963.0 L2118.9,962.7 L2115.1,974.5 L2117.6,975.7 L2120.4,976.8 L2123.2,977.8Z "/><path d="M2143.0,243.3 L2145.2,241.7 L2147.4,240.1 L2149.7,238.6 L2152.1,237.1 L2154.6,235.6 L2157.4,233.9 L2149.5,222.4 L2146.8,224.6 L2144.3,226.8 L2141.9,228.9 L2139.8,231.0 L2137.8,233.0 L2135.8,235.0Z M2156.4,1123.5 L2154.8,1121.2 L2153.2,1119.0 L2151.7,1116.9 L2150.3,1114.8 L2148.9,1112.8 L2141.1,1117.2 L2142.0,1119.3 L2143.0,1121.7 L2144.1,1124.2 L2145.3,1126.8 L2146.6,1129.4Z "/></g>
<g filter="url(#sp2)"><path d="M2042.8,292.8 L2042.5,289.5 L2042.2,286.4 L2041.8,283.4 L2041.6,280.8 L2041.4,278.1 L2024.6,280.7 L2025.3,283.6 L2026.2,286.6 L2027.0,289.4 L2027.9,292.4 L2028.9,295.4Z M2013.4,1057.1 L2016.3,1054.9 L2018.9,1052.9 L2021.3,1051.0 L2023.4,1049.2 L2025.3,1047.5 L2019.0,1038.7 L2016.9,1039.8 L2014.7,1041.0 L2012.1,1042.3 L2009.2,1043.8 L2006.0,1045.5Z "/><path d="M2030.8,356.1 L2028.1,353.9 L2025.6,351.8 L2023.3,350.0 L2021.5,348.5 L2019.9,347.2 L2018.5,345.9 L2017.1,344.8 L2009.4,356.1 L2011.0,356.9 L2012.6,357.8 L2014.5,358.8 L2016.7,360.0 L2019.1,361.3 L2021.8,362.9 L2024.8,364.6Z M2011.9,905.7 L2014.1,903.1 L2016.4,900.4 L2018.6,897.6 L2020.7,894.8 L2022.7,892.2 L2015.9,885.7 L2013.4,887.8 L2010.8,889.9 L2008.1,892.0 L2005.4,894.1 L2002.8,896.0Z "/><path d="M2014.8,402.7 L2012.1,399.7 L2009.5,396.9 L2007.0,394.4 L2004.7,392.4 L2002.8,390.9 L1997.4,398.5 L1999.3,399.6 L2001.4,401.0 L2003.9,402.9 L2006.6,405.3 L2009.6,407.9Z M2018.3,809.5 L2020.4,807.2 L2022.4,805.1 L2024.3,803.2 L2025.9,801.4 L2027.4,799.8 L2028.8,798.3 L2023.6,792.2 L2021.9,793.3 L2020.1,794.6 L2018.1,796.0 L2015.8,797.6 L2013.5,799.4 L2011.0,801.2Z "/><path d="M2083.3,431.6 L2084.9,429.1 L2086.4,426.7 L2087.9,424.5 L2089.3,422.6 L2090.6,420.9 L2091.7,419.3 L2082.4,413.8 L2081.7,415.5 L2080.7,417.4 L2079.6,419.7 L2078.4,422.3 L2077.2,425.0 L2076.0,427.8Z M2082.3,844.3 L2079.0,846.2 L2075.9,848.0 L2073.0,849.8 L2070.2,851.5 L2067.8,853.1 L2065.8,854.5 L2070.0,861.9 L2072.2,860.9 L2074.6,859.9 L2077.4,858.9 L2080.5,857.7 L2083.9,856.5 L2087.4,855.2Z "/><path d="M2105.3,343.5 L2107.7,342.2 L2109.9,341.0 L2112.1,339.8 L2114.2,338.7 L2116.4,337.6 L2118.5,336.5 L2120.6,335.6 L2123.0,334.6 L2117.8,323.6 L2115.3,325.0 L2112.9,326.4 L2110.6,327.9 L2108.5,329.3 L2106.4,330.8 L2104.4,332.3 L2102.3,333.8 L2100.1,335.4Z M2121.5,963.1 L2119.1,962.7 L2117.0,962.4 L2115.0,961.9 L2113.1,961.4 L2111.3,960.8 L2106.9,968.9 L2108.5,970.2 L2110.4,971.6 L2112.5,973.1 L2114.9,974.4 L2117.4,975.7Z "/><path d="M2130.7,252.9 L2133.3,250.7 L2135.9,248.6 L2138.3,246.7 L2140.7,245.0 L2143.0,243.3 L2145.2,241.7 L2137.7,233.0 L2135.8,235.0 L2133.8,237.1 L2131.7,239.3 L2129.4,241.6 L2127.1,244.1 L2124.7,246.7Z M2150.3,1114.8 L2149.0,1112.8 L2147.8,1111.1 L2146.6,1109.3 L2145.6,1107.5 L2144.6,1105.7 L2138.0,1108.4 L2138.6,1110.5 L2139.3,1112.7 L2140.1,1115.0 L2141.0,1117.2 L2142.0,1119.3Z "/></g>
<g filter="url(#sp3)"><path d="M2043.9,311.1 L2043.8,309.5 L2043.7,307.4 L2043.6,305.0 L2043.4,302.2 L2043.2,299.2 L2043.0,296.0 L2042.8,292.8 L2042.5,289.6 L2041.4,286.9 L2039.4,284.8 L2036.7,283.7 L2033.8,283.7 L2031.1,284.8 L2029.1,286.8 L2027.9,289.5 L2027.9,292.3 L2028.8,295.4 L2029.8,298.4 L2030.7,301.4 L2031.5,304.3 L2032.3,306.9 L2033.0,309.3 L2033.6,311.3 L2034.1,312.9 L2034.8,314.7 L2036.1,316.1 L2037.9,316.9 L2039.9,316.9 L2041.7,316.2 L2043.1,314.9 L2043.9,313.1Z M2023.5,1049.2 L2025.4,1047.5 L2027.1,1045.8 L2028.6,1044.3 L2029.9,1042.8 L2031.1,1041.5 L2032.1,1040.3 L2032.9,1039.3 L2033.6,1038.4 L2034.2,1037.7 L2035.1,1036.6 L2035.5,1035.3 L2035.3,1034.0 L2034.7,1032.8 L2033.6,1031.9 L2032.3,1031.5 L2031.0,1031.7 L2029.8,1032.3 L2028.9,1032.8 L2027.9,1033.5 L2026.7,1034.2 L2025.5,1035.0 L2024.1,1035.8 L2022.5,1036.7 L2020.8,1037.7 L2019.0,1038.7 L2016.9,1039.9 L2015.3,1041.5 L2014.6,1043.6 L2014.6,1045.8 L2015.5,1047.8 L2017.2,1049.4 L2019.2,1050.2 L2021.5,1050.1Z "/><path d="M2047.1,370.2 L2045.6,368.9 L2043.8,367.3 L2041.5,365.4 L2039.0,363.2 L2036.4,360.9 L2033.6,358.5 L2030.8,356.1 L2028.1,353.9 L2026.2,353.0 L2024.0,353.0 L2022.0,353.7 L2020.5,355.2 L2019.6,357.2 L2019.5,359.3 L2020.3,361.3 L2021.8,362.9 L2024.7,364.6 L2027.8,366.5 L2030.9,368.4 L2033.9,370.2 L2036.7,372.0 L2039.2,373.5 L2041.3,374.8 L2042.9,375.8 L2044.2,376.4 L2045.5,376.5 L2046.8,376.0 L2047.8,375.1 L2048.4,373.8 L2048.5,372.5 L2048.0,371.2Z M2020.7,894.8 L2022.7,892.2 L2024.5,889.8 L2026.1,887.6 L2027.4,885.8 L2028.5,884.4 L2029.2,883.3 L2029.5,882.0 L2029.2,880.6 L2028.4,879.5 L2027.3,878.8 L2026.0,878.5 L2024.6,878.8 L2023.5,879.6 L2022.1,880.7 L2020.3,882.1 L2018.3,883.8 L2015.9,885.8 L2013.4,887.8 L2012.3,889.5 L2012.0,891.4 L2012.4,893.3 L2013.6,895.0 L2015.2,896.0 L2017.2,896.4 L2019.1,896.0Z "/><path d="M2027.8,418.3 L2026.4,416.7 L2024.7,414.5 L2022.5,411.9 L2020.1,409.0 L2017.5,405.9 L2014.8,402.7 L2012.1,399.7 L2010.9,398.9 L2009.4,398.6 L2007.9,398.9 L2006.6,399.7 L2005.8,401.0 L2005.5,402.5 L2005.8,404.0 L2006.6,405.2 L2009.5,407.9 L2012.5,410.6 L2015.4,413.4 L2018.1,416.0 L2020.6,418.3 L2022.6,420.3 L2024.2,421.7 L2025.0,422.3 L2026.0,422.5 L2026.9,422.3 L2027.7,421.8 L2028.3,421.0 L2028.5,420.0 L2028.3,419.1Z M2027.5,799.8 L2028.9,798.3 L2030.1,796.8 L2031.3,795.5 L2032.3,794.2 L2033.2,793.1 L2034.0,792.1 L2034.6,791.2 L2035.2,790.5 L2035.7,789.8 L2036.3,789.0 L2036.5,788.1 L2036.3,787.1 L2035.8,786.3 L2035.0,785.7 L2034.1,785.5 L2033.1,785.7 L2032.3,786.2 L2031.6,786.7 L2030.8,787.2 L2029.9,787.9 L2028.9,788.6 L2027.7,789.4 L2026.4,790.2 L2025.1,791.2 L2023.5,792.2 L2021.9,793.4 L2020.9,794.7 L2020.4,796.3 L2020.6,797.9 L2021.4,799.4 L2022.8,800.4 L2024.4,800.9 L2026.0,800.6Z "/><path d="M2075.7,444.4 L2076.5,443.0 L2077.6,441.2 L2078.8,439.1 L2080.2,436.7 L2081.7,434.2 L2083.3,431.6 L2084.9,429.0 L2085.3,427.4 L2085.2,425.7 L2084.3,424.2 L2083.0,423.2 L2081.4,422.7 L2079.7,422.9 L2078.2,423.7 L2077.2,425.0 L2076.0,427.9 L2074.8,430.7 L2073.7,433.4 L2072.6,436.0 L2071.7,438.3 L2070.9,440.2 L2070.3,441.6 L2070.0,442.8 L2070.1,443.9 L2070.7,445.0 L2071.6,445.7 L2072.8,446.0 L2073.9,445.9 L2075.0,445.3Z M2067.8,853.1 L2065.7,854.6 L2063.8,856.0 L2062.2,857.4 L2060.8,858.7 L2059.5,859.9 L2058.4,860.9 L2057.5,861.9 L2056.8,862.7 L2056.1,863.4 L2055.5,864.0 L2054.9,864.7 L2054.5,865.6 L2054.6,866.6 L2055.0,867.5 L2055.7,868.1 L2056.6,868.5 L2057.6,868.4 L2058.5,868.0 L2059.3,867.6 L2060.2,867.0 L2061.2,866.5 L2062.3,865.8 L2063.5,865.1 L2064.9,864.4 L2066.4,863.6 L2068.1,862.8 L2070.0,861.9 L2072.2,860.9 L2073.6,859.7 L2074.3,858.2 L2074.5,856.4 L2073.9,854.8 L2072.7,853.4 L2071.2,852.7 L2069.4,852.5Z "/><path d="M2086.8,355.4 L2088.1,354.5 L2089.7,353.5 L2091.6,352.2 L2093.7,350.8 L2095.9,349.3 L2098.3,347.8 L2100.7,346.3 L2103.1,344.8 L2105.4,343.5 L2107.7,342.2 L2109.1,340.9 L2109.9,339.1 L2109.9,337.1 L2109.2,335.3 L2107.9,333.9 L2106.1,333.1 L2104.1,333.1 L2102.3,333.8 L2100.1,335.4 L2097.8,337.3 L2095.5,339.2 L2093.2,341.2 L2091.1,343.2 L2089.1,345.1 L2087.2,346.8 L2085.6,348.4 L2084.2,349.6 L2083.2,350.6 L2082.4,351.5 L2082.0,352.6 L2082.1,353.8 L2082.6,354.8 L2083.5,355.6 L2084.6,356.0 L2085.8,355.9Z M2113.2,961.4 L2111.4,960.8 L2109.7,960.3 L2108.2,959.7 L2106.7,959.2 L2105.6,958.9 L2104.3,958.5 L2102.9,958.7 L2101.7,959.4 L2100.9,960.4 L2100.5,961.7 L2100.7,963.1 L2101.4,964.3 L2102.4,965.1 L2103.2,965.8 L2104.2,966.6 L2105.4,967.7 L2106.8,968.9 L2108.4,970.2 L2110.3,970.8 L2112.2,970.6 L2113.9,969.7 L2115.2,968.2 L2115.8,966.4 L2115.6,964.4 L2114.7,962.7Z "/><path d="M2116.1,266.1 L2117.5,264.9 L2119.2,263.4 L2121.1,261.6 L2123.3,259.5 L2125.7,257.4 L2128.2,255.1 L2130.8,252.9 L2133.4,250.7 L2134.4,249.2 L2134.7,247.5 L2134.4,245.7 L2133.5,244.2 L2132.0,243.2 L2130.3,242.9 L2128.5,243.2 L2127.0,244.2 L2124.7,246.8 L2122.4,249.4 L2120.2,252.0 L2118.1,254.5 L2116.1,256.8 L2114.4,258.9 L2113.0,260.6 L2111.9,261.9 L2111.2,262.9 L2111.0,264.0 L2111.2,265.2 L2111.9,266.1 L2112.9,266.8 L2114.0,267.0 L2115.2,266.8Z M2145.6,1107.6 L2144.6,1105.7 L2143.7,1104.0 L2142.9,1102.3 L2142.1,1100.7 L2141.4,1099.3 L2140.8,1098.1 L2140.3,1097.1 L2139.8,1096.3 L2139.0,1095.7 L2138.1,1095.5 L2137.1,1095.7 L2136.3,1096.2 L2135.7,1097.0 L2135.5,1097.9 L2135.7,1098.9 L2135.9,1099.9 L2136.2,1101.2 L2136.6,1102.7 L2137.0,1104.4 L2137.4,1106.3 L2138.0,1108.3 L2138.6,1110.4 L2139.4,1111.7 L2140.6,1112.5 L2142.1,1112.8 L2143.5,1112.5 L2144.8,1111.7 L2145.6,1110.5 L2145.9,1109.0Z "/></g>
</g>
</svg>
</body></html>
